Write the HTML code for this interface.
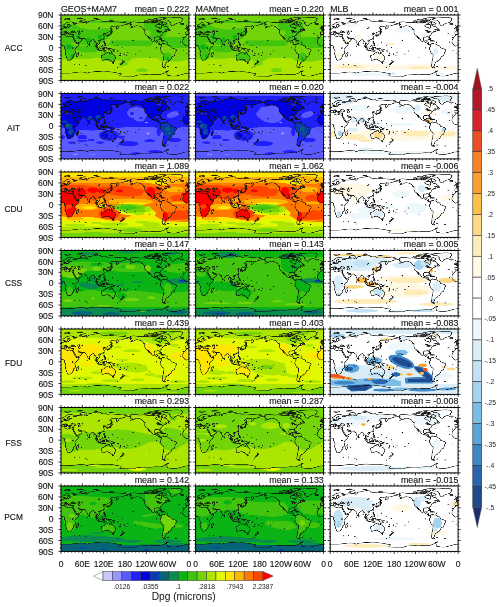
<!DOCTYPE html><html><head><meta charset="utf-8"><style>html,body{margin:0;padding:0;background:#fff}svg{display:block;will-change:transform}text{font-family:"Liberation Sans", sans-serif}</style></head><body><svg width="500" height="607" viewBox="0 0 500 607"><rect width="500" height="607" fill="#fff"/><defs><path id="coast" d="M-5.6 54.0L-9.6 59.5L-13.0 62.5L-17.0 69.0L-17.5 75.3L-16.7 77.5L-15.0 79.0L-13.3 81.0L-11.5 83.1L-7.5 85.6L-4.0 84.8L1.0 84.0L4.5 83.7L8.5 85.5L9.7 86.5L9.5 89.0L9.0 91.0L11.8 94.5L12.3 96.0L13.2 98.8L13.7 101.0L12.0 107.0L14.5 112.9L15.2 117.0L16.5 118.6L18.4 123.9L20.0 124.8L22.5 124.0L25.6 123.9L28.0 122.8L30.9 120.0L32.5 118.5L32.9 116.0L35.5 114.0L35.3 112.0L34.7 110.0L36.5 108.8L39.5 106.5L40.5 105.0L40.4 100.5L39.3 97.0L38.9 95.0L40.2 93.0L41.5 91.6L43.5 89.3L46.0 87.5L48.5 84.5L51.2 79.5L51.3 78.2L48.0 78.8L45.0 79.4L43.3 78.2L42.6 77.0L41.0 75.0L39.5 73.5L38.5 72.0L37.2 69.0L36.6 68.0L35.5 66.1L34.2 63.5L33.5 62.0L32.5 60.1L32.3 58.8L30.0 58.7L28.0 59.0L25.0 58.4L23.0 57.4L20.0 59.0L19.0 59.7L15.5 58.5L13.0 57.2L11.0 56.7L10.5 55.0L11.0 53.0L9.5 52.7L8.5 53.1L5.0 53.2L3.0 53.2L0.0 54.2L-2.0 55.0L-5.6 54.0ZM354.4 54.0L350.4 59.5L347.0 62.5L343.0 69.0L342.5 75.3L343.3 77.5L345.0 79.0L346.7 81.0L348.5 83.1L352.5 85.6L356.0 84.8L361.0 84.0L364.5 83.7L368.5 85.5L369.7 86.5L369.5 89.0L369.0 91.0L371.8 94.5L372.3 96.0L373.2 98.8L373.7 101.0L372.0 107.0L374.5 112.9L375.2 117.0L376.5 118.6L378.4 123.9L380.0 124.8L382.5 124.0L385.6 123.9L388.0 122.8L390.9 120.0L392.5 118.5L392.9 116.0L395.5 114.0L395.3 112.0L394.7 110.0L396.5 108.8L399.5 106.5L400.5 105.0L400.4 100.5L399.3 97.0L398.9 95.0L400.2 93.0L401.5 91.6L403.5 89.3L406.0 87.5L408.5 84.5L411.2 79.5L411.3 78.2L408.0 78.8L405.0 79.4L403.3 78.2L402.6 77.0L401.0 75.0L399.5 73.5L398.5 72.0L397.2 69.0L396.6 68.0L395.5 66.1L394.2 63.5L393.5 62.0L392.5 60.1L392.3 58.8L390.0 58.7L388.0 59.0L385.0 58.4L383.0 57.4L380.0 59.0L379.0 59.7L375.5 58.5L373.0 57.2L371.0 56.7L370.5 55.0L371.0 53.0L369.5 52.7L368.5 53.1L365.0 53.2L363.0 53.2L360.0 54.2L358.0 55.0L354.4 54.0ZM44.0 115.0L43.3 112.0L44.3 109.0L44.0 106.8L46.0 105.7L48.0 103.5L49.3 102.0L50.5 105.5L49.5 108.0L48.5 111.0L47.1 114.9L45.0 115.5L44.0 115.0ZM-5.6 54.0L-6.5 53.1L-8.9 53.0L-8.8 50.0L-8.9 47.5L-9.3 47.0L-7.5 46.3L-4.0 46.6L-1.8 46.6L-1.2 43.8L-2.2 42.8L-4.5 42.1L-3.0 41.2L-1.5 41.3L-1.4 40.3L0.2 40.5L1.6 39.8L2.5 38.9L4.0 38.5L4.8 37.0L7.0 36.5L8.6 36.0L8.6 34.5L8.1 33.2L10.5 32.3L10.5 33.8L10.0 35.2L11.0 36.0L12.5 35.6L14.2 36.1L18.0 35.2L19.9 35.6L21.2 34.8L21.0 33.2L23.5 32.7L24.4 32.1L23.5 30.8L28.0 30.5L30.0 30.0L26.0 29.6L22.5 30.0L21.5 27.0L25.0 25.0L22.2 24.2L21.0 25.5L17.5 27.5L17.2 29.0L18.8 30.0L18.5 30.7L16.5 33.0L16.0 34.0L14.2 34.6L12.8 34.2L12.5 33.4L11.5 31.5L10.5 30.7L8.0 31.9L6.0 31.8L5.5 31.0L5.0 29.0L5.2 27.5L8.5 26.5L10.5 25.5L12.5 24.0L14.5 22.0L16.5 21.0L19.0 20.0L23.0 19.5L26.0 19.0L28.5 19.0L31.0 19.7L33.0 20.5L36.0 20.9L40.0 22.2L41.0 23.5L38.0 24.0L35.0 23.5L34.5 25.0L37.0 26.0L40.0 25.5L44.0 24.0L44.0 21.5L48.0 22.4L53.0 21.5L59.0 21.5L61.0 20.2L66.0 21.0L68.5 21.7L66.5 19.2L68.0 17.5L71.5 17.1L72.5 18.5L72.0 23.0L75.0 21.5L77.0 17.7L80.0 16.5L86.0 16.0L87.0 15.0L95.0 14.0L104.0 12.3L106.0 13.0L112.0 13.5L113.5 16.5L120.0 17.5L128.0 17.2L131.0 19.0L140.0 17.5L150.0 18.5L159.0 19.2L170.0 20.0L176.0 20.3L180.0 21.1L186.0 22.7L190.3 24.0L187.0 25.7L181.5 25.5L178.0 27.5L174.0 28.2L170.0 30.0L164.0 30.0L163.0 32.0L162.0 32.0L163.5 34.0L160.0 37.0L156.7 39.0L156.0 37.0L156.0 33.0L160.0 29.0L155.0 30.5L151.0 31.0L143.0 30.7L140.5 32.5L137.0 36.0L141.0 37.0L141.5 38.5L140.5 42.0L138.0 45.0L135.0 46.8L132.0 47.0L130.5 47.7L129.5 49.5L129.5 53.0L129.3 54.8L127.0 55.4L126.3 55.5L126.5 53.2L126.0 52.3L124.7 50.3L122.0 51.0L121.5 49.2L119.5 50.2L117.8 51.0L118.5 52.0L119.0 52.8L122.5 52.6L120.5 54.0L119.5 55.5L120.8 58.0L121.9 59.2L121.5 62.0L119.5 64.5L117.0 66.5L114.0 67.7L111.0 68.5L110.3 69.7L109.5 68.5L108.0 68.5L106.5 69.7L105.7 71.0L106.5 72.5L108.8 74.7L109.3 77.0L109.0 78.5L107.0 79.6L105.0 81.3L104.8 80.0L103.0 79.0L102.0 77.7L100.8 76.5L100.0 77.5L99.2 80.0L99.8 81.0L100.3 82.5L101.3 83.1L102.3 84.0L103.4 85.5L103.5 87.3L104.2 88.6L103.4 88.7L101.3 87.2L100.4 85.5L100.2 83.5L98.3 82.0L98.5 79.5L98.6 77.0L97.7 73.5L96.5 73.2L95.3 74.2L94.3 73.9L94.6 71.5L93.0 70.0L92.2 69.0L91.8 67.6L90.5 68.0L89.0 68.2L87.0 68.5L86.9 69.5L85.0 70.7L82.3 73.5L80.3 74.5L80.2 76.5L79.8 79.7L78.0 81.5L77.5 81.9L76.5 81.1L75.5 78.5L74.5 75.5L73.5 74.0L72.8 71.0L72.8 69.0L72.5 68.5L70.5 69.2L69.0 67.7L68.5 66.5L67.5 65.5L66.6 64.6L64.0 64.7L61.5 64.8L58.5 64.4L57.3 64.1L56.5 62.9L54.5 63.4L52.5 62.5L50.8 61.0L50.0 59.8L48.5 60.0L48.0 60.7L48.5 62.0L50.0 63.5L50.5 64.5L51.5 64.2L51.5 65.7L54.0 65.8L56.0 64.5L56.3 63.6L57.0 66.0L58.8 67.4L59.8 67.6L58.5 69.5L57.8 71.0L56.5 72.0L55.0 73.0L52.2 74.4L49.5 75.5L48.5 76.0L45.0 77.2L43.5 77.3L42.8 75.0L42.6 73.5L41.2 71.0L39.2 68.5L38.5 66.5L37.0 64.5L35.3 62.0L34.6 61.9L35.0 60.5L34.3 62.2L33.5 61.5L32.5 60.1L32.5 58.8L34.3 58.7L35.0 57.2L35.5 55.5L35.9 54.2L36.0 53.2L34.5 53.2L32.5 53.9L30.5 53.7L28.3 53.2L27.0 52.2L26.5 50.5L26.2 49.6L26.0 49.2L24.0 49.2L23.0 49.7L22.6 50.0L23.0 51.0L24.0 51.8L23.0 52.5L22.5 53.5L21.7 53.2L21.2 51.7L20.0 50.3L19.5 48.5L18.5 47.5L16.0 46.5L14.5 45.0L13.7 44.4L12.3 44.7L12.4 45.8L13.6 46.5L16.0 48.1L18.5 49.8L17.0 50.5L16.5 51.5L15.7 52.0L16.0 50.5L15.5 49.8L14.0 49.0L12.4 48.3L10.5 47.0L9.3 45.7L8.0 46.1L6.5 46.9L4.5 46.5L3.0 47.0L3.2 48.1L1.0 49.0L0.0 50.5L-0.5 51.7L-2.0 53.2L-4.5 53.3L-5.6 54.0ZM354.4 54.0L353.5 53.1L351.1 53.0L351.2 50.0L351.1 47.5L350.7 47.0L352.5 46.3L356.0 46.6L358.2 46.6L358.8 43.8L357.8 42.8L355.5 42.1L357.0 41.2L358.5 41.3L358.6 40.3L360.2 40.5L361.6 39.8L362.5 38.9L364.0 38.5L364.8 37.0L367.0 36.5L368.6 36.0L368.6 34.5L368.1 33.2L370.5 32.3L370.5 33.8L370.0 35.2L371.0 36.0L372.5 35.6L374.2 36.1L378.0 35.2L379.9 35.6L381.2 34.8L381.0 33.2L383.5 32.7L384.4 32.1L383.5 30.8L388.0 30.5L390.0 30.0L386.0 29.6L382.5 30.0L381.5 27.0L385.0 25.0L382.2 24.2L381.0 25.5L377.5 27.5L377.2 29.0L378.8 30.0L378.5 30.7L376.5 33.0L376.0 34.0L374.2 34.6L372.8 34.2L372.5 33.4L371.5 31.5L370.5 30.7L368.0 31.9L366.0 31.8L365.5 31.0L365.0 29.0L365.2 27.5L368.5 26.5L370.5 25.5L372.5 24.0L374.5 22.0L376.5 21.0L379.0 20.0L383.0 19.5L386.0 19.0L388.5 19.0L391.0 19.7L393.0 20.5L396.0 20.9L400.0 22.2L401.0 23.5L398.0 24.0L395.0 23.5L394.5 25.0L397.0 26.0L400.0 25.5L404.0 24.0L404.0 21.5L408.0 22.4L413.0 21.5L419.0 21.5L421.0 20.2L426.0 21.0L428.5 21.7L426.5 19.2L428.0 17.5L431.5 17.1L432.5 18.5L432.0 23.0L435.0 21.5L437.0 17.7L440.0 16.5L446.0 16.0L447.0 15.0L455.0 14.0L464.0 12.3L466.0 13.0L472.0 13.5L473.5 16.5L480.0 17.5L488.0 17.2L491.0 19.0L500.0 17.5L510.0 18.5L519.0 19.2L530.0 20.0L536.0 20.3L540.0 21.1L546.0 22.7L550.3 24.0L547.0 25.7L541.5 25.5L538.0 27.5L534.0 28.2L530.0 30.0L524.0 30.0L523.0 32.0L522.0 32.0L523.5 34.0L520.0 37.0L516.7 39.0L516.0 37.0L516.0 33.0L520.0 29.0L515.0 30.5L511.0 31.0L503.0 30.7L500.5 32.5L497.0 36.0L501.0 37.0L501.5 38.5L500.5 42.0L498.0 45.0L495.0 46.8L492.0 47.0L490.5 47.7L489.5 49.5L489.5 53.0L489.3 54.8L487.0 55.4L486.3 55.5L486.5 53.2L486.0 52.3L484.7 50.3L482.0 51.0L481.5 49.2L479.5 50.2L477.8 51.0L478.5 52.0L479.0 52.8L482.5 52.6L480.5 54.0L479.5 55.5L480.8 58.0L481.9 59.2L481.5 62.0L479.5 64.5L477.0 66.5L474.0 67.7L471.0 68.5L470.3 69.7L469.5 68.5L468.0 68.5L466.5 69.7L465.7 71.0L466.5 72.5L468.8 74.7L469.3 77.0L469.0 78.5L467.0 79.6L465.0 81.3L464.8 80.0L463.0 79.0L462.0 77.7L460.8 76.5L460.0 77.5L459.2 80.0L459.8 81.0L460.3 82.5L461.3 83.1L462.3 84.0L463.4 85.5L463.5 87.3L464.2 88.6L463.4 88.7L461.3 87.2L460.4 85.5L460.2 83.5L458.3 82.0L458.5 79.5L458.6 77.0L457.7 73.5L456.5 73.2L455.3 74.2L454.3 73.9L454.6 71.5L453.0 70.0L452.2 69.0L451.8 67.6L450.5 68.0L449.0 68.2L447.0 68.5L446.9 69.5L445.0 70.7L442.3 73.5L440.3 74.5L440.2 76.5L439.8 79.7L438.0 81.5L437.5 81.9L436.5 81.1L435.5 78.5L434.5 75.5L433.5 74.0L432.8 71.0L432.8 69.0L432.5 68.5L430.5 69.2L429.0 67.7L428.5 66.5L427.5 65.5L426.6 64.6L424.0 64.7L421.5 64.8L418.5 64.4L417.3 64.1L416.5 62.9L414.5 63.4L412.5 62.5L410.8 61.0L410.0 59.8L408.5 60.0L408.0 60.7L408.5 62.0L410.0 63.5L410.5 64.5L411.5 64.2L411.5 65.7L414.0 65.8L416.0 64.5L416.3 63.6L417.0 66.0L418.8 67.4L419.8 67.6L418.5 69.5L417.8 71.0L416.5 72.0L415.0 73.0L412.2 74.4L409.5 75.5L408.5 76.0L405.0 77.2L403.5 77.3L402.8 75.0L402.6 73.5L401.2 71.0L399.2 68.5L398.5 66.5L397.0 64.5L395.3 62.0L394.6 61.9L395.0 60.5L394.3 62.2L393.5 61.5L392.5 60.1L392.5 58.8L394.3 58.7L395.0 57.2L395.5 55.5L395.9 54.2L396.0 53.2L394.5 53.2L392.5 53.9L390.5 53.7L388.3 53.2L387.0 52.2L386.5 50.5L386.2 49.6L386.0 49.2L384.0 49.2L383.0 49.7L382.6 50.0L383.0 51.0L384.0 51.8L383.0 52.5L382.5 53.5L381.7 53.2L381.2 51.7L380.0 50.3L379.5 48.5L378.5 47.5L376.0 46.5L374.5 45.0L373.7 44.4L372.3 44.7L372.4 45.8L373.6 46.5L376.0 48.1L378.5 49.8L377.0 50.5L376.5 51.5L375.7 52.0L376.0 50.5L375.5 49.8L374.0 49.0L372.4 48.3L370.5 47.0L369.3 45.7L368.0 46.1L366.5 46.9L364.5 46.5L363.0 47.0L363.2 48.1L361.0 49.0L360.0 50.5L359.5 51.7L358.0 53.2L355.5 53.3L354.4 54.0ZM28.0 48.7L28.7 46.6L30.0 44.5L31.5 43.4L33.5 44.0L32.5 44.7L33.5 45.5L35.5 45.0L37.0 44.7L38.5 45.7L40.0 46.7L41.6 48.4L40.0 49.0L38.0 49.1L35.5 48.3L33.3 48.0L31.3 48.8L28.0 48.7ZM47.0 45.0L49.5 43.5L53.0 43.3L53.5 45.0L51.0 45.5L52.8 48.5L54.0 49.5L53.5 51.5L53.5 53.0L51.0 53.3L49.0 52.4L49.3 49.7L48.5 48.2L47.5 47.0L47.0 45.0ZM192.0 24.4L195.5 23.5L196.5 22.5L194.0 21.2L197.0 20.0L203.0 19.0L203.5 18.7L208.0 19.2L215.0 20.0L219.0 20.4L223.0 21.0L227.0 20.5L231.0 20.0L235.0 20.5L240.0 21.0L245.0 22.0L250.0 22.0L254.0 21.5L260.0 22.2L263.0 22.0L265.0 21.0L267.0 20.5L270.0 21.5L272.0 22.5L274.0 21.5L276.0 23.0L278.0 23.5L274.0 24.5L272.0 26.0L268.0 27.5L265.5 30.0L267.0 31.3L270.0 33.0L274.0 34.5L278.0 35.0L277.7 37.0L280.0 38.5L281.0 37.5L281.0 35.5L283.0 34.0L283.0 32.0L282.0 30.0L282.5 28.0L286.0 27.5L289.0 29.0L290.5 31.0L294.0 31.2L295.5 29.7L298.0 32.5L300.0 35.0L303.0 37.0L304.3 38.0L302.5 38.8L300.0 39.8L296.0 39.8L293.5 40.5L295.5 41.2L295.0 42.0L295.5 43.5L298.5 44.4L297.0 45.4L294.0 46.2L294.0 45.0L293.0 45.4L290.0 46.3L289.4 47.5L290.0 48.3L288.5 48.7L286.1 49.4L286.0 50.5L285.0 51.2L284.0 53.0L284.3 54.8L283.0 55.5L281.0 56.5L279.0 58.0L278.7 60.0L279.9 63.5L279.5 64.8L278.5 64.2L277.4 62.5L277.2 61.0L276.0 60.0L274.0 59.6L271.5 59.6L270.5 60.8L269.0 60.7L266.0 60.3L263.0 62.2L262.5 64.5L262.3 68.0L263.0 70.0L264.0 71.0L265.5 71.8L268.0 71.4L269.5 70.5L269.7 69.0L273.0 68.5L272.5 71.0L271.8 72.5L271.5 74.0L274.0 74.0L276.0 75.0L276.7 75.8L276.4 78.5L277.5 80.5L280.5 80.5L282.5 81.3L282.7 82.0L282.0 82.7L280.5 82.2L279.5 82.7L278.5 81.9L276.5 81.5L274.3 80.0L274.1 78.8L272.5 77.0L270.5 76.5L268.5 76.0L267.0 74.4L265.5 73.8L263.5 74.3L261.5 73.7L259.0 72.7L256.5 71.5L254.5 69.5L254.8 68.2L254.0 67.0L252.0 65.0L250.5 63.5L249.0 62.0L247.2 59.7L245.3 58.3L245.5 60.0L247.5 62.5L249.7 66.0L250.5 66.9L249.7 66.5L248.0 65.0L246.0 62.5L245.5 61.0L244.0 59.5L242.9 57.5L241.5 56.0L239.4 55.5L238.1 53.5L237.5 52.2L236.2 50.5L235.7 49.0L235.5 47.0L236.0 44.0L235.3 41.6L237.0 41.5L235.5 40.2L232.5 39.2L232.0 38.0L230.0 36.0L228.5 34.5L226.0 32.5L224.0 31.7L221.0 30.5L217.0 30.0L214.0 29.2L211.0 30.0L208.5 30.7L206.0 33.0L203.0 33.0L199.0 34.5L195.5 35.5L200.0 33.5L202.0 31.4L198.0 31.0L195.5 29.5L194.5 28.0L195.5 26.8L199.0 26.0L196.5 25.5L193.5 25.3L192.0 24.4ZM282.7 82.0L284.0 80.5L284.5 79.5L286.0 78.7L288.0 78.0L288.7 79.0L288.5 79.5L290.0 78.5L292.0 79.5L295.0 79.9L298.0 79.3L299.0 81.0L301.0 82.0L303.0 84.0L306.0 84.2L308.0 85.5L309.0 86.5L310.0 88.3L310.0 90.0L312.0 91.0L315.0 91.5L318.0 92.8L321.0 93.5L323.0 94.8L324.8 95.5L325.2 97.5L324.7 99.5L323.0 101.0L321.3 103.0L321.0 106.0L320.5 108.0L319.5 111.0L318.0 113.0L315.5 113.3L313.0 114.5L311.5 116.5L311.3 118.5L309.5 121.0L307.5 123.5L306.0 124.7L303.0 125.5L302.7 127.0L302.2 128.5L298.0 129.0L297.5 130.5L295.0 131.0L295.5 132.5L294.5 135.0L292.5 136.5L294.0 138.0L291.5 140.5L291.5 142.3L290.0 143.0L288.5 144.0L286.0 142.5L284.5 140.0L285.5 136.0L286.5 133.0L286.3 130.0L286.6 127.0L288.3 123.0L288.5 120.0L289.4 115.0L289.8 110.0L289.6 108.4L288.0 107.0L284.5 105.0L283.5 103.0L282.0 100.0L280.5 97.0L279.0 95.5L278.8 94.2L280.0 93.0L279.5 91.0L280.0 89.2L281.2 88.5L282.5 86.5L282.7 84.0L282.2 82.8L282.7 82.0ZM291.4 142.6L294.7 144.9L292.0 145.6L289.0 145.0L285.5 142.8L290.0 143.5L291.4 142.6ZM287.0 11.5L293.0 9.5L300.0 8.0L310.0 7.5L320.0 6.5L330.0 6.5L338.0 7.5L340.0 9.0L343.0 10.0L341.0 12.0L341.5 14.0L340.0 16.0L338.0 17.5L338.0 19.5L335.0 20.5L331.0 21.7L328.0 22.0L325.0 23.7L322.0 24.5L320.0 25.5L318.5 27.5L317.0 30.0L315.0 29.8L312.0 29.0L310.0 27.5L308.5 25.5L307.0 23.5L306.0 21.5L309.0 20.5L306.0 19.2L305.0 18.0L303.0 15.5L300.0 14.0L293.0 14.0L289.0 12.5L287.0 11.5ZM298.0 23.5L296.0 25.0L294.0 27.0L292.0 27.2L289.0 26.2L286.0 25.4L282.0 25.5L286.0 22.5L287.0 21.5L283.0 20.0L279.0 20.0L270.0 18.0L274.0 16.5L280.0 16.5L284.0 17.5L289.0 19.0L293.0 20.5L298.0 23.5ZM258.0 21.0L254.0 21.0L248.0 21.5L242.0 20.5L242.0 18.5L246.0 17.0L252.0 17.0L256.0 19.0L258.0 21.0ZM270.0 13.5L280.0 13.5L284.0 11.5L290.0 10.0L298.0 8.0L290.0 7.0L280.0 7.0L270.0 8.5L268.0 11.0L270.0 13.5ZM235.0 18.5L240.0 19.0L243.0 17.0L240.0 15.5L235.0 16.0L235.0 18.5ZM280.0 15.5L268.0 15.5L264.0 14.0L270.0 13.0L278.0 13.5L280.0 15.5ZM262.0 15.0L255.0 14.5L250.0 13.5L243.0 14.0L248.0 12.0L258.0 11.5L262.0 13.0L262.0 15.0ZM280.0 26.5L275.0 27.0L273.0 25.5L275.0 24.2L279.0 25.5L280.0 26.5ZM270.0 17.5L265.0 18.0L263.0 16.5L266.0 16.0L270.0 16.7L270.0 17.5ZM264.0 20.5L260.0 21.0L261.0 20.0L264.0 20.5ZM262.0 19.0L257.0 18.5L257.0 17.0L261.0 16.5L263.0 18.0L262.0 19.0ZM272.0 11.0L264.0 11.0L263.0 9.0L268.0 9.0L272.0 11.0ZM10.0 12.0L16.0 13.5L23.0 12.5L27.0 11.0L22.0 9.5L17.0 10.0L11.0 10.3L10.0 12.0ZM52.0 18.5L56.0 19.5L58.0 18.5L55.0 17.0L57.0 15.0L62.0 14.0L68.5 13.0L66.0 13.0L58.0 14.5L54.5 16.0L52.0 18.5ZM96.0 11.0L104.0 11.0L100.0 9.0L92.0 10.0L96.0 11.0ZM138.0 15.0L148.0 14.5L141.0 13.5L136.0 14.0L138.0 15.0ZM178.0 19.0L183.0 18.8L181.0 18.4L178.0 19.0ZM45.0 10.0L55.0 10.0L62.0 9.0L55.0 8.2L47.0 9.0L45.0 10.0ZM338.0 26.0L336.0 24.5L338.0 23.6L344.0 23.5L346.0 24.5L345.5 25.6L342.0 26.6L338.0 26.0ZM-5.7 40.0L-3.0 39.4L1.3 38.9L1.7 37.3L0.2 36.5L-1.5 35.0L-2.0 34.0L-1.8 32.4L-3.5 31.4L-5.0 31.4L-6.2 32.5L-5.6 34.0L-4.9 35.0L-3.0 35.1L-3.2 36.1L-3.0 36.6L-4.5 36.7L-4.3 37.7L-5.3 38.2L-3.2 38.6L-5.7 40.0ZM354.3 40.0L357.0 39.4L361.3 38.9L361.7 37.3L360.2 36.5L358.5 35.0L358.0 34.0L358.2 32.4L356.5 31.4L355.0 31.4L353.8 32.5L354.4 34.0L355.1 35.0L357.0 35.1L356.8 36.1L357.0 36.6L355.5 36.7L355.7 37.7L354.7 38.2L356.8 38.6L354.3 40.0ZM354.0 38.0L354.0 36.1L354.0 35.0L352.5 34.7L351.5 35.5L350.0 36.0L350.3 37.0L349.7 38.0L350.5 38.5L354.0 38.0ZM130.0 58.7L131.3 58.6L132.0 56.5L133.5 56.5L135.2 56.2L136.8 55.5L139.0 55.3L140.8 54.3L141.0 51.7L142.0 50.5L141.4 48.6L140.0 49.3L139.8 51.5L138.5 52.5L136.8 52.8L136.0 54.3L133.0 54.5L131.0 55.5L129.7 56.7L130.0 58.7ZM140.0 48.5L141.0 47.5L143.3 48.0L145.5 46.7L145.0 45.8L142.0 44.5L141.5 46.0L140.0 47.0L140.0 48.5ZM142.0 44.0L143.5 43.5L143.0 41.0L144.5 41.0L143.0 37.0L142.5 35.7L142.0 39.0L142.0 44.0ZM120.1 67.0L120.9 68.0L121.9 65.5L121.5 64.7L120.1 67.0ZM108.6 71.0L110.5 71.8L111.0 70.3L110.2 69.9L108.6 71.0ZM79.8 82.0L80.2 80.2L81.8 82.5L81.2 83.8L80.0 84.0L79.8 82.0ZM120.0 74.0L120.6 71.5L122.2 71.5L122.0 73.0L121.5 74.5L124.0 77.0L122.0 76.5L120.6 75.8L120.0 74.0ZM122.0 83.0L123.5 82.2L126.0 80.7L126.5 83.0L125.4 84.4L124.0 83.5L122.0 83.0ZM122.0 79.0L125.5 77.5L125.0 80.0L123.0 80.5L122.0 79.0ZM109.0 88.5L109.6 88.0L111.0 88.2L113.0 86.8L115.5 85.0L116.8 83.0L118.5 84.5L119.0 85.0L117.7 86.0L118.5 89.0L117.5 90.0L116.6 91.5L116.2 94.0L114.5 93.5L111.5 93.0L110.2 92.9L110.0 91.0L109.0 89.5L109.0 88.5ZM95.3 84.4L97.5 84.8L100.3 87.5L103.5 90.0L104.5 91.5L106.0 93.0L105.8 95.8L104.5 95.8L102.0 94.0L100.5 91.5L99.0 89.5L98.0 87.5L95.3 84.4ZM105.2 96.8L106.0 96.0L108.5 96.3L110.5 96.8L112.5 96.9L114.5 97.8L114.3 98.7L111.0 98.2L108.0 97.8L105.2 96.8ZM115.0 98.3L119.0 98.5L123.0 98.3L127.0 98.4L125.0 99.5L124.0 100.2L120.0 99.8L116.0 98.9L115.0 98.3ZM119.5 95.5L120.4 95.5L120.5 93.0L122.0 94.8L122.5 94.0L121.3 92.0L123.3 90.8L121.0 90.8L120.5 89.5L123.5 89.1L125.0 88.5L124.0 89.7L120.0 90.0L119.8 91.0L118.8 92.8L119.5 95.5ZM127.5 88.5L128.5 88.0L128.0 90.0L128.5 91.0L127.5 90.5L127.5 88.5ZM128.0 93.0L130.5 93.2L130.0 93.8L128.0 93.5L128.0 93.0ZM131.0 91.0L132.5 90.5L135.0 93.3L138.0 91.7L141.0 92.6L144.5 93.8L146.0 95.5L147.7 96.5L147.5 98.0L150.0 100.4L148.0 100.0L146.0 98.5L143.5 99.0L142.5 99.3L141.0 99.1L139.0 98.0L138.5 96.8L137.8 95.2L135.0 94.3L133.0 94.0L132.0 92.8L133.0 92.3L131.0 91.0ZM148.5 95.5L151.0 95.0L152.0 94.2L152.3 95.5L150.0 96.3L148.5 95.5ZM113.5 112.0L114.2 116.0L113.5 116.5L115.0 119.5L115.7 123.3L115.0 124.3L117.8 125.0L121.0 123.8L124.0 123.0L126.0 122.3L129.0 121.6L131.5 121.5L134.0 122.8L135.6 124.8L137.5 123.0L137.8 125.5L139.5 125.7L140.5 128.0L143.5 128.8L146.3 129.1L148.0 127.8L150.0 127.5L151.2 124.0L152.5 122.0L153.6 118.5L153.0 115.3L150.8 112.5L149.0 110.5L146.3 109.0L145.5 106.0L145.3 104.8L143.6 104.0L142.5 100.7L141.6 102.8L141.5 105.5L140.5 107.6L139.3 107.4L137.0 105.8L135.5 105.0L136.8 102.2L135.5 102.0L132.5 101.5L131.0 102.2L129.5 104.8L127.5 104.0L125.5 104.5L124.0 106.5L122.2 108.0L121.0 109.5L118.5 110.3L116.5 110.8L114.6 111.8L113.5 112.0ZM144.6 130.7L148.3 130.9L148.0 133.0L146.5 133.6L145.2 132.2L144.6 130.7ZM172.6 124.4L174.5 126.0L175.8 127.0L178.5 127.7L177.0 129.5L176.0 131.2L174.7 131.3L175.0 129.5L173.8 129.2L174.5 127.2L172.6 124.4ZM172.7 130.5L174.2 131.6L173.0 133.5L171.0 134.5L169.5 136.6L166.5 136.0L168.3 134.0L171.0 132.0L172.7 130.5ZM275.0 68.2L278.0 67.0L282.5 68.0L285.8 69.8L282.5 70.2L280.0 68.3L277.5 68.0L275.0 68.2ZM285.5 71.6L287.5 70.1L290.0 70.3L291.6 71.4L289.5 71.8L287.5 71.9L285.5 71.6ZM281.7 71.6L283.8 71.9L283.0 72.2L281.7 71.6ZM292.8 71.6L294.4 71.7L294.0 72.0L292.8 71.6ZM300.7 42.4L304.0 40.5L304.5 38.4L307.0 40.5L307.3 42.5L304.5 43.2L300.7 42.4ZM236.5 41.7L234.5 41.0L231.7 39.2L234.0 39.8L236.5 41.7ZM268.0 43.3L272.0 41.5L275.0 42.1L275.4 43.5L273.0 43.5L268.0 43.3ZM272.5 48.3L272.0 45.5L274.5 44.0L276.5 44.0L280.0 45.5L278.5 47.0L277.5 47.0L276.0 44.5L274.5 45.5L273.5 47.5L272.5 48.3ZM276.6 48.3L281.0 47.1L280.5 46.7L284.0 46.5L283.5 45.8L280.5 46.2L277.0 47.8L276.6 48.3ZM58.5 45.5L61.0 45.5L61.5 44.0L59.5 43.5L58.5 45.5ZM104.0 38.3L106.0 37.5L109.5 34.5L109.0 34.2L105.0 37.0L104.0 38.3ZM31.8 90.5L33.0 89.7L34.0 90.0L34.5 91.0L33.0 92.5L32.0 91.8L31.8 90.5ZM201.5 69.5L203.0 68.5L204.5 69.5L203.0 70.5L201.5 69.5ZM176.8 107.5L178.0 106.5L179.2 107.5L178.0 108.5L176.8 107.5ZM187.2 103.8L188.0 103.2L188.8 103.8L188.0 104.4L187.2 103.8ZM157.5 99.0L160.0 98.0L162.5 99.0L160.0 100.0L157.5 99.0ZM166.2 106.0L167.0 104.5L167.8 106.0L167.0 107.5L166.2 106.0ZM163.5 111.3L165.5 110.5L167.5 111.3L165.5 112.1L163.5 111.3ZM68.3 139.3L69.5 138.5L70.7 139.3L69.5 140.1L68.3 139.3ZM322.0 144.3L323.5 143.7L325.0 144.3L323.5 144.9L322.0 144.3ZM299.5 141.7L301.0 141.0L302.5 141.7L301.0 142.4L299.5 141.7ZM343.0 61.8L344.5 61.3L346.0 61.8L344.5 62.3L343.0 61.8ZM335.3 74.5L336.0 73.8L336.7 74.5L336.0 75.2L335.3 74.5ZM331.0 51.5L332.0 51.0L333.0 51.5L332.0 52.0L331.0 51.5ZM56.9 110.2L57.5 109.6L58.1 110.2L57.5 110.8L56.9 110.2ZM268.2 90.5L269.0 89.7L269.8 90.5L269.0 91.3L268.2 90.5ZM92.3 77.5L92.8 76.3L93.3 77.5L92.8 78.7L92.3 77.5ZM73.1 86.5L73.5 85.0L73.9 86.5L73.5 88.0L73.1 86.5ZM209.5 107.6L210.5 107.0L211.5 107.6L210.5 108.2L209.5 107.6ZM219.2 99.0L220.0 98.4L220.8 99.0L220.0 99.6L219.2 99.0ZM133.9 82.5L134.5 81.9L135.1 82.5L134.5 83.1L133.9 82.5ZM144.5 75.0L145.0 74.0L145.5 75.0L145.0 76.0L144.5 75.0ZM184.4 111.0L185.0 110.4L185.6 111.0L185.0 111.6L184.4 111.0ZM171.4 89.0L172.0 88.4L172.6 89.0L172.0 89.6L171.4 89.0ZM157.5 83.1L158.0 82.6L158.5 83.1L158.0 83.6L157.5 83.1ZM249.5 117.0L250.0 116.5L250.5 117.0L250.0 117.5L249.5 117.0ZM353.9 105.9L354.3 105.5L354.7 105.9L354.3 106.3L353.9 105.9ZM345.2 97.9L345.6 97.5L346.0 97.9L345.6 98.3L345.2 97.9ZM50.7 136.4L51.5 136.0L52.3 136.4L51.5 136.8L50.7 136.4ZM37.3 136.9L37.8 136.5L38.3 136.9L37.8 137.3L37.3 136.9ZM165.4 140.7L166.0 140.1L166.6 140.7L166.0 141.3L165.4 140.7ZM158.5 144.6L158.9 144.0L159.3 144.6L158.9 145.2L158.5 144.6ZM72.9 143.1L73.5 142.7L74.1 143.1L73.5 143.5L72.9 143.1ZM294.8 57.7L295.2 57.3L295.6 57.7L295.2 58.1L294.8 57.7ZM281.0 65.5L282.5 64.3L284.0 65.5L282.5 66.7L281.0 65.5ZM298.5 75.5L299.0 74.0L299.5 75.5L299.0 77.0L298.5 75.5ZM8.2 50.0L9.0 48.7L9.8 50.0L9.0 51.3L8.2 50.0ZM12.7 52.5L14.0 51.8L15.3 52.5L14.0 53.2L12.7 52.5ZM23.6 54.8L24.8 54.4L26.0 54.8L24.8 55.2L23.6 54.8ZM32.2 55.0L33.2 54.5L34.2 55.0L33.2 55.5L32.2 55.0ZM333.9 52.2L334.5 51.8L335.1 52.2L334.5 52.6L333.9 52.2ZM342.7 57.3L343.1 56.9L343.5 57.3L343.1 57.7L342.7 57.3ZM352.4 28.0L353.0 27.5L353.6 28.0L353.0 28.5L352.4 28.0ZM356.8 31.0L357.5 30.5L358.2 31.0L357.5 31.5L356.8 31.0ZM358.3 29.7L358.7 29.0L359.1 29.7L358.7 30.4L358.3 29.7ZM126.0 56.6L126.5 56.3L127.0 56.6L126.5 56.9L126.0 56.6ZM150.9 123.8L151.0 123.7L151.1 123.8L151.0 123.9L150.9 123.8ZM-180.0 168.4L-160.0 168.5L-155.0 169.0L-150.0 167.0L-145.0 165.5L-135.0 164.5L-120.0 164.0L-110.0 164.5L-100.0 163.5L-90.0 163.0L-80.0 163.5L-75.0 162.0L-68.0 159.0L-65.0 156.0L-60.0 154.0L-57.0 153.3L-58.0 154.5L-62.0 156.5L-63.0 158.0L-62.0 160.0L-61.0 162.5L-62.0 164.5L-60.0 166.0L-50.0 167.5L-40.0 168.0L-35.0 167.5L-28.0 166.0L-20.0 164.0L-15.0 162.5L-10.0 161.0L0.0 160.0L10.0 160.0L20.0 160.0L30.0 159.5L35.0 159.0L40.0 158.5L50.0 157.0L55.0 156.5L60.0 157.0L70.0 158.0L72.0 160.0L75.0 159.5L80.0 157.5L90.0 156.5L100.0 155.5L110.0 156.0L120.0 156.5L130.0 156.0L140.0 156.5L150.0 158.0L160.0 160.0L170.0 161.5L168.0 164.0L165.0 167.0L170.0 168.0L180.0 168.4M180.0 168.4L200.0 168.5L205.0 169.0L210.0 167.0L215.0 165.5L225.0 164.5L240.0 164.0L250.0 164.5L260.0 163.5L270.0 163.0L280.0 163.5L285.0 162.0L292.0 159.0L295.0 156.0L300.0 154.0L303.0 153.3L302.0 154.5L298.0 156.5L297.0 158.0L298.0 160.0L299.0 162.5L298.0 164.5L300.0 166.0L310.0 167.5L320.0 168.0L325.0 167.5L332.0 166.0L340.0 164.0L345.0 162.5L350.0 161.0L360.0 160.0L370.0 160.0L380.0 160.0L390.0 159.5L395.0 159.0L400.0 158.5L410.0 157.0L415.0 156.5L420.0 157.0L430.0 158.0L432.0 160.0L435.0 159.5L440.0 157.5L450.0 156.5L460.0 155.5L470.0 156.0L480.0 156.5L490.0 156.0L500.0 156.5L510.0 158.0L520.0 160.0L530.0 161.5L528.0 164.0L525.0 167.0L530.0 168.0L540.0 168.4" fill="none" stroke="#111" stroke-width="0.6" vector-effect="non-scaling-stroke" stroke-linejoin="round"/><path id="land" d="M-5.6 54.0L-9.6 59.5L-13.0 62.5L-17.0 69.0L-17.5 75.3L-16.7 77.5L-15.0 79.0L-13.3 81.0L-11.5 83.1L-7.5 85.6L-4.0 84.8L1.0 84.0L4.5 83.7L8.5 85.5L9.7 86.5L9.5 89.0L9.0 91.0L11.8 94.5L12.3 96.0L13.2 98.8L13.7 101.0L12.0 107.0L14.5 112.9L15.2 117.0L16.5 118.6L18.4 123.9L20.0 124.8L22.5 124.0L25.6 123.9L28.0 122.8L30.9 120.0L32.5 118.5L32.9 116.0L35.5 114.0L35.3 112.0L34.7 110.0L36.5 108.8L39.5 106.5L40.5 105.0L40.4 100.5L39.3 97.0L38.9 95.0L40.2 93.0L41.5 91.6L43.5 89.3L46.0 87.5L48.5 84.5L51.2 79.5L51.3 78.2L48.0 78.8L45.0 79.4L43.3 78.2L42.6 77.0L41.0 75.0L39.5 73.5L38.5 72.0L37.2 69.0L36.6 68.0L35.5 66.1L34.2 63.5L33.5 62.0L32.5 60.1L32.3 58.8L30.0 58.7L28.0 59.0L25.0 58.4L23.0 57.4L20.0 59.0L19.0 59.7L15.5 58.5L13.0 57.2L11.0 56.7L10.5 55.0L11.0 53.0L9.5 52.7L8.5 53.1L5.0 53.2L3.0 53.2L0.0 54.2L-2.0 55.0L-5.6 54.0ZM354.4 54.0L350.4 59.5L347.0 62.5L343.0 69.0L342.5 75.3L343.3 77.5L345.0 79.0L346.7 81.0L348.5 83.1L352.5 85.6L356.0 84.8L361.0 84.0L364.5 83.7L368.5 85.5L369.7 86.5L369.5 89.0L369.0 91.0L371.8 94.5L372.3 96.0L373.2 98.8L373.7 101.0L372.0 107.0L374.5 112.9L375.2 117.0L376.5 118.6L378.4 123.9L380.0 124.8L382.5 124.0L385.6 123.9L388.0 122.8L390.9 120.0L392.5 118.5L392.9 116.0L395.5 114.0L395.3 112.0L394.7 110.0L396.5 108.8L399.5 106.5L400.5 105.0L400.4 100.5L399.3 97.0L398.9 95.0L400.2 93.0L401.5 91.6L403.5 89.3L406.0 87.5L408.5 84.5L411.2 79.5L411.3 78.2L408.0 78.8L405.0 79.4L403.3 78.2L402.6 77.0L401.0 75.0L399.5 73.5L398.5 72.0L397.2 69.0L396.6 68.0L395.5 66.1L394.2 63.5L393.5 62.0L392.5 60.1L392.3 58.8L390.0 58.7L388.0 59.0L385.0 58.4L383.0 57.4L380.0 59.0L379.0 59.7L375.5 58.5L373.0 57.2L371.0 56.7L370.5 55.0L371.0 53.0L369.5 52.7L368.5 53.1L365.0 53.2L363.0 53.2L360.0 54.2L358.0 55.0L354.4 54.0ZM44.0 115.0L43.3 112.0L44.3 109.0L44.0 106.8L46.0 105.7L48.0 103.5L49.3 102.0L50.5 105.5L49.5 108.0L48.5 111.0L47.1 114.9L45.0 115.5L44.0 115.0ZM-5.6 54.0L-6.5 53.1L-8.9 53.0L-8.8 50.0L-8.9 47.5L-9.3 47.0L-7.5 46.3L-4.0 46.6L-1.8 46.6L-1.2 43.8L-2.2 42.8L-4.5 42.1L-3.0 41.2L-1.5 41.3L-1.4 40.3L0.2 40.5L1.6 39.8L2.5 38.9L4.0 38.5L4.8 37.0L7.0 36.5L8.6 36.0L8.6 34.5L8.1 33.2L10.5 32.3L10.5 33.8L10.0 35.2L11.0 36.0L12.5 35.6L14.2 36.1L18.0 35.2L19.9 35.6L21.2 34.8L21.0 33.2L23.5 32.7L24.4 32.1L23.5 30.8L28.0 30.5L30.0 30.0L26.0 29.6L22.5 30.0L21.5 27.0L25.0 25.0L22.2 24.2L21.0 25.5L17.5 27.5L17.2 29.0L18.8 30.0L18.5 30.7L16.5 33.0L16.0 34.0L14.2 34.6L12.8 34.2L12.5 33.4L11.5 31.5L10.5 30.7L8.0 31.9L6.0 31.8L5.5 31.0L5.0 29.0L5.2 27.5L8.5 26.5L10.5 25.5L12.5 24.0L14.5 22.0L16.5 21.0L19.0 20.0L23.0 19.5L26.0 19.0L28.5 19.0L31.0 19.7L33.0 20.5L36.0 20.9L40.0 22.2L41.0 23.5L38.0 24.0L35.0 23.5L34.5 25.0L37.0 26.0L40.0 25.5L44.0 24.0L44.0 21.5L48.0 22.4L53.0 21.5L59.0 21.5L61.0 20.2L66.0 21.0L68.5 21.7L66.5 19.2L68.0 17.5L71.5 17.1L72.5 18.5L72.0 23.0L75.0 21.5L77.0 17.7L80.0 16.5L86.0 16.0L87.0 15.0L95.0 14.0L104.0 12.3L106.0 13.0L112.0 13.5L113.5 16.5L120.0 17.5L128.0 17.2L131.0 19.0L140.0 17.5L150.0 18.5L159.0 19.2L170.0 20.0L176.0 20.3L180.0 21.1L186.0 22.7L190.3 24.0L187.0 25.7L181.5 25.5L178.0 27.5L174.0 28.2L170.0 30.0L164.0 30.0L163.0 32.0L162.0 32.0L163.5 34.0L160.0 37.0L156.7 39.0L156.0 37.0L156.0 33.0L160.0 29.0L155.0 30.5L151.0 31.0L143.0 30.7L140.5 32.5L137.0 36.0L141.0 37.0L141.5 38.5L140.5 42.0L138.0 45.0L135.0 46.8L132.0 47.0L130.5 47.7L129.5 49.5L129.5 53.0L129.3 54.8L127.0 55.4L126.3 55.5L126.5 53.2L126.0 52.3L124.7 50.3L122.0 51.0L121.5 49.2L119.5 50.2L117.8 51.0L118.5 52.0L119.0 52.8L122.5 52.6L120.5 54.0L119.5 55.5L120.8 58.0L121.9 59.2L121.5 62.0L119.5 64.5L117.0 66.5L114.0 67.7L111.0 68.5L110.3 69.7L109.5 68.5L108.0 68.5L106.5 69.7L105.7 71.0L106.5 72.5L108.8 74.7L109.3 77.0L109.0 78.5L107.0 79.6L105.0 81.3L104.8 80.0L103.0 79.0L102.0 77.7L100.8 76.5L100.0 77.5L99.2 80.0L99.8 81.0L100.3 82.5L101.3 83.1L102.3 84.0L103.4 85.5L103.5 87.3L104.2 88.6L103.4 88.7L101.3 87.2L100.4 85.5L100.2 83.5L98.3 82.0L98.5 79.5L98.6 77.0L97.7 73.5L96.5 73.2L95.3 74.2L94.3 73.9L94.6 71.5L93.0 70.0L92.2 69.0L91.8 67.6L90.5 68.0L89.0 68.2L87.0 68.5L86.9 69.5L85.0 70.7L82.3 73.5L80.3 74.5L80.2 76.5L79.8 79.7L78.0 81.5L77.5 81.9L76.5 81.1L75.5 78.5L74.5 75.5L73.5 74.0L72.8 71.0L72.8 69.0L72.5 68.5L70.5 69.2L69.0 67.7L68.5 66.5L67.5 65.5L66.6 64.6L64.0 64.7L61.5 64.8L58.5 64.4L57.3 64.1L56.5 62.9L54.5 63.4L52.5 62.5L50.8 61.0L50.0 59.8L48.5 60.0L48.0 60.7L48.5 62.0L50.0 63.5L50.5 64.5L51.5 64.2L51.5 65.7L54.0 65.8L56.0 64.5L56.3 63.6L57.0 66.0L58.8 67.4L59.8 67.6L58.5 69.5L57.8 71.0L56.5 72.0L55.0 73.0L52.2 74.4L49.5 75.5L48.5 76.0L45.0 77.2L43.5 77.3L42.8 75.0L42.6 73.5L41.2 71.0L39.2 68.5L38.5 66.5L37.0 64.5L35.3 62.0L34.6 61.9L35.0 60.5L34.3 62.2L33.5 61.5L32.5 60.1L32.5 58.8L34.3 58.7L35.0 57.2L35.5 55.5L35.9 54.2L36.0 53.2L34.5 53.2L32.5 53.9L30.5 53.7L28.3 53.2L27.0 52.2L26.5 50.5L26.2 49.6L26.0 49.2L24.0 49.2L23.0 49.7L22.6 50.0L23.0 51.0L24.0 51.8L23.0 52.5L22.5 53.5L21.7 53.2L21.2 51.7L20.0 50.3L19.5 48.5L18.5 47.5L16.0 46.5L14.5 45.0L13.7 44.4L12.3 44.7L12.4 45.8L13.6 46.5L16.0 48.1L18.5 49.8L17.0 50.5L16.5 51.5L15.7 52.0L16.0 50.5L15.5 49.8L14.0 49.0L12.4 48.3L10.5 47.0L9.3 45.7L8.0 46.1L6.5 46.9L4.5 46.5L3.0 47.0L3.2 48.1L1.0 49.0L0.0 50.5L-0.5 51.7L-2.0 53.2L-4.5 53.3L-5.6 54.0ZM354.4 54.0L353.5 53.1L351.1 53.0L351.2 50.0L351.1 47.5L350.7 47.0L352.5 46.3L356.0 46.6L358.2 46.6L358.8 43.8L357.8 42.8L355.5 42.1L357.0 41.2L358.5 41.3L358.6 40.3L360.2 40.5L361.6 39.8L362.5 38.9L364.0 38.5L364.8 37.0L367.0 36.5L368.6 36.0L368.6 34.5L368.1 33.2L370.5 32.3L370.5 33.8L370.0 35.2L371.0 36.0L372.5 35.6L374.2 36.1L378.0 35.2L379.9 35.6L381.2 34.8L381.0 33.2L383.5 32.7L384.4 32.1L383.5 30.8L388.0 30.5L390.0 30.0L386.0 29.6L382.5 30.0L381.5 27.0L385.0 25.0L382.2 24.2L381.0 25.5L377.5 27.5L377.2 29.0L378.8 30.0L378.5 30.7L376.5 33.0L376.0 34.0L374.2 34.6L372.8 34.2L372.5 33.4L371.5 31.5L370.5 30.7L368.0 31.9L366.0 31.8L365.5 31.0L365.0 29.0L365.2 27.5L368.5 26.5L370.5 25.5L372.5 24.0L374.5 22.0L376.5 21.0L379.0 20.0L383.0 19.5L386.0 19.0L388.5 19.0L391.0 19.7L393.0 20.5L396.0 20.9L400.0 22.2L401.0 23.5L398.0 24.0L395.0 23.5L394.5 25.0L397.0 26.0L400.0 25.5L404.0 24.0L404.0 21.5L408.0 22.4L413.0 21.5L419.0 21.5L421.0 20.2L426.0 21.0L428.5 21.7L426.5 19.2L428.0 17.5L431.5 17.1L432.5 18.5L432.0 23.0L435.0 21.5L437.0 17.7L440.0 16.5L446.0 16.0L447.0 15.0L455.0 14.0L464.0 12.3L466.0 13.0L472.0 13.5L473.5 16.5L480.0 17.5L488.0 17.2L491.0 19.0L500.0 17.5L510.0 18.5L519.0 19.2L530.0 20.0L536.0 20.3L540.0 21.1L546.0 22.7L550.3 24.0L547.0 25.7L541.5 25.5L538.0 27.5L534.0 28.2L530.0 30.0L524.0 30.0L523.0 32.0L522.0 32.0L523.5 34.0L520.0 37.0L516.7 39.0L516.0 37.0L516.0 33.0L520.0 29.0L515.0 30.5L511.0 31.0L503.0 30.7L500.5 32.5L497.0 36.0L501.0 37.0L501.5 38.5L500.5 42.0L498.0 45.0L495.0 46.8L492.0 47.0L490.5 47.7L489.5 49.5L489.5 53.0L489.3 54.8L487.0 55.4L486.3 55.5L486.5 53.2L486.0 52.3L484.7 50.3L482.0 51.0L481.5 49.2L479.5 50.2L477.8 51.0L478.5 52.0L479.0 52.8L482.5 52.6L480.5 54.0L479.5 55.5L480.8 58.0L481.9 59.2L481.5 62.0L479.5 64.5L477.0 66.5L474.0 67.7L471.0 68.5L470.3 69.7L469.5 68.5L468.0 68.5L466.5 69.7L465.7 71.0L466.5 72.5L468.8 74.7L469.3 77.0L469.0 78.5L467.0 79.6L465.0 81.3L464.8 80.0L463.0 79.0L462.0 77.7L460.8 76.5L460.0 77.5L459.2 80.0L459.8 81.0L460.3 82.5L461.3 83.1L462.3 84.0L463.4 85.5L463.5 87.3L464.2 88.6L463.4 88.7L461.3 87.2L460.4 85.5L460.2 83.5L458.3 82.0L458.5 79.5L458.6 77.0L457.7 73.5L456.5 73.2L455.3 74.2L454.3 73.9L454.6 71.5L453.0 70.0L452.2 69.0L451.8 67.6L450.5 68.0L449.0 68.2L447.0 68.5L446.9 69.5L445.0 70.7L442.3 73.5L440.3 74.5L440.2 76.5L439.8 79.7L438.0 81.5L437.5 81.9L436.5 81.1L435.5 78.5L434.5 75.5L433.5 74.0L432.8 71.0L432.8 69.0L432.5 68.5L430.5 69.2L429.0 67.7L428.5 66.5L427.5 65.5L426.6 64.6L424.0 64.7L421.5 64.8L418.5 64.4L417.3 64.1L416.5 62.9L414.5 63.4L412.5 62.5L410.8 61.0L410.0 59.8L408.5 60.0L408.0 60.7L408.5 62.0L410.0 63.5L410.5 64.5L411.5 64.2L411.5 65.7L414.0 65.8L416.0 64.5L416.3 63.6L417.0 66.0L418.8 67.4L419.8 67.6L418.5 69.5L417.8 71.0L416.5 72.0L415.0 73.0L412.2 74.4L409.5 75.5L408.5 76.0L405.0 77.2L403.5 77.3L402.8 75.0L402.6 73.5L401.2 71.0L399.2 68.5L398.5 66.5L397.0 64.5L395.3 62.0L394.6 61.9L395.0 60.5L394.3 62.2L393.5 61.5L392.5 60.1L392.5 58.8L394.3 58.7L395.0 57.2L395.5 55.5L395.9 54.2L396.0 53.2L394.5 53.2L392.5 53.9L390.5 53.7L388.3 53.2L387.0 52.2L386.5 50.5L386.2 49.6L386.0 49.2L384.0 49.2L383.0 49.7L382.6 50.0L383.0 51.0L384.0 51.8L383.0 52.5L382.5 53.5L381.7 53.2L381.2 51.7L380.0 50.3L379.5 48.5L378.5 47.5L376.0 46.5L374.5 45.0L373.7 44.4L372.3 44.7L372.4 45.8L373.6 46.5L376.0 48.1L378.5 49.8L377.0 50.5L376.5 51.5L375.7 52.0L376.0 50.5L375.5 49.8L374.0 49.0L372.4 48.3L370.5 47.0L369.3 45.7L368.0 46.1L366.5 46.9L364.5 46.5L363.0 47.0L363.2 48.1L361.0 49.0L360.0 50.5L359.5 51.7L358.0 53.2L355.5 53.3L354.4 54.0ZM192.0 24.4L195.5 23.5L196.5 22.5L194.0 21.2L197.0 20.0L203.0 19.0L203.5 18.7L208.0 19.2L215.0 20.0L219.0 20.4L223.0 21.0L227.0 20.5L231.0 20.0L235.0 20.5L240.0 21.0L245.0 22.0L250.0 22.0L254.0 21.5L260.0 22.2L263.0 22.0L265.0 21.0L267.0 20.5L270.0 21.5L272.0 22.5L274.0 21.5L276.0 23.0L278.0 23.5L274.0 24.5L272.0 26.0L268.0 27.5L265.5 30.0L267.0 31.3L270.0 33.0L274.0 34.5L278.0 35.0L277.7 37.0L280.0 38.5L281.0 37.5L281.0 35.5L283.0 34.0L283.0 32.0L282.0 30.0L282.5 28.0L286.0 27.5L289.0 29.0L290.5 31.0L294.0 31.2L295.5 29.7L298.0 32.5L300.0 35.0L303.0 37.0L304.3 38.0L302.5 38.8L300.0 39.8L296.0 39.8L293.5 40.5L295.5 41.2L295.0 42.0L295.5 43.5L298.5 44.4L297.0 45.4L294.0 46.2L294.0 45.0L293.0 45.4L290.0 46.3L289.4 47.5L290.0 48.3L288.5 48.7L286.1 49.4L286.0 50.5L285.0 51.2L284.0 53.0L284.3 54.8L283.0 55.5L281.0 56.5L279.0 58.0L278.7 60.0L279.9 63.5L279.5 64.8L278.5 64.2L277.4 62.5L277.2 61.0L276.0 60.0L274.0 59.6L271.5 59.6L270.5 60.8L269.0 60.7L266.0 60.3L263.0 62.2L262.5 64.5L262.3 68.0L263.0 70.0L264.0 71.0L265.5 71.8L268.0 71.4L269.5 70.5L269.7 69.0L273.0 68.5L272.5 71.0L271.8 72.5L271.5 74.0L274.0 74.0L276.0 75.0L276.7 75.8L276.4 78.5L277.5 80.5L280.5 80.5L282.5 81.3L282.7 82.0L282.0 82.7L280.5 82.2L279.5 82.7L278.5 81.9L276.5 81.5L274.3 80.0L274.1 78.8L272.5 77.0L270.5 76.5L268.5 76.0L267.0 74.4L265.5 73.8L263.5 74.3L261.5 73.7L259.0 72.7L256.5 71.5L254.5 69.5L254.8 68.2L254.0 67.0L252.0 65.0L250.5 63.5L249.0 62.0L247.2 59.7L245.3 58.3L245.5 60.0L247.5 62.5L249.7 66.0L250.5 66.9L249.7 66.5L248.0 65.0L246.0 62.5L245.5 61.0L244.0 59.5L242.9 57.5L241.5 56.0L239.4 55.5L238.1 53.5L237.5 52.2L236.2 50.5L235.7 49.0L235.5 47.0L236.0 44.0L235.3 41.6L237.0 41.5L235.5 40.2L232.5 39.2L232.0 38.0L230.0 36.0L228.5 34.5L226.0 32.5L224.0 31.7L221.0 30.5L217.0 30.0L214.0 29.2L211.0 30.0L208.5 30.7L206.0 33.0L203.0 33.0L199.0 34.5L195.5 35.5L200.0 33.5L202.0 31.4L198.0 31.0L195.5 29.5L194.5 28.0L195.5 26.8L199.0 26.0L196.5 25.5L193.5 25.3L192.0 24.4ZM282.7 82.0L284.0 80.5L284.5 79.5L286.0 78.7L288.0 78.0L288.7 79.0L288.5 79.5L290.0 78.5L292.0 79.5L295.0 79.9L298.0 79.3L299.0 81.0L301.0 82.0L303.0 84.0L306.0 84.2L308.0 85.5L309.0 86.5L310.0 88.3L310.0 90.0L312.0 91.0L315.0 91.5L318.0 92.8L321.0 93.5L323.0 94.8L324.8 95.5L325.2 97.5L324.7 99.5L323.0 101.0L321.3 103.0L321.0 106.0L320.5 108.0L319.5 111.0L318.0 113.0L315.5 113.3L313.0 114.5L311.5 116.5L311.3 118.5L309.5 121.0L307.5 123.5L306.0 124.7L303.0 125.5L302.7 127.0L302.2 128.5L298.0 129.0L297.5 130.5L295.0 131.0L295.5 132.5L294.5 135.0L292.5 136.5L294.0 138.0L291.5 140.5L291.5 142.3L290.0 143.0L288.5 144.0L286.0 142.5L284.5 140.0L285.5 136.0L286.5 133.0L286.3 130.0L286.6 127.0L288.3 123.0L288.5 120.0L289.4 115.0L289.8 110.0L289.6 108.4L288.0 107.0L284.5 105.0L283.5 103.0L282.0 100.0L280.5 97.0L279.0 95.5L278.8 94.2L280.0 93.0L279.5 91.0L280.0 89.2L281.2 88.5L282.5 86.5L282.7 84.0L282.2 82.8L282.7 82.0ZM287.0 11.5L293.0 9.5L300.0 8.0L310.0 7.5L320.0 6.5L330.0 6.5L338.0 7.5L340.0 9.0L343.0 10.0L341.0 12.0L341.5 14.0L340.0 16.0L338.0 17.5L338.0 19.5L335.0 20.5L331.0 21.7L328.0 22.0L325.0 23.7L322.0 24.5L320.0 25.5L318.5 27.5L317.0 30.0L315.0 29.8L312.0 29.0L310.0 27.5L308.5 25.5L307.0 23.5L306.0 21.5L309.0 20.5L306.0 19.2L305.0 18.0L303.0 15.5L300.0 14.0L293.0 14.0L289.0 12.5L287.0 11.5ZM298.0 23.5L296.0 25.0L294.0 27.0L292.0 27.2L289.0 26.2L286.0 25.4L282.0 25.5L286.0 22.5L287.0 21.5L283.0 20.0L279.0 20.0L270.0 18.0L274.0 16.5L280.0 16.5L284.0 17.5L289.0 19.0L293.0 20.5L298.0 23.5ZM258.0 21.0L254.0 21.0L248.0 21.5L242.0 20.5L242.0 18.5L246.0 17.0L252.0 17.0L256.0 19.0L258.0 21.0ZM270.0 13.5L280.0 13.5L284.0 11.5L290.0 10.0L298.0 8.0L290.0 7.0L280.0 7.0L270.0 8.5L268.0 11.0L270.0 13.5ZM235.0 18.5L240.0 19.0L243.0 17.0L240.0 15.5L235.0 16.0L235.0 18.5ZM338.0 26.0L336.0 24.5L338.0 23.6L344.0 23.5L346.0 24.5L345.5 25.6L342.0 26.6L338.0 26.0ZM-5.7 40.0L-3.0 39.4L1.3 38.9L1.7 37.3L0.2 36.5L-1.5 35.0L-2.0 34.0L-1.8 32.4L-3.5 31.4L-5.0 31.4L-6.2 32.5L-5.6 34.0L-4.9 35.0L-3.0 35.1L-3.2 36.1L-3.0 36.6L-4.5 36.7L-4.3 37.7L-5.3 38.2L-3.2 38.6L-5.7 40.0ZM354.3 40.0L357.0 39.4L361.3 38.9L361.7 37.3L360.2 36.5L358.5 35.0L358.0 34.0L358.2 32.4L356.5 31.4L355.0 31.4L353.8 32.5L354.4 34.0L355.1 35.0L357.0 35.1L356.8 36.1L357.0 36.6L355.5 36.7L355.7 37.7L354.7 38.2L356.8 38.6L354.3 40.0ZM354.0 38.0L354.0 36.1L354.0 35.0L352.5 34.7L351.5 35.5L350.0 36.0L350.3 37.0L349.7 38.0L350.5 38.5L354.0 38.0ZM130.0 58.7L131.3 58.6L132.0 56.5L133.5 56.5L135.2 56.2L136.8 55.5L139.0 55.3L140.8 54.3L141.0 51.7L142.0 50.5L141.4 48.6L140.0 49.3L139.8 51.5L138.5 52.5L136.8 52.8L136.0 54.3L133.0 54.5L131.0 55.5L129.7 56.7L130.0 58.7ZM140.0 48.5L141.0 47.5L143.3 48.0L145.5 46.7L145.0 45.8L142.0 44.5L141.5 46.0L140.0 47.0L140.0 48.5ZM142.0 44.0L143.5 43.5L143.0 41.0L144.5 41.0L143.0 37.0L142.5 35.7L142.0 39.0L142.0 44.0ZM109.0 88.5L109.6 88.0L111.0 88.2L113.0 86.8L115.5 85.0L116.8 83.0L118.5 84.5L119.0 85.0L117.7 86.0L118.5 89.0L117.5 90.0L116.6 91.5L116.2 94.0L114.5 93.5L111.5 93.0L110.2 92.9L110.0 91.0L109.0 89.5L109.0 88.5ZM95.3 84.4L97.5 84.8L100.3 87.5L103.5 90.0L104.5 91.5L106.0 93.0L105.8 95.8L104.5 95.8L102.0 94.0L100.5 91.5L99.0 89.5L98.0 87.5L95.3 84.4ZM105.2 96.8L106.0 96.0L108.5 96.3L110.5 96.8L112.5 96.9L114.5 97.8L114.3 98.7L111.0 98.2L108.0 97.8L105.2 96.8ZM119.5 95.5L120.4 95.5L120.5 93.0L122.0 94.8L122.5 94.0L121.3 92.0L123.3 90.8L121.0 90.8L120.5 89.5L123.5 89.1L125.0 88.5L124.0 89.7L120.0 90.0L119.8 91.0L118.8 92.8L119.5 95.5ZM131.0 91.0L132.5 90.5L135.0 93.3L138.0 91.7L141.0 92.6L144.5 93.8L146.0 95.5L147.7 96.5L147.5 98.0L150.0 100.4L148.0 100.0L146.0 98.5L143.5 99.0L142.5 99.3L141.0 99.1L139.0 98.0L138.5 96.8L137.8 95.2L135.0 94.3L133.0 94.0L132.0 92.8L133.0 92.3L131.0 91.0ZM113.5 112.0L114.2 116.0L113.5 116.5L115.0 119.5L115.7 123.3L115.0 124.3L117.8 125.0L121.0 123.8L124.0 123.0L126.0 122.3L129.0 121.6L131.5 121.5L134.0 122.8L135.6 124.8L137.5 123.0L137.8 125.5L139.5 125.7L140.5 128.0L143.5 128.8L146.3 129.1L148.0 127.8L150.0 127.5L151.2 124.0L152.5 122.0L153.6 118.5L153.0 115.3L150.8 112.5L149.0 110.5L146.3 109.0L145.5 106.0L145.3 104.8L143.6 104.0L142.5 100.7L141.6 102.8L141.5 105.5L140.5 107.6L139.3 107.4L137.0 105.8L135.5 105.0L136.8 102.2L135.5 102.0L132.5 101.5L131.0 102.2L129.5 104.8L127.5 104.0L125.5 104.5L124.0 106.5L122.2 108.0L121.0 109.5L118.5 110.3L116.5 110.8L114.6 111.8L113.5 112.0ZM144.6 130.7L148.3 130.9L148.0 133.0L146.5 133.6L145.2 132.2L144.6 130.7ZM172.6 124.4L174.5 126.0L175.8 127.0L178.5 127.7L177.0 129.5L176.0 131.2L174.7 131.3L175.0 129.5L173.8 129.2L174.5 127.2L172.6 124.4ZM172.7 130.5L174.2 131.6L173.0 133.5L171.0 134.5L169.5 136.6L166.5 136.0L168.3 134.0L171.0 132.0L172.7 130.5ZM275.0 68.2L278.0 67.0L282.5 68.0L285.8 69.8L282.5 70.2L280.0 68.3L277.5 68.0L275.0 68.2ZM300.7 42.4L304.0 40.5L304.5 38.4L307.0 40.5L307.3 42.5L304.5 43.2L300.7 42.4ZM10.0 12.0L16.0 13.5L23.0 12.5L27.0 11.0L22.0 9.5L17.0 10.0L11.0 10.3L10.0 12.0ZM52.0 18.5L56.0 19.5L58.0 18.5L55.0 17.0L57.0 15.0L62.0 14.0L68.5 13.0L66.0 13.0L58.0 14.5L54.5 16.0L52.0 18.5ZM120.0 74.0L120.6 71.5L122.2 71.5L122.0 73.0L121.5 74.5L124.0 77.0L122.0 76.5L120.6 75.8L120.0 74.0ZM122.0 83.0L123.5 82.2L126.0 80.7L126.5 83.0L125.4 84.4L124.0 83.5L122.0 83.0Z"/><path id="antland" d="M-180.0 168.4L-160.0 168.5L-155.0 169.0L-150.0 167.0L-145.0 165.5L-135.0 164.5L-120.0 164.0L-110.0 164.5L-100.0 163.5L-90.0 163.0L-80.0 163.5L-75.0 162.0L-68.0 159.0L-65.0 156.0L-60.0 154.0L-57.0 153.3L-58.0 154.5L-62.0 156.5L-63.0 158.0L-62.0 160.0L-61.0 162.5L-62.0 164.5L-60.0 166.0L-50.0 167.5L-40.0 168.0L-35.0 167.5L-28.0 166.0L-20.0 164.0L-15.0 162.5L-10.0 161.0L0.0 160.0L10.0 160.0L20.0 160.0L30.0 159.5L35.0 159.0L40.0 158.5L50.0 157.0L55.0 156.5L60.0 157.0L70.0 158.0L72.0 160.0L75.0 159.5L80.0 157.5L90.0 156.5L100.0 155.5L110.0 156.0L120.0 156.5L130.0 156.0L140.0 156.5L150.0 158.0L160.0 160.0L170.0 161.5L168.0 164.0L165.0 167.0L170.0 168.0L180.0 168.4L180.0 180.0L-180.0 180.0ZM180.0 168.4L200.0 168.5L205.0 169.0L210.0 167.0L215.0 165.5L225.0 164.5L240.0 164.0L250.0 164.5L260.0 163.5L270.0 163.0L280.0 163.5L285.0 162.0L292.0 159.0L295.0 156.0L300.0 154.0L303.0 153.3L302.0 154.5L298.0 156.5L297.0 158.0L298.0 160.0L299.0 162.5L298.0 164.5L300.0 166.0L310.0 167.5L320.0 168.0L325.0 167.5L332.0 166.0L340.0 164.0L345.0 162.5L350.0 161.0L360.0 160.0L370.0 160.0L380.0 160.0L390.0 159.5L395.0 159.0L400.0 158.5L410.0 157.0L415.0 156.5L420.0 157.0L430.0 158.0L432.0 160.0L435.0 159.5L440.0 157.5L450.0 156.5L460.0 155.5L470.0 156.0L480.0 156.5L490.0 156.0L500.0 156.5L510.0 158.0L520.0 160.0L530.0 161.5L528.0 164.0L525.0 167.0L530.0 168.0L540.0 168.4L540.0 180.0L180.0 180.0Z"/></defs><svg x="61.00" y="15.00" width="127.90" height="65.40" viewBox="0 0 360 180" preserveAspectRatio="none"><rect x="0" y="0" width="360" height="180" fill="#74d40a"/><path d="M0 123L40 120L80 120L110 118L140 123L160 125L175 130L190 128L200 120L240 117L280 120L300 128L330 128L360 123L360 180L0 180Z" fill="#ace600"/><ellipse cx="175" cy="134" rx="14" ry="6" fill="#74d40a"/><ellipse cx="228" cy="152" rx="16" ry="6" fill="#74d40a"/><ellipse cx="300" cy="123" rx="25" ry="4" fill="#74d40a"/><path d="M0 32L20 24L40 28L55 35L80 40L100 40L125 35L140 40L145 52L130 65L120 72L105 80L95 84L80 85L60 82L50 78L30 76L15 76L0 74Z" fill="#40c40e"/><path d="M0 74L15 76L35 80L45 88L42 98L40 108L36 120L25 126L17 125L12 110L10 95L5 88L0 86Z" fill="#40c40e"/><path d="M40 85L100 85L112 95L95 103L60 103L45 96Z" fill="#40c40e"/><ellipse cx="22" cy="88" rx="9" ry="7" fill="#0ab414"/><ellipse cx="31" cy="114" rx="5" ry="6" fill="#0ab414"/><ellipse cx="48" cy="60" rx="6" ry="5" fill="#0ab414"/><ellipse cx="78" cy="68" rx="6" ry="6" fill="#0ab414"/><ellipse cx="110" cy="60" rx="6" ry="6" fill="#0ab414"/><rect x="60" y="17" width="140" height="5" fill="#40c40e"/><path d="M140 70L250 70L262 78L250 85L150 85L135 80Z" fill="#40c40e"/><path d="M235 18L300 18L305 40L290 60L275 75L262 75L250 60L238 42L232 30Z" fill="#40c40e"/><ellipse cx="245" cy="50" rx="8" ry="8" fill="#74d40a"/><path d="M282 62L345 60L360 64L360 90L320 90L300 85L280 80Z" fill="#40c40e"/><path d="M115 105L125 103L140 101L150 110L153 120L148 128L135 126L118 125L113 115Z" fill="#40c40e"/><ellipse cx="300" cy="115" rx="12" ry="12" fill="#40c40e"/><ellipse cx="300" cy="120" rx="4" ry="5" fill="#0ab414"/><use href="#coast"/></svg><rect x="61.00" y="15.00" width="127.90" height="65.40" fill="none" stroke="#000" stroke-width="1"/><path d="M61.00 15.00v-2.50M61.00 80.40v2.50M64.55 15.00v-1.20M64.55 80.40v1.20M68.11 15.00v-1.20M68.11 80.40v1.20M71.66 15.00v-1.20M71.66 80.40v1.20M75.21 15.00v-1.20M75.21 80.40v1.20M78.76 15.00v-1.20M78.76 80.40v1.20M82.32 15.00v-2.50M82.32 80.40v2.50M85.87 15.00v-1.20M85.87 80.40v1.20M89.42 15.00v-1.20M89.42 80.40v1.20M92.98 15.00v-1.20M92.98 80.40v1.20M96.53 15.00v-1.20M96.53 80.40v1.20M100.08 15.00v-1.20M100.08 80.40v1.20M103.63 15.00v-2.50M103.63 80.40v2.50M107.19 15.00v-1.20M107.19 80.40v1.20M110.74 15.00v-1.20M110.74 80.40v1.20M114.29 15.00v-1.20M114.29 80.40v1.20M117.84 15.00v-1.20M117.84 80.40v1.20M121.40 15.00v-1.20M121.40 80.40v1.20M124.95 15.00v-2.50M124.95 80.40v2.50M128.50 15.00v-1.20M128.50 80.40v1.20M132.06 15.00v-1.20M132.06 80.40v1.20M135.61 15.00v-1.20M135.61 80.40v1.20M139.16 15.00v-1.20M139.16 80.40v1.20M142.71 15.00v-1.20M142.71 80.40v1.20M146.27 15.00v-2.50M146.27 80.40v2.50M149.82 15.00v-1.20M149.82 80.40v1.20M153.37 15.00v-1.20M153.37 80.40v1.20M156.93 15.00v-1.20M156.93 80.40v1.20M160.48 15.00v-1.20M160.48 80.40v1.20M164.03 15.00v-1.20M164.03 80.40v1.20M167.58 15.00v-2.50M167.58 80.40v2.50M171.14 15.00v-1.20M171.14 80.40v1.20M174.69 15.00v-1.20M174.69 80.40v1.20M178.24 15.00v-1.20M178.24 80.40v1.20M181.79 15.00v-1.20M181.79 80.40v1.20M185.35 15.00v-1.20M185.35 80.40v1.20M188.90 15.00v-2.50M188.90 80.40v2.50M61.00 15.00h-2.50M188.90 15.00h2.50M61.00 18.63h-1.20M188.90 18.63h1.20M61.00 22.27h-1.20M188.90 22.27h1.20M61.00 25.90h-2.50M188.90 25.90h2.50M61.00 29.53h-1.20M188.90 29.53h1.20M61.00 33.17h-1.20M188.90 33.17h1.20M61.00 36.80h-2.50M188.90 36.80h2.50M61.00 40.43h-1.20M188.90 40.43h1.20M61.00 44.07h-1.20M188.90 44.07h1.20M61.00 47.70h-2.50M188.90 47.70h2.50M61.00 51.33h-1.20M188.90 51.33h1.20M61.00 54.97h-1.20M188.90 54.97h1.20M61.00 58.60h-2.50M188.90 58.60h2.50M61.00 62.23h-1.20M188.90 62.23h1.20M61.00 65.87h-1.20M188.90 65.87h1.20M61.00 69.50h-2.50M188.90 69.50h2.50M61.00 73.13h-1.20M188.90 73.13h1.20M61.00 76.77h-1.20M188.90 76.77h1.20M61.00 80.40h-2.50M188.90 80.40h2.50" stroke="#000" stroke-width="0.8" fill="none"/><svg x="195.60" y="15.00" width="127.90" height="65.40" viewBox="0 0 360 180" preserveAspectRatio="none"><rect x="0" y="0" width="360" height="180" fill="#74d40a"/><path d="M0 123L40 120L80 120L110 118L140 123L160 125L175 130L190 128L200 120L240 117L280 120L300 128L330 128L360 123L360 180L0 180Z" fill="#ace600"/><ellipse cx="175" cy="134" rx="14" ry="6" fill="#74d40a"/><ellipse cx="228" cy="152" rx="16" ry="6" fill="#74d40a"/><ellipse cx="300" cy="123" rx="25" ry="4" fill="#74d40a"/><path d="M0 32L20 24L40 28L55 35L80 40L100 40L125 35L140 40L145 52L130 65L120 72L105 80L95 84L80 85L60 82L50 78L30 76L15 76L0 74Z" fill="#40c40e"/><path d="M0 74L15 76L35 80L45 88L42 98L40 108L36 120L25 126L17 125L12 110L10 95L5 88L0 86Z" fill="#40c40e"/><path d="M40 85L100 85L112 95L95 103L60 103L45 96Z" fill="#40c40e"/><ellipse cx="22" cy="88" rx="9" ry="7" fill="#0ab414"/><ellipse cx="31" cy="114" rx="5" ry="6" fill="#0ab414"/><ellipse cx="48" cy="60" rx="6" ry="5" fill="#0ab414"/><ellipse cx="78" cy="68" rx="6" ry="6" fill="#0ab414"/><ellipse cx="110" cy="60" rx="6" ry="6" fill="#0ab414"/><rect x="60" y="17" width="140" height="5" fill="#40c40e"/><path d="M140 70L250 70L262 78L250 85L150 85L135 80Z" fill="#40c40e"/><path d="M235 18L300 18L305 40L290 60L275 75L262 75L250 60L238 42L232 30Z" fill="#40c40e"/><ellipse cx="245" cy="50" rx="8" ry="8" fill="#74d40a"/><path d="M282 62L345 60L360 64L360 90L320 90L300 85L280 80Z" fill="#40c40e"/><path d="M115 105L125 103L140 101L150 110L153 120L148 128L135 126L118 125L113 115Z" fill="#40c40e"/><ellipse cx="300" cy="115" rx="12" ry="12" fill="#40c40e"/><ellipse cx="300" cy="120" rx="4" ry="5" fill="#0ab414"/><use href="#coast"/></svg><rect x="195.60" y="15.00" width="127.90" height="65.40" fill="none" stroke="#000" stroke-width="1"/><path d="M195.60 15.00v-2.50M195.60 80.40v2.50M199.15 15.00v-1.20M199.15 80.40v1.20M202.71 15.00v-1.20M202.71 80.40v1.20M206.26 15.00v-1.20M206.26 80.40v1.20M209.81 15.00v-1.20M209.81 80.40v1.20M213.36 15.00v-1.20M213.36 80.40v1.20M216.92 15.00v-2.50M216.92 80.40v2.50M220.47 15.00v-1.20M220.47 80.40v1.20M224.02 15.00v-1.20M224.02 80.40v1.20M227.57 15.00v-1.20M227.57 80.40v1.20M231.13 15.00v-1.20M231.13 80.40v1.20M234.68 15.00v-1.20M234.68 80.40v1.20M238.23 15.00v-2.50M238.23 80.40v2.50M241.79 15.00v-1.20M241.79 80.40v1.20M245.34 15.00v-1.20M245.34 80.40v1.20M248.89 15.00v-1.20M248.89 80.40v1.20M252.44 15.00v-1.20M252.44 80.40v1.20M256.00 15.00v-1.20M256.00 80.40v1.20M259.55 15.00v-2.50M259.55 80.40v2.50M263.10 15.00v-1.20M263.10 80.40v1.20M266.66 15.00v-1.20M266.66 80.40v1.20M270.21 15.00v-1.20M270.21 80.40v1.20M273.76 15.00v-1.20M273.76 80.40v1.20M277.31 15.00v-1.20M277.31 80.40v1.20M280.87 15.00v-2.50M280.87 80.40v2.50M284.42 15.00v-1.20M284.42 80.40v1.20M287.97 15.00v-1.20M287.97 80.40v1.20M291.52 15.00v-1.20M291.52 80.40v1.20M295.08 15.00v-1.20M295.08 80.40v1.20M298.63 15.00v-1.20M298.63 80.40v1.20M302.18 15.00v-2.50M302.18 80.40v2.50M305.74 15.00v-1.20M305.74 80.40v1.20M309.29 15.00v-1.20M309.29 80.40v1.20M312.84 15.00v-1.20M312.84 80.40v1.20M316.39 15.00v-1.20M316.39 80.40v1.20M319.95 15.00v-1.20M319.95 80.40v1.20M323.50 15.00v-2.50M323.50 80.40v2.50M195.60 15.00h-2.50M323.50 15.00h2.50M195.60 18.63h-1.20M323.50 18.63h1.20M195.60 22.27h-1.20M323.50 22.27h1.20M195.60 25.90h-2.50M323.50 25.90h2.50M195.60 29.53h-1.20M323.50 29.53h1.20M195.60 33.17h-1.20M323.50 33.17h1.20M195.60 36.80h-2.50M323.50 36.80h2.50M195.60 40.43h-1.20M323.50 40.43h1.20M195.60 44.07h-1.20M323.50 44.07h1.20M195.60 47.70h-2.50M323.50 47.70h2.50M195.60 51.33h-1.20M323.50 51.33h1.20M195.60 54.97h-1.20M323.50 54.97h1.20M195.60 58.60h-2.50M323.50 58.60h2.50M195.60 62.23h-1.20M323.50 62.23h1.20M195.60 65.87h-1.20M323.50 65.87h1.20M195.60 69.50h-2.50M323.50 69.50h2.50M195.60 73.13h-1.20M323.50 73.13h1.20M195.60 76.77h-1.20M323.50 76.77h1.20M195.60 80.40h-2.50M323.50 80.40h2.50" stroke="#000" stroke-width="0.8" fill="none"/><svg x="330.20" y="15.00" width="127.90" height="65.40" viewBox="0 0 360 180" preserveAspectRatio="none"><rect x="0" y="0" width="360" height="180" fill="#ffffff"/><path d="M0 135L60 132L120 135L180 138L260 135L300 140L360 137L360 152L0 152Z" fill="#fef8e4"/><ellipse cx="60" cy="142" rx="40" ry="4" fill="#feedb8"/><ellipse cx="250" cy="145" rx="30" ry="4" fill="#feedb8"/><ellipse cx="120" cy="164" rx="70" ry="4" fill="#eef7fc"/><ellipse cx="300" cy="164" rx="40" ry="4" fill="#eef7fc"/><ellipse cx="60" cy="28" rx="25" ry="4" fill="#eef7fc"/><ellipse cx="205" cy="42" rx="25" ry="6" fill="#eef7fc"/><ellipse cx="135" cy="115" rx="12" ry="8" fill="#fef8e4"/><ellipse cx="50" cy="70" rx="12" ry="6" fill="#fef8e4"/><ellipse cx="25" cy="112" rx="8" ry="8" fill="#fef8e4"/><ellipse cx="170" cy="80" rx="12" ry="3" fill="#feedb8"/><ellipse cx="80" cy="60" rx="10" ry="6" fill="#fef8e4"/><ellipse cx="297" cy="100" rx="6" ry="8" fill="#dbeef8"/><ellipse cx="282" cy="102" rx="1.5" ry="4" fill="#a3d3f0"/><ellipse cx="292" cy="143" rx="2" ry="2" fill="#7bbde6"/><ellipse cx="178" cy="160" rx="4" ry="2" fill="#c2e3f5"/><ellipse cx="352" cy="78" rx="6" ry="6" fill="#eef7fc"/><use href="#coast"/></svg><rect x="330.20" y="15.00" width="127.90" height="65.40" fill="none" stroke="#000" stroke-width="1"/><path d="M330.20 15.00v-2.50M330.20 80.40v2.50M333.75 15.00v-1.20M333.75 80.40v1.20M337.31 15.00v-1.20M337.31 80.40v1.20M340.86 15.00v-1.20M340.86 80.40v1.20M344.41 15.00v-1.20M344.41 80.40v1.20M347.96 15.00v-1.20M347.96 80.40v1.20M351.52 15.00v-2.50M351.52 80.40v2.50M355.07 15.00v-1.20M355.07 80.40v1.20M358.62 15.00v-1.20M358.62 80.40v1.20M362.18 15.00v-1.20M362.18 80.40v1.20M365.73 15.00v-1.20M365.73 80.40v1.20M369.28 15.00v-1.20M369.28 80.40v1.20M372.83 15.00v-2.50M372.83 80.40v2.50M376.39 15.00v-1.20M376.39 80.40v1.20M379.94 15.00v-1.20M379.94 80.40v1.20M383.49 15.00v-1.20M383.49 80.40v1.20M387.04 15.00v-1.20M387.04 80.40v1.20M390.60 15.00v-1.20M390.60 80.40v1.20M394.15 15.00v-2.50M394.15 80.40v2.50M397.70 15.00v-1.20M397.70 80.40v1.20M401.26 15.00v-1.20M401.26 80.40v1.20M404.81 15.00v-1.20M404.81 80.40v1.20M408.36 15.00v-1.20M408.36 80.40v1.20M411.91 15.00v-1.20M411.91 80.40v1.20M415.47 15.00v-2.50M415.47 80.40v2.50M419.02 15.00v-1.20M419.02 80.40v1.20M422.57 15.00v-1.20M422.57 80.40v1.20M426.12 15.00v-1.20M426.12 80.40v1.20M429.68 15.00v-1.20M429.68 80.40v1.20M433.23 15.00v-1.20M433.23 80.40v1.20M436.78 15.00v-2.50M436.78 80.40v2.50M440.34 15.00v-1.20M440.34 80.40v1.20M443.89 15.00v-1.20M443.89 80.40v1.20M447.44 15.00v-1.20M447.44 80.40v1.20M450.99 15.00v-1.20M450.99 80.40v1.20M454.55 15.00v-1.20M454.55 80.40v1.20M458.10 15.00v-2.50M458.10 80.40v2.50M330.20 15.00h-2.50M458.10 15.00h2.50M330.20 18.63h-1.20M458.10 18.63h1.20M330.20 22.27h-1.20M458.10 22.27h1.20M330.20 25.90h-2.50M458.10 25.90h2.50M330.20 29.53h-1.20M458.10 29.53h1.20M330.20 33.17h-1.20M458.10 33.17h1.20M330.20 36.80h-2.50M458.10 36.80h2.50M330.20 40.43h-1.20M458.10 40.43h1.20M330.20 44.07h-1.20M458.10 44.07h1.20M330.20 47.70h-2.50M458.10 47.70h2.50M330.20 51.33h-1.20M458.10 51.33h1.20M330.20 54.97h-1.20M458.10 54.97h1.20M330.20 58.60h-2.50M458.10 58.60h2.50M330.20 62.23h-1.20M458.10 62.23h1.20M330.20 65.87h-1.20M458.10 65.87h1.20M330.20 69.50h-2.50M458.10 69.50h2.50M330.20 73.13h-1.20M458.10 73.13h1.20M330.20 76.77h-1.20M458.10 76.77h1.20M330.20 80.40h-2.50M458.10 80.40h2.50" stroke="#000" stroke-width="0.8" fill="none"/><svg x="61.00" y="93.50" width="127.90" height="65.40" viewBox="0 0 360 180" preserveAspectRatio="none"><rect x="0" y="0" width="360" height="180" fill="#5a5aff"/><path d="M0 0L360 0L360 93L340 93L320 96L300 98L285 95L260 93L220 92L180 93L150 95L130 98L110 100L90 102L60 100L45 102L38 115L32 123L18 125L12 110L10 96L0 93Z" fill="#2020ff"/><path d="M185 52L195 40L215 37L232 42L244 52L240 65L232 76L218 78L205 72L190 62Z" fill="#5a5aff"/><ellipse cx="200" cy="55" rx="6" ry="4" fill="#2020ff"/><ellipse cx="225" cy="68" rx="5" ry="3" fill="#2020ff"/><ellipse cx="60" cy="130" rx="15" ry="3" fill="#2020ff"/><ellipse cx="110" cy="135" rx="12" ry="3" fill="#2020ff"/><ellipse cx="250" cy="130" rx="15" ry="4" fill="#2020ff"/><ellipse cx="5" cy="120" rx="6" ry="6" fill="#2020ff"/><ellipse cx="170" cy="120" rx="10" ry="4" fill="#2020ff"/><ellipse cx="315" cy="58" rx="18" ry="8" fill="#5a5aff" transform="rotate(-15 315 58)"/><ellipse cx="135" cy="115" rx="28" ry="15" fill="#2020ff"/><ellipse cx="60" cy="118" rx="12" ry="4" fill="#2020ff"/><ellipse cx="85" cy="128" rx="10" ry="3" fill="#2020ff"/><ellipse cx="30" cy="135" rx="12" ry="3" fill="#2020ff"/><use href="#land" fill="#0000e0"/><path d="M287 11.5L293 9.5L300 8L310 7.5L320 6.5L330 6.5L338 7.5L340 9L343 10L341 12L341.5 14L340 16L338 17.5L338 19.5L335 20.5L331 21.7L328 22L325 23.7L322 24.5L320 25.5L318.5 27.5L317 30L315 29.8L312 29L310 27.5L308.5 25.5L307 23.5L306 21.5L309 20.5L306 19.2L305 18L303 15.5L300 14L293 14L289 12.5L287 11.5Z" fill="#2020ff"/><path d="M113.5 112L114.2 116L113.5 116.5L115 119.5L115.7 123.3L115 124.3L117.8 125L121 123.8L124 123L126 122.3L129 121.6L131.5 121.5L134 122.8L135.6 124.8L137.5 123L137.8 125.5L139.5 125.7L140.5 128L143.5 128.8L146.3 129.1L148 127.8L150 127.5L151.2 124L152.5 122L153.6 118.5L153 115.3L150.8 112.5L149 110.5L146.3 109L145.5 106L145.3 104.8L143.6 104L142.5 100.7L141.6 102.8L141.5 105.5L140.5 107.6L139.3 107.4L137 105.8L135.5 105L136.8 102.2L135.5 102L132.5 101.5L131 102.2L129.5 104.8L127.5 104L125.5 104.5L124 106.5L122.2 108L121 109.5L118.5 110.3L116.5 110.8L114.6 111.8L113.5 112Z" fill="#2020ff"/><ellipse cx="125" cy="115" rx="8" ry="6" fill="#0000e0"/><ellipse cx="145" cy="120" rx="5" ry="5" fill="#0000e0"/><path d="M-5.6 54L-9.6 59.5L-13 62.5L-17 69L-17.5 75.3L-16.7 77.5L-15 79L-13.3 81L-11.5 83.1L-7.5 85.6L-4 84.8L1 84L4.5 83.7L8.5 85.5L9.7 86.5L9.5 89L9 91L11.8 94.5L12.3 96L13.2 98.8L13.7 101L12 107L14.5 112.9L15.2 117L16.5 118.6L18.4 123.9L20 124.8L22.5 124L25.6 123.9L28 122.8L30.9 120L32.5 118.5L32.9 116L35.5 114L35.3 112L34.7 110L36.5 108.8L39.5 106.5L40.5 105L40.4 100.5L39.3 97L38.9 95L40.2 93L41.5 91.6L43.5 89.3L46 87.5L48.5 84.5L51.2 79.5L51.3 78.2L48 78.8L45 79.4L43.3 78.2L42.6 77L41 75L39.5 73.5L38.5 72L37.2 69L36.6 68L35.5 66.1L34.2 63.5L33.5 62L32.5 60.1L32.3 58.8L30 58.7L28 59L25 58.4L23 57.4L20 59L19 59.7L15.5 58.5L13 57.2L11 56.7L10.5 55L11 53L9.5 52.7L8.5 53.1L5 53.2L3 53.2L0 54.2L-2 55L-5.6 54ZM354.4 54L350.4 59.5L347 62.5L343 69L342.5 75.3L343.3 77.5L345 79L346.7 81L348.5 83.1L352.5 85.6L356 84.8L361 84L364.5 83.7L368.5 85.5L369.7 86.5L369.5 89L369 91L371.8 94.5L372.3 96L373.2 98.8L373.7 101L372 107L374.5 112.9L375.2 117L376.5 118.6L378.4 123.9L380 124.8L382.5 124L385.6 123.9L388 122.8L390.9 120L392.5 118.5L392.9 116L395.5 114L395.3 112L394.7 110L396.5 108.8L399.5 106.5L400.5 105L400.4 100.5L399.3 97L398.9 95L400.2 93L401.5 91.6L403.5 89.3L406 87.5L408.5 84.5L411.2 79.5L411.3 78.2L408 78.8L405 79.4L403.3 78.2L402.6 77L401 75L399.5 73.5L398.5 72L397.2 69L396.6 68L395.5 66.1L394.2 63.5L393.5 62L392.5 60.1L392.3 58.8L390 58.7L388 59L385 58.4L383 57.4L380 59L379 59.7L375.5 58.5L373 57.2L371 56.7L370.5 55L371 53L369.5 52.7L368.5 53.1L365 53.2L363 53.2L360 54.2L358 55L354.4 54Z" fill="#0000e0"/><ellipse cx="22" cy="90" rx="12" ry="8" fill="#0a3cb0"/><ellipse cx="28" cy="105" rx="8" ry="10" fill="#0a3cb0"/><ellipse cx="10" cy="78" rx="10" ry="4" fill="#0a3cb0"/><ellipse cx="82" cy="68" rx="8" ry="6" fill="#0a3cb0"/><ellipse cx="105" cy="65" rx="8" ry="7" fill="#0a3cb0"/><ellipse cx="18" cy="88" rx="5" ry="5" fill="#066478"/><ellipse cx="27" cy="104" rx="6" ry="6" fill="#0a3cb0"/><ellipse cx="25" cy="106" rx="3" ry="3" fill="#066478"/><ellipse cx="47" cy="109" rx="2" ry="6" fill="#0000e0"/><path d="M282.7 82L284 80.5L284.5 79.5L286 78.7L288 78L288.7 79L288.5 79.5L290 78.5L292 79.5L295 79.9L298 79.3L299 81L301 82L303 84L306 84.2L308 85.5L309 86.5L310 88.3L310 90L312 91L315 91.5L318 92.8L321 93.5L323 94.8L324.8 95.5L325.2 97.5L324.7 99.5L323 101L321.3 103L321 106L320.5 108L319.5 111L318 113L315.5 113.3L313 114.5L311.5 116.5L311.3 118.5L309.5 121L307.5 123.5L306 124.7L303 125.5L302.7 127L302.2 128.5L298 129L297.5 130.5L295 131L295.5 132.5L294.5 135L292.5 136.5L294 138L291.5 140.5L291.5 142.3L290 143L288.5 144L286 142.5L284.5 140L285.5 136L286.5 133L286.3 130L286.6 127L288.3 123L288.5 120L289.4 115L289.8 110L289.6 108.4L288 107L284.5 105L283.5 103L282 100L280.5 97L279 95.5L278.8 94.2L280 93L279.5 91L280 89.2L281.2 88.5L282.5 86.5L282.7 84L282.2 82.8L282.7 82Z" fill="#0a3cb0"/><ellipse cx="292" cy="130" rx="6" ry="14" fill="#2020ff"/><ellipse cx="300" cy="98" rx="7" ry="6" fill="#066478"/><ellipse cx="305" cy="110" rx="4" ry="4" fill="#066478"/><ellipse cx="295" cy="125" rx="6" ry="10" fill="#2020ff"/><ellipse cx="190" cy="138" rx="28" ry="7" fill="#2020ff"/><ellipse cx="320" cy="128" rx="18" ry="6" fill="#2020ff"/><ellipse cx="60" cy="122" rx="14" ry="4" fill="#2020ff"/><ellipse cx="150" cy="120" rx="8" ry="8" fill="#2020ff"/><ellipse cx="275" cy="105" rx="6" ry="12" fill="#2020ff"/><ellipse cx="265" cy="160" rx="20" ry="4" fill="#2020ff"/><ellipse cx="210" cy="165" rx="15" ry="3" fill="#2020ff"/><ellipse cx="245" cy="110" rx="5" ry="3" fill="#9696ff"/><ellipse cx="240" cy="80" rx="4" ry="2" fill="#9696ff"/><ellipse cx="40" cy="168" rx="8" ry="1.2" fill="#9696ff"/><ellipse cx="90" cy="169" rx="12" ry="1.2" fill="#9696ff"/><use href="#coast"/></svg><rect x="61.00" y="93.50" width="127.90" height="65.40" fill="none" stroke="#000" stroke-width="1"/><path d="M61.00 93.50v-2.50M61.00 158.90v2.50M64.55 93.50v-1.20M64.55 158.90v1.20M68.11 93.50v-1.20M68.11 158.90v1.20M71.66 93.50v-1.20M71.66 158.90v1.20M75.21 93.50v-1.20M75.21 158.90v1.20M78.76 93.50v-1.20M78.76 158.90v1.20M82.32 93.50v-2.50M82.32 158.90v2.50M85.87 93.50v-1.20M85.87 158.90v1.20M89.42 93.50v-1.20M89.42 158.90v1.20M92.98 93.50v-1.20M92.98 158.90v1.20M96.53 93.50v-1.20M96.53 158.90v1.20M100.08 93.50v-1.20M100.08 158.90v1.20M103.63 93.50v-2.50M103.63 158.90v2.50M107.19 93.50v-1.20M107.19 158.90v1.20M110.74 93.50v-1.20M110.74 158.90v1.20M114.29 93.50v-1.20M114.29 158.90v1.20M117.84 93.50v-1.20M117.84 158.90v1.20M121.40 93.50v-1.20M121.40 158.90v1.20M124.95 93.50v-2.50M124.95 158.90v2.50M128.50 93.50v-1.20M128.50 158.90v1.20M132.06 93.50v-1.20M132.06 158.90v1.20M135.61 93.50v-1.20M135.61 158.90v1.20M139.16 93.50v-1.20M139.16 158.90v1.20M142.71 93.50v-1.20M142.71 158.90v1.20M146.27 93.50v-2.50M146.27 158.90v2.50M149.82 93.50v-1.20M149.82 158.90v1.20M153.37 93.50v-1.20M153.37 158.90v1.20M156.93 93.50v-1.20M156.93 158.90v1.20M160.48 93.50v-1.20M160.48 158.90v1.20M164.03 93.50v-1.20M164.03 158.90v1.20M167.58 93.50v-2.50M167.58 158.90v2.50M171.14 93.50v-1.20M171.14 158.90v1.20M174.69 93.50v-1.20M174.69 158.90v1.20M178.24 93.50v-1.20M178.24 158.90v1.20M181.79 93.50v-1.20M181.79 158.90v1.20M185.35 93.50v-1.20M185.35 158.90v1.20M188.90 93.50v-2.50M188.90 158.90v2.50M61.00 93.50h-2.50M188.90 93.50h2.50M61.00 97.13h-1.20M188.90 97.13h1.20M61.00 100.77h-1.20M188.90 100.77h1.20M61.00 104.40h-2.50M188.90 104.40h2.50M61.00 108.03h-1.20M188.90 108.03h1.20M61.00 111.67h-1.20M188.90 111.67h1.20M61.00 115.30h-2.50M188.90 115.30h2.50M61.00 118.93h-1.20M188.90 118.93h1.20M61.00 122.57h-1.20M188.90 122.57h1.20M61.00 126.20h-2.50M188.90 126.20h2.50M61.00 129.83h-1.20M188.90 129.83h1.20M61.00 133.47h-1.20M188.90 133.47h1.20M61.00 137.10h-2.50M188.90 137.10h2.50M61.00 140.73h-1.20M188.90 140.73h1.20M61.00 144.37h-1.20M188.90 144.37h1.20M61.00 148.00h-2.50M188.90 148.00h2.50M61.00 151.63h-1.20M188.90 151.63h1.20M61.00 155.27h-1.20M188.90 155.27h1.20M61.00 158.90h-2.50M188.90 158.90h2.50" stroke="#000" stroke-width="0.8" fill="none"/><svg x="195.60" y="93.50" width="127.90" height="65.40" viewBox="0 0 360 180" preserveAspectRatio="none"><rect x="0" y="0" width="360" height="180" fill="#5a5aff"/><path d="M0 0L360 0L360 93L340 93L320 96L300 98L285 95L260 93L220 92L180 93L150 95L130 98L110 100L90 102L60 100L45 102L38 115L32 123L18 125L12 110L10 96L0 93Z" fill="#2020ff"/><path d="M170 55L185 38L215 33L235 38L250 50L248 65L235 78L215 82L195 78L175 65Z" fill="#5a5aff"/><rect x="0" y="0" width="360" height="6" fill="#5a5aff"/><ellipse cx="315" cy="58" rx="18" ry="8" fill="#5a5aff" transform="rotate(-15 315 58)"/><ellipse cx="135" cy="115" rx="28" ry="15" fill="#2020ff"/><ellipse cx="60" cy="118" rx="12" ry="4" fill="#2020ff"/><ellipse cx="85" cy="128" rx="10" ry="3" fill="#2020ff"/><ellipse cx="30" cy="135" rx="12" ry="3" fill="#2020ff"/><use href="#land" fill="#0000e0"/><path d="M287 11.5L293 9.5L300 8L310 7.5L320 6.5L330 6.5L338 7.5L340 9L343 10L341 12L341.5 14L340 16L338 17.5L338 19.5L335 20.5L331 21.7L328 22L325 23.7L322 24.5L320 25.5L318.5 27.5L317 30L315 29.8L312 29L310 27.5L308.5 25.5L307 23.5L306 21.5L309 20.5L306 19.2L305 18L303 15.5L300 14L293 14L289 12.5L287 11.5Z" fill="#2020ff"/><path d="M113.5 112L114.2 116L113.5 116.5L115 119.5L115.7 123.3L115 124.3L117.8 125L121 123.8L124 123L126 122.3L129 121.6L131.5 121.5L134 122.8L135.6 124.8L137.5 123L137.8 125.5L139.5 125.7L140.5 128L143.5 128.8L146.3 129.1L148 127.8L150 127.5L151.2 124L152.5 122L153.6 118.5L153 115.3L150.8 112.5L149 110.5L146.3 109L145.5 106L145.3 104.8L143.6 104L142.5 100.7L141.6 102.8L141.5 105.5L140.5 107.6L139.3 107.4L137 105.8L135.5 105L136.8 102.2L135.5 102L132.5 101.5L131 102.2L129.5 104.8L127.5 104L125.5 104.5L124 106.5L122.2 108L121 109.5L118.5 110.3L116.5 110.8L114.6 111.8L113.5 112Z" fill="#2020ff"/><ellipse cx="125" cy="115" rx="8" ry="6" fill="#0000e0"/><ellipse cx="145" cy="120" rx="5" ry="5" fill="#0000e0"/><path d="M-5.6 54L-9.6 59.5L-13 62.5L-17 69L-17.5 75.3L-16.7 77.5L-15 79L-13.3 81L-11.5 83.1L-7.5 85.6L-4 84.8L1 84L4.5 83.7L8.5 85.5L9.7 86.5L9.5 89L9 91L11.8 94.5L12.3 96L13.2 98.8L13.7 101L12 107L14.5 112.9L15.2 117L16.5 118.6L18.4 123.9L20 124.8L22.5 124L25.6 123.9L28 122.8L30.9 120L32.5 118.5L32.9 116L35.5 114L35.3 112L34.7 110L36.5 108.8L39.5 106.5L40.5 105L40.4 100.5L39.3 97L38.9 95L40.2 93L41.5 91.6L43.5 89.3L46 87.5L48.5 84.5L51.2 79.5L51.3 78.2L48 78.8L45 79.4L43.3 78.2L42.6 77L41 75L39.5 73.5L38.5 72L37.2 69L36.6 68L35.5 66.1L34.2 63.5L33.5 62L32.5 60.1L32.3 58.8L30 58.7L28 59L25 58.4L23 57.4L20 59L19 59.7L15.5 58.5L13 57.2L11 56.7L10.5 55L11 53L9.5 52.7L8.5 53.1L5 53.2L3 53.2L0 54.2L-2 55L-5.6 54ZM354.4 54L350.4 59.5L347 62.5L343 69L342.5 75.3L343.3 77.5L345 79L346.7 81L348.5 83.1L352.5 85.6L356 84.8L361 84L364.5 83.7L368.5 85.5L369.7 86.5L369.5 89L369 91L371.8 94.5L372.3 96L373.2 98.8L373.7 101L372 107L374.5 112.9L375.2 117L376.5 118.6L378.4 123.9L380 124.8L382.5 124L385.6 123.9L388 122.8L390.9 120L392.5 118.5L392.9 116L395.5 114L395.3 112L394.7 110L396.5 108.8L399.5 106.5L400.5 105L400.4 100.5L399.3 97L398.9 95L400.2 93L401.5 91.6L403.5 89.3L406 87.5L408.5 84.5L411.2 79.5L411.3 78.2L408 78.8L405 79.4L403.3 78.2L402.6 77L401 75L399.5 73.5L398.5 72L397.2 69L396.6 68L395.5 66.1L394.2 63.5L393.5 62L392.5 60.1L392.3 58.8L390 58.7L388 59L385 58.4L383 57.4L380 59L379 59.7L375.5 58.5L373 57.2L371 56.7L370.5 55L371 53L369.5 52.7L368.5 53.1L365 53.2L363 53.2L360 54.2L358 55L354.4 54Z" fill="#0000e0"/><ellipse cx="22" cy="90" rx="12" ry="8" fill="#0a3cb0"/><ellipse cx="28" cy="105" rx="8" ry="10" fill="#0a3cb0"/><ellipse cx="10" cy="78" rx="10" ry="4" fill="#0a3cb0"/><ellipse cx="82" cy="68" rx="8" ry="6" fill="#0a3cb0"/><ellipse cx="105" cy="65" rx="8" ry="7" fill="#0a3cb0"/><ellipse cx="18" cy="88" rx="5" ry="5" fill="#066478"/><ellipse cx="27" cy="104" rx="6" ry="6" fill="#0a3cb0"/><ellipse cx="25" cy="106" rx="3" ry="3" fill="#066478"/><ellipse cx="47" cy="109" rx="2" ry="6" fill="#0000e0"/><path d="M282.7 82L284 80.5L284.5 79.5L286 78.7L288 78L288.7 79L288.5 79.5L290 78.5L292 79.5L295 79.9L298 79.3L299 81L301 82L303 84L306 84.2L308 85.5L309 86.5L310 88.3L310 90L312 91L315 91.5L318 92.8L321 93.5L323 94.8L324.8 95.5L325.2 97.5L324.7 99.5L323 101L321.3 103L321 106L320.5 108L319.5 111L318 113L315.5 113.3L313 114.5L311.5 116.5L311.3 118.5L309.5 121L307.5 123.5L306 124.7L303 125.5L302.7 127L302.2 128.5L298 129L297.5 130.5L295 131L295.5 132.5L294.5 135L292.5 136.5L294 138L291.5 140.5L291.5 142.3L290 143L288.5 144L286 142.5L284.5 140L285.5 136L286.5 133L286.3 130L286.6 127L288.3 123L288.5 120L289.4 115L289.8 110L289.6 108.4L288 107L284.5 105L283.5 103L282 100L280.5 97L279 95.5L278.8 94.2L280 93L279.5 91L280 89.2L281.2 88.5L282.5 86.5L282.7 84L282.2 82.8L282.7 82Z" fill="#0a3cb0"/><ellipse cx="292" cy="130" rx="6" ry="14" fill="#2020ff"/><ellipse cx="300" cy="98" rx="7" ry="6" fill="#066478"/><ellipse cx="305" cy="110" rx="4" ry="4" fill="#066478"/><ellipse cx="295" cy="125" rx="6" ry="10" fill="#2020ff"/><ellipse cx="190" cy="138" rx="28" ry="7" fill="#2020ff"/><ellipse cx="320" cy="128" rx="18" ry="6" fill="#2020ff"/><ellipse cx="60" cy="122" rx="14" ry="4" fill="#2020ff"/><ellipse cx="150" cy="120" rx="8" ry="8" fill="#2020ff"/><ellipse cx="275" cy="105" rx="6" ry="12" fill="#2020ff"/><ellipse cx="265" cy="160" rx="20" ry="4" fill="#2020ff"/><ellipse cx="210" cy="165" rx="15" ry="3" fill="#2020ff"/><ellipse cx="245" cy="110" rx="5" ry="3" fill="#9696ff"/><ellipse cx="240" cy="80" rx="4" ry="2" fill="#9696ff"/><ellipse cx="40" cy="168" rx="8" ry="1.2" fill="#9696ff"/><ellipse cx="90" cy="169" rx="12" ry="1.2" fill="#9696ff"/><use href="#coast"/></svg><rect x="195.60" y="93.50" width="127.90" height="65.40" fill="none" stroke="#000" stroke-width="1"/><path d="M195.60 93.50v-2.50M195.60 158.90v2.50M199.15 93.50v-1.20M199.15 158.90v1.20M202.71 93.50v-1.20M202.71 158.90v1.20M206.26 93.50v-1.20M206.26 158.90v1.20M209.81 93.50v-1.20M209.81 158.90v1.20M213.36 93.50v-1.20M213.36 158.90v1.20M216.92 93.50v-2.50M216.92 158.90v2.50M220.47 93.50v-1.20M220.47 158.90v1.20M224.02 93.50v-1.20M224.02 158.90v1.20M227.57 93.50v-1.20M227.57 158.90v1.20M231.13 93.50v-1.20M231.13 158.90v1.20M234.68 93.50v-1.20M234.68 158.90v1.20M238.23 93.50v-2.50M238.23 158.90v2.50M241.79 93.50v-1.20M241.79 158.90v1.20M245.34 93.50v-1.20M245.34 158.90v1.20M248.89 93.50v-1.20M248.89 158.90v1.20M252.44 93.50v-1.20M252.44 158.90v1.20M256.00 93.50v-1.20M256.00 158.90v1.20M259.55 93.50v-2.50M259.55 158.90v2.50M263.10 93.50v-1.20M263.10 158.90v1.20M266.66 93.50v-1.20M266.66 158.90v1.20M270.21 93.50v-1.20M270.21 158.90v1.20M273.76 93.50v-1.20M273.76 158.90v1.20M277.31 93.50v-1.20M277.31 158.90v1.20M280.87 93.50v-2.50M280.87 158.90v2.50M284.42 93.50v-1.20M284.42 158.90v1.20M287.97 93.50v-1.20M287.97 158.90v1.20M291.52 93.50v-1.20M291.52 158.90v1.20M295.08 93.50v-1.20M295.08 158.90v1.20M298.63 93.50v-1.20M298.63 158.90v1.20M302.18 93.50v-2.50M302.18 158.90v2.50M305.74 93.50v-1.20M305.74 158.90v1.20M309.29 93.50v-1.20M309.29 158.90v1.20M312.84 93.50v-1.20M312.84 158.90v1.20M316.39 93.50v-1.20M316.39 158.90v1.20M319.95 93.50v-1.20M319.95 158.90v1.20M323.50 93.50v-2.50M323.50 158.90v2.50M195.60 93.50h-2.50M323.50 93.50h2.50M195.60 97.13h-1.20M323.50 97.13h1.20M195.60 100.77h-1.20M323.50 100.77h1.20M195.60 104.40h-2.50M323.50 104.40h2.50M195.60 108.03h-1.20M323.50 108.03h1.20M195.60 111.67h-1.20M323.50 111.67h1.20M195.60 115.30h-2.50M323.50 115.30h2.50M195.60 118.93h-1.20M323.50 118.93h1.20M195.60 122.57h-1.20M323.50 122.57h1.20M195.60 126.20h-2.50M323.50 126.20h2.50M195.60 129.83h-1.20M323.50 129.83h1.20M195.60 133.47h-1.20M323.50 133.47h1.20M195.60 137.10h-2.50M323.50 137.10h2.50M195.60 140.73h-1.20M323.50 140.73h1.20M195.60 144.37h-1.20M323.50 144.37h1.20M195.60 148.00h-2.50M323.50 148.00h2.50M195.60 151.63h-1.20M323.50 151.63h1.20M195.60 155.27h-1.20M323.50 155.27h1.20M195.60 158.90h-2.50M323.50 158.90h2.50" stroke="#000" stroke-width="0.8" fill="none"/><svg x="330.20" y="93.50" width="127.90" height="65.40" viewBox="0 0 360 180" preserveAspectRatio="none"><rect x="0" y="0" width="360" height="180" fill="#ffffff"/><rect x="0" y="0" width="360" height="18" fill="#eef7fc"/><ellipse cx="180" cy="115" rx="180" ry="15" fill="#fef8e4"/><ellipse cx="30" cy="10" rx="30" ry="8" fill="#dbeef8"/><ellipse cx="40" cy="25" rx="25" ry="6" fill="#dbeef8"/><ellipse cx="90" cy="40" rx="35" ry="8" fill="#eef7fc"/><ellipse cx="88" cy="72" rx="10" ry="8" fill="#c2e3f5"/><ellipse cx="65" cy="75" rx="8" ry="6" fill="#dbeef8"/><ellipse cx="28" cy="110" rx="6" ry="8" fill="#a3d3f0"/><ellipse cx="65" cy="100" rx="15" ry="5" fill="#dbeef8"/><ellipse cx="120" cy="85" rx="15" ry="10" fill="#eef7fc"/><ellipse cx="70" cy="120" rx="30" ry="8" fill="#feedb8"/><ellipse cx="135" cy="115" rx="12" ry="8" fill="#fdd985"/><ellipse cx="8" cy="112" rx="6" ry="10" fill="#feedb8"/><ellipse cx="100" cy="130" rx="20" ry="4" fill="#feedb8"/><ellipse cx="205" cy="45" rx="30" ry="12" fill="#eef7fc"/><ellipse cx="245" cy="40" rx="10" ry="10" fill="#dbeef8"/><ellipse cx="320" cy="15" rx="15" ry="6" fill="#dbeef8"/><ellipse cx="318" cy="102" rx="5" ry="8" fill="#a3d3f0"/><ellipse cx="200" cy="85" rx="40" ry="4" fill="#eef7fc"/><ellipse cx="330" cy="50" rx="20" ry="8" fill="#eef7fc"/><ellipse cx="275" cy="76" rx="8" ry="3" fill="#faa032"/><ellipse cx="280" cy="72" rx="10" ry="4" fill="#fdd985"/><ellipse cx="240" cy="110" rx="40" ry="8" fill="#feedb8"/><ellipse cx="330" cy="110" rx="25" ry="8" fill="#feedb8"/><ellipse cx="285" cy="52" rx="8" ry="5" fill="#feedb8"/><ellipse cx="280" cy="30" rx="12" ry="5" fill="#fef8e4"/><ellipse cx="180" cy="162" rx="180" ry="4" fill="#eef7fc"/><ellipse cx="100" cy="152" rx="20" ry="3" fill="#dbeef8"/><use href="#coast"/></svg><rect x="330.20" y="93.50" width="127.90" height="65.40" fill="none" stroke="#000" stroke-width="1"/><path d="M330.20 93.50v-2.50M330.20 158.90v2.50M333.75 93.50v-1.20M333.75 158.90v1.20M337.31 93.50v-1.20M337.31 158.90v1.20M340.86 93.50v-1.20M340.86 158.90v1.20M344.41 93.50v-1.20M344.41 158.90v1.20M347.96 93.50v-1.20M347.96 158.90v1.20M351.52 93.50v-2.50M351.52 158.90v2.50M355.07 93.50v-1.20M355.07 158.90v1.20M358.62 93.50v-1.20M358.62 158.90v1.20M362.18 93.50v-1.20M362.18 158.90v1.20M365.73 93.50v-1.20M365.73 158.90v1.20M369.28 93.50v-1.20M369.28 158.90v1.20M372.83 93.50v-2.50M372.83 158.90v2.50M376.39 93.50v-1.20M376.39 158.90v1.20M379.94 93.50v-1.20M379.94 158.90v1.20M383.49 93.50v-1.20M383.49 158.90v1.20M387.04 93.50v-1.20M387.04 158.90v1.20M390.60 93.50v-1.20M390.60 158.90v1.20M394.15 93.50v-2.50M394.15 158.90v2.50M397.70 93.50v-1.20M397.70 158.90v1.20M401.26 93.50v-1.20M401.26 158.90v1.20M404.81 93.50v-1.20M404.81 158.90v1.20M408.36 93.50v-1.20M408.36 158.90v1.20M411.91 93.50v-1.20M411.91 158.90v1.20M415.47 93.50v-2.50M415.47 158.90v2.50M419.02 93.50v-1.20M419.02 158.90v1.20M422.57 93.50v-1.20M422.57 158.90v1.20M426.12 93.50v-1.20M426.12 158.90v1.20M429.68 93.50v-1.20M429.68 158.90v1.20M433.23 93.50v-1.20M433.23 158.90v1.20M436.78 93.50v-2.50M436.78 158.90v2.50M440.34 93.50v-1.20M440.34 158.90v1.20M443.89 93.50v-1.20M443.89 158.90v1.20M447.44 93.50v-1.20M447.44 158.90v1.20M450.99 93.50v-1.20M450.99 158.90v1.20M454.55 93.50v-1.20M454.55 158.90v1.20M458.10 93.50v-2.50M458.10 158.90v2.50M330.20 93.50h-2.50M458.10 93.50h2.50M330.20 97.13h-1.20M458.10 97.13h1.20M330.20 100.77h-1.20M458.10 100.77h1.20M330.20 104.40h-2.50M458.10 104.40h2.50M330.20 108.03h-1.20M458.10 108.03h1.20M330.20 111.67h-1.20M458.10 111.67h1.20M330.20 115.30h-2.50M458.10 115.30h2.50M330.20 118.93h-1.20M458.10 118.93h1.20M330.20 122.57h-1.20M458.10 122.57h1.20M330.20 126.20h-2.50M458.10 126.20h2.50M330.20 129.83h-1.20M458.10 129.83h1.20M330.20 133.47h-1.20M458.10 133.47h1.20M330.20 137.10h-2.50M458.10 137.10h2.50M330.20 140.73h-1.20M458.10 140.73h1.20M330.20 144.37h-1.20M458.10 144.37h1.20M330.20 148.00h-2.50M458.10 148.00h2.50M330.20 151.63h-1.20M458.10 151.63h1.20M330.20 155.27h-1.20M458.10 155.27h1.20M330.20 158.90h-2.50M458.10 158.90h2.50" stroke="#000" stroke-width="0.8" fill="none"/><svg x="61.00" y="172.00" width="127.90" height="65.40" viewBox="0 0 360 180" preserveAspectRatio="none"><rect x="0" y="0" width="360" height="180" fill="#ff7800"/><rect x="0" y="14" width="360" height="16" fill="#ffb400"/><rect x="0" y="0" width="360" height="14" fill="#ffe600"/><path d="M235 18L300 18L320 28L300 35L270 35L250 30L235 28Z" fill="#ffe600"/><path d="M300 32L340 32L350 28L350 18L320 12L300 12L295 25Z" fill="#ffb400"/><path d="M0 34L30 35L60 36L100 40L130 40L150 45L135 55L120 70L100 78L60 72L40 80L20 85L0 85Z" fill="#ff4600"/><path d="M130 40L160 38L200 40L225 45L235 52L225 65L190 68L160 65L140 62L130 55Z" fill="#ff4600"/><ellipse cx="215" cy="42" rx="12" ry="5" fill="#ff7800"/><ellipse cx="165" cy="52" rx="10" ry="4" fill="#ff0000"/><path d="M0 53L20 52L45 47L60 44L70 50L72 60L60 65L52 75L40 85L25 88L10 84L0 80Z" fill="#ff0000"/><ellipse cx="90" cy="50" rx="16" ry="7" fill="#ff0000"/><ellipse cx="112" cy="52" rx="8" ry="6" fill="#ff0000"/><path d="M338 60L360 53L360 85L345 82Z" fill="#ff0000"/><ellipse cx="330" cy="72" rx="22" ry="10" fill="#ff4600"/><path d="M235 40L265 40L290 48L280 60L265 72L255 75L245 65L238 52Z" fill="#ff4600"/><ellipse cx="252" cy="54" rx="12" ry="12" fill="#ff0000"/><ellipse cx="262" cy="68" rx="5" ry="6" fill="#ff0000"/><ellipse cx="320" cy="48" rx="25" ry="8" fill="#ffb400"/><ellipse cx="75" cy="96" rx="35" ry="9" fill="#ffb400"/><ellipse cx="80" cy="98" rx="18" ry="4" fill="#ffe600"/><ellipse cx="115" cy="93" rx="12" ry="6" fill="#ffe600"/><ellipse cx="110" cy="78" rx="10" ry="6" fill="#ffb400"/><ellipse cx="195" cy="82" rx="65" ry="9" fill="#ffb400"/><ellipse cx="205" cy="87" rx="40" ry="4" fill="#ffe600"/><ellipse cx="330" cy="85" rx="20" ry="4" fill="#ffb400"/><path d="M140 102L250 98L268 112L262 125L240 128L200 120L180 118L150 112Z" fill="#e0f800"/><path d="M145 92L180 88L225 90L245 98L240 110L215 115L180 110L160 105L150 98Z" fill="#74d40a"/><ellipse cx="190" cy="98" rx="25" ry="6" fill="#40c40e"/><ellipse cx="220" cy="115" rx="15" ry="5" fill="#ace600"/><ellipse cx="245" cy="102" rx="10" ry="8" fill="#ace600"/><ellipse cx="268" cy="98" rx="12" ry="8" fill="#ff7800"/><path d="M0 122L40 125L80 123L110 128L150 135L200 120L260 118L290 135L360 138L360 150L0 150Z" fill="#ffe600"/><ellipse cx="40" cy="128" rx="25" ry="4" fill="#ffb400"/><ellipse cx="330" cy="130" rx="20" ry="4" fill="#ffb400"/><ellipse cx="85" cy="115" rx="25" ry="6" fill="#ff7800"/><ellipse cx="135" cy="115" rx="30" ry="15" fill="#ff4600"/><ellipse cx="170" cy="128" rx="12" ry="8" fill="#ff7800"/><path d="M113.5 112L114.2 116L113.5 116.5L115 119.5L115.7 123.3L115 124.3L117.8 125L121 123.8L124 123L126 122.3L129 121.6L131.5 121.5L134 122.8L135.6 124.8L137.5 123L137.8 125.5L139.5 125.7L140.5 128L143.5 128.8L146.3 129.1L148 127.8L150 127.5L151.2 124L152.5 122L153.6 118.5L153 115.3L150.8 112.5L149 110.5L146.3 109L145.5 106L145.3 104.8L143.6 104L142.5 100.7L141.6 102.8L141.5 105.5L140.5 107.6L139.3 107.4L137 105.8L135.5 105L136.8 102.2L135.5 102L132.5 101.5L131 102.2L129.5 104.8L127.5 104L125.5 104.5L124 106.5L122.2 108L121 109.5L118.5 110.3L116.5 110.8L114.6 111.8L113.5 112Z" fill="#ff0000"/><path d="M-5.6 54L-9.6 59.5L-13 62.5L-17 69L-17.5 75.3L-16.7 77.5L-15 79L-13.3 81L-11.5 83.1L-7.5 85.6L-4 84.8L1 84L4.5 83.7L8.5 85.5L9.7 86.5L9.5 89L9 91L11.8 94.5L12.3 96L13.2 98.8L13.7 101L12 107L14.5 112.9L15.2 117L16.5 118.6L18.4 123.9L20 124.8L22.5 124L25.6 123.9L28 122.8L30.9 120L32.5 118.5L32.9 116L35.5 114L35.3 112L34.7 110L36.5 108.8L39.5 106.5L40.5 105L40.4 100.5L39.3 97L38.9 95L40.2 93L41.5 91.6L43.5 89.3L46 87.5L48.5 84.5L51.2 79.5L51.3 78.2L48 78.8L45 79.4L43.3 78.2L42.6 77L41 75L39.5 73.5L38.5 72L37.2 69L36.6 68L35.5 66.1L34.2 63.5L33.5 62L32.5 60.1L32.3 58.8L30 58.7L28 59L25 58.4L23 57.4L20 59L19 59.7L15.5 58.5L13 57.2L11 56.7L10.5 55L11 53L9.5 52.7L8.5 53.1L5 53.2L3 53.2L0 54.2L-2 55L-5.6 54ZM354.4 54L350.4 59.5L347 62.5L343 69L342.5 75.3L343.3 77.5L345 79L346.7 81L348.5 83.1L352.5 85.6L356 84.8L361 84L364.5 83.7L368.5 85.5L369.7 86.5L369.5 89L369 91L371.8 94.5L372.3 96L373.2 98.8L373.7 101L372 107L374.5 112.9L375.2 117L376.5 118.6L378.4 123.9L380 124.8L382.5 124L385.6 123.9L388 122.8L390.9 120L392.5 118.5L392.9 116L395.5 114L395.3 112L394.7 110L396.5 108.8L399.5 106.5L400.5 105L400.4 100.5L399.3 97L398.9 95L400.2 93L401.5 91.6L403.5 89.3L406 87.5L408.5 84.5L411.2 79.5L411.3 78.2L408 78.8L405 79.4L403.3 78.2L402.6 77L401 75L399.5 73.5L398.5 72L397.2 69L396.6 68L395.5 66.1L394.2 63.5L393.5 62L392.5 60.1L392.3 58.8L390 58.7L388 59L385 58.4L383 57.4L380 59L379 59.7L375.5 58.5L373 57.2L371 56.7L370.5 55L371 53L369.5 52.7L368.5 53.1L365 53.2L363 53.2L360 54.2L358 55L354.4 54Z" fill="#ff0000"/><ellipse cx="22" cy="95" rx="9" ry="6" fill="#ff4600"/><ellipse cx="12" cy="102" rx="5" ry="5" fill="#ff4600"/><path d="M282.7 82L284 80.5L284.5 79.5L286 78.7L288 78L288.7 79L288.5 79.5L290 78.5L292 79.5L295 79.9L298 79.3L299 81L301 82L303 84L306 84.2L308 85.5L309 86.5L310 88.3L310 90L312 91L315 91.5L318 92.8L321 93.5L323 94.8L324.8 95.5L325.2 97.5L324.7 99.5L323 101L321.3 103L321 106L320.5 108L319.5 111L318 113L315.5 113.3L313 114.5L311.5 116.5L311.3 118.5L309.5 121L307.5 123.5L306 124.7L303 125.5L302.7 127L302.2 128.5L298 129L297.5 130.5L295 131L295.5 132.5L294.5 135L292.5 136.5L294 138L291.5 140.5L291.5 142.3L290 143L288.5 144L286 142.5L284.5 140L285.5 136L286.5 133L286.3 130L286.6 127L288.3 123L288.5 120L289.4 115L289.8 110L289.6 108.4L288 107L284.5 105L283.5 103L282 100L280.5 97L279 95.5L278.8 94.2L280 93L279.5 91L280 89.2L281.2 88.5L282.5 86.5L282.7 84L282.2 82.8L282.7 82Z" fill="#ff7800"/><ellipse cx="294" cy="123" rx="7" ry="14" fill="#ff0000"/><path d="M300 112L330 105L360 108L360 130L320 132L300 130Z" fill="#ff4600"/><path d="M0 134L100 134L160 138L200 130L260 130L300 137L360 137L360 150L0 150Z" fill="#e0f800"/><ellipse cx="150" cy="144" rx="40" ry="5" fill="#ace600"/><ellipse cx="40" cy="146" rx="30" ry="4" fill="#ace600"/><ellipse cx="100" cy="140" rx="15" ry="3" fill="#ace600"/><ellipse cx="230" cy="138" rx="20" ry="4" fill="#ace600"/><ellipse cx="255" cy="145" rx="25" ry="7" fill="#ace600"/><rect x="0" y="150" width="360" height="30" fill="#ace600"/><use href="#antland" fill="#ace600"/><rect x="0" y="168" width="360" height="12" fill="#74d40a"/><ellipse cx="200" cy="160" rx="30" ry="5" fill="#74d40a"/><ellipse cx="90" cy="168" rx="30" ry="3" fill="#74d40a"/><use href="#coast"/></svg><rect x="61.00" y="172.00" width="127.90" height="65.40" fill="none" stroke="#000" stroke-width="1"/><path d="M61.00 172.00v-2.50M61.00 237.40v2.50M64.55 172.00v-1.20M64.55 237.40v1.20M68.11 172.00v-1.20M68.11 237.40v1.20M71.66 172.00v-1.20M71.66 237.40v1.20M75.21 172.00v-1.20M75.21 237.40v1.20M78.76 172.00v-1.20M78.76 237.40v1.20M82.32 172.00v-2.50M82.32 237.40v2.50M85.87 172.00v-1.20M85.87 237.40v1.20M89.42 172.00v-1.20M89.42 237.40v1.20M92.98 172.00v-1.20M92.98 237.40v1.20M96.53 172.00v-1.20M96.53 237.40v1.20M100.08 172.00v-1.20M100.08 237.40v1.20M103.63 172.00v-2.50M103.63 237.40v2.50M107.19 172.00v-1.20M107.19 237.40v1.20M110.74 172.00v-1.20M110.74 237.40v1.20M114.29 172.00v-1.20M114.29 237.40v1.20M117.84 172.00v-1.20M117.84 237.40v1.20M121.40 172.00v-1.20M121.40 237.40v1.20M124.95 172.00v-2.50M124.95 237.40v2.50M128.50 172.00v-1.20M128.50 237.40v1.20M132.06 172.00v-1.20M132.06 237.40v1.20M135.61 172.00v-1.20M135.61 237.40v1.20M139.16 172.00v-1.20M139.16 237.40v1.20M142.71 172.00v-1.20M142.71 237.40v1.20M146.27 172.00v-2.50M146.27 237.40v2.50M149.82 172.00v-1.20M149.82 237.40v1.20M153.37 172.00v-1.20M153.37 237.40v1.20M156.93 172.00v-1.20M156.93 237.40v1.20M160.48 172.00v-1.20M160.48 237.40v1.20M164.03 172.00v-1.20M164.03 237.40v1.20M167.58 172.00v-2.50M167.58 237.40v2.50M171.14 172.00v-1.20M171.14 237.40v1.20M174.69 172.00v-1.20M174.69 237.40v1.20M178.24 172.00v-1.20M178.24 237.40v1.20M181.79 172.00v-1.20M181.79 237.40v1.20M185.35 172.00v-1.20M185.35 237.40v1.20M188.90 172.00v-2.50M188.90 237.40v2.50M61.00 172.00h-2.50M188.90 172.00h2.50M61.00 175.63h-1.20M188.90 175.63h1.20M61.00 179.27h-1.20M188.90 179.27h1.20M61.00 182.90h-2.50M188.90 182.90h2.50M61.00 186.53h-1.20M188.90 186.53h1.20M61.00 190.17h-1.20M188.90 190.17h1.20M61.00 193.80h-2.50M188.90 193.80h2.50M61.00 197.43h-1.20M188.90 197.43h1.20M61.00 201.07h-1.20M188.90 201.07h1.20M61.00 204.70h-2.50M188.90 204.70h2.50M61.00 208.33h-1.20M188.90 208.33h1.20M61.00 211.97h-1.20M188.90 211.97h1.20M61.00 215.60h-2.50M188.90 215.60h2.50M61.00 219.23h-1.20M188.90 219.23h1.20M61.00 222.87h-1.20M188.90 222.87h1.20M61.00 226.50h-2.50M188.90 226.50h2.50M61.00 230.13h-1.20M188.90 230.13h1.20M61.00 233.77h-1.20M188.90 233.77h1.20M61.00 237.40h-2.50M188.90 237.40h2.50" stroke="#000" stroke-width="0.8" fill="none"/><svg x="195.60" y="172.00" width="127.90" height="65.40" viewBox="0 0 360 180" preserveAspectRatio="none"><rect x="0" y="0" width="360" height="180" fill="#ff7800"/><rect x="0" y="14" width="360" height="16" fill="#ffb400"/><rect x="0" y="0" width="360" height="14" fill="#ffe600"/><path d="M235 18L300 18L320 28L300 35L270 35L250 30L235 28Z" fill="#ffe600"/><path d="M300 32L340 32L350 28L350 18L320 12L300 12L295 25Z" fill="#ffb400"/><path d="M0 34L30 35L60 36L100 40L130 40L150 45L135 55L120 70L100 78L60 72L40 80L20 85L0 85Z" fill="#ff4600"/><path d="M130 40L160 38L200 40L225 45L235 52L225 65L190 68L160 65L140 62L130 55Z" fill="#ff4600"/><ellipse cx="215" cy="42" rx="12" ry="5" fill="#ff7800"/><ellipse cx="165" cy="52" rx="10" ry="4" fill="#ff0000"/><path d="M0 53L20 52L45 47L60 44L70 50L72 60L60 65L52 75L40 85L25 88L10 84L0 80Z" fill="#ff0000"/><ellipse cx="90" cy="50" rx="16" ry="7" fill="#ff0000"/><ellipse cx="112" cy="52" rx="8" ry="6" fill="#ff0000"/><path d="M338 60L360 53L360 85L345 82Z" fill="#ff0000"/><ellipse cx="330" cy="72" rx="22" ry="10" fill="#ff4600"/><path d="M235 40L265 40L290 48L280 60L265 72L255 75L245 65L238 52Z" fill="#ff4600"/><ellipse cx="252" cy="54" rx="12" ry="12" fill="#ff0000"/><ellipse cx="262" cy="68" rx="5" ry="6" fill="#ff0000"/><ellipse cx="320" cy="48" rx="25" ry="8" fill="#ffb400"/><ellipse cx="75" cy="96" rx="35" ry="9" fill="#ffb400"/><ellipse cx="80" cy="98" rx="18" ry="4" fill="#ffe600"/><ellipse cx="115" cy="93" rx="12" ry="6" fill="#ffe600"/><ellipse cx="110" cy="78" rx="10" ry="6" fill="#ffb400"/><ellipse cx="195" cy="82" rx="65" ry="9" fill="#ffb400"/><ellipse cx="205" cy="87" rx="40" ry="4" fill="#ffe600"/><ellipse cx="330" cy="85" rx="20" ry="4" fill="#ffb400"/><path d="M140 102L250 98L268 112L262 125L240 128L200 120L180 118L150 112Z" fill="#e0f800"/><path d="M145 92L180 88L225 90L245 98L240 110L215 115L180 110L160 105L150 98Z" fill="#74d40a"/><ellipse cx="190" cy="98" rx="25" ry="6" fill="#40c40e"/><ellipse cx="220" cy="115" rx="15" ry="5" fill="#ace600"/><ellipse cx="245" cy="102" rx="10" ry="8" fill="#ace600"/><ellipse cx="268" cy="98" rx="12" ry="8" fill="#ff7800"/><path d="M0 122L40 125L80 123L110 128L150 135L200 120L260 118L290 135L360 138L360 150L0 150Z" fill="#ffe600"/><ellipse cx="40" cy="128" rx="25" ry="4" fill="#ffb400"/><ellipse cx="330" cy="130" rx="20" ry="4" fill="#ffb400"/><ellipse cx="85" cy="115" rx="25" ry="6" fill="#ff7800"/><ellipse cx="135" cy="115" rx="30" ry="15" fill="#ff4600"/><ellipse cx="170" cy="128" rx="12" ry="8" fill="#ff7800"/><path d="M113.5 112L114.2 116L113.5 116.5L115 119.5L115.7 123.3L115 124.3L117.8 125L121 123.8L124 123L126 122.3L129 121.6L131.5 121.5L134 122.8L135.6 124.8L137.5 123L137.8 125.5L139.5 125.7L140.5 128L143.5 128.8L146.3 129.1L148 127.8L150 127.5L151.2 124L152.5 122L153.6 118.5L153 115.3L150.8 112.5L149 110.5L146.3 109L145.5 106L145.3 104.8L143.6 104L142.5 100.7L141.6 102.8L141.5 105.5L140.5 107.6L139.3 107.4L137 105.8L135.5 105L136.8 102.2L135.5 102L132.5 101.5L131 102.2L129.5 104.8L127.5 104L125.5 104.5L124 106.5L122.2 108L121 109.5L118.5 110.3L116.5 110.8L114.6 111.8L113.5 112Z" fill="#ff0000"/><path d="M-5.6 54L-9.6 59.5L-13 62.5L-17 69L-17.5 75.3L-16.7 77.5L-15 79L-13.3 81L-11.5 83.1L-7.5 85.6L-4 84.8L1 84L4.5 83.7L8.5 85.5L9.7 86.5L9.5 89L9 91L11.8 94.5L12.3 96L13.2 98.8L13.7 101L12 107L14.5 112.9L15.2 117L16.5 118.6L18.4 123.9L20 124.8L22.5 124L25.6 123.9L28 122.8L30.9 120L32.5 118.5L32.9 116L35.5 114L35.3 112L34.7 110L36.5 108.8L39.5 106.5L40.5 105L40.4 100.5L39.3 97L38.9 95L40.2 93L41.5 91.6L43.5 89.3L46 87.5L48.5 84.5L51.2 79.5L51.3 78.2L48 78.8L45 79.4L43.3 78.2L42.6 77L41 75L39.5 73.5L38.5 72L37.2 69L36.6 68L35.5 66.1L34.2 63.5L33.5 62L32.5 60.1L32.3 58.8L30 58.7L28 59L25 58.4L23 57.4L20 59L19 59.7L15.5 58.5L13 57.2L11 56.7L10.5 55L11 53L9.5 52.7L8.5 53.1L5 53.2L3 53.2L0 54.2L-2 55L-5.6 54ZM354.4 54L350.4 59.5L347 62.5L343 69L342.5 75.3L343.3 77.5L345 79L346.7 81L348.5 83.1L352.5 85.6L356 84.8L361 84L364.5 83.7L368.5 85.5L369.7 86.5L369.5 89L369 91L371.8 94.5L372.3 96L373.2 98.8L373.7 101L372 107L374.5 112.9L375.2 117L376.5 118.6L378.4 123.9L380 124.8L382.5 124L385.6 123.9L388 122.8L390.9 120L392.5 118.5L392.9 116L395.5 114L395.3 112L394.7 110L396.5 108.8L399.5 106.5L400.5 105L400.4 100.5L399.3 97L398.9 95L400.2 93L401.5 91.6L403.5 89.3L406 87.5L408.5 84.5L411.2 79.5L411.3 78.2L408 78.8L405 79.4L403.3 78.2L402.6 77L401 75L399.5 73.5L398.5 72L397.2 69L396.6 68L395.5 66.1L394.2 63.5L393.5 62L392.5 60.1L392.3 58.8L390 58.7L388 59L385 58.4L383 57.4L380 59L379 59.7L375.5 58.5L373 57.2L371 56.7L370.5 55L371 53L369.5 52.7L368.5 53.1L365 53.2L363 53.2L360 54.2L358 55L354.4 54Z" fill="#ff0000"/><ellipse cx="22" cy="95" rx="9" ry="6" fill="#ff4600"/><ellipse cx="12" cy="102" rx="5" ry="5" fill="#ff4600"/><path d="M282.7 82L284 80.5L284.5 79.5L286 78.7L288 78L288.7 79L288.5 79.5L290 78.5L292 79.5L295 79.9L298 79.3L299 81L301 82L303 84L306 84.2L308 85.5L309 86.5L310 88.3L310 90L312 91L315 91.5L318 92.8L321 93.5L323 94.8L324.8 95.5L325.2 97.5L324.7 99.5L323 101L321.3 103L321 106L320.5 108L319.5 111L318 113L315.5 113.3L313 114.5L311.5 116.5L311.3 118.5L309.5 121L307.5 123.5L306 124.7L303 125.5L302.7 127L302.2 128.5L298 129L297.5 130.5L295 131L295.5 132.5L294.5 135L292.5 136.5L294 138L291.5 140.5L291.5 142.3L290 143L288.5 144L286 142.5L284.5 140L285.5 136L286.5 133L286.3 130L286.6 127L288.3 123L288.5 120L289.4 115L289.8 110L289.6 108.4L288 107L284.5 105L283.5 103L282 100L280.5 97L279 95.5L278.8 94.2L280 93L279.5 91L280 89.2L281.2 88.5L282.5 86.5L282.7 84L282.2 82.8L282.7 82Z" fill="#ff7800"/><ellipse cx="294" cy="123" rx="7" ry="14" fill="#ff0000"/><path d="M300 112L330 105L360 108L360 130L320 132L300 130Z" fill="#ff4600"/><path d="M0 134L100 134L160 138L200 130L260 130L300 137L360 137L360 150L0 150Z" fill="#e0f800"/><ellipse cx="150" cy="144" rx="40" ry="5" fill="#ace600"/><ellipse cx="40" cy="146" rx="30" ry="4" fill="#ace600"/><ellipse cx="100" cy="140" rx="15" ry="3" fill="#ace600"/><ellipse cx="230" cy="138" rx="20" ry="4" fill="#ace600"/><ellipse cx="255" cy="145" rx="25" ry="7" fill="#ace600"/><rect x="0" y="150" width="360" height="30" fill="#ace600"/><use href="#antland" fill="#ace600"/><rect x="0" y="168" width="360" height="12" fill="#74d40a"/><ellipse cx="200" cy="160" rx="30" ry="5" fill="#74d40a"/><ellipse cx="90" cy="168" rx="30" ry="3" fill="#74d40a"/><use href="#coast"/></svg><rect x="195.60" y="172.00" width="127.90" height="65.40" fill="none" stroke="#000" stroke-width="1"/><path d="M195.60 172.00v-2.50M195.60 237.40v2.50M199.15 172.00v-1.20M199.15 237.40v1.20M202.71 172.00v-1.20M202.71 237.40v1.20M206.26 172.00v-1.20M206.26 237.40v1.20M209.81 172.00v-1.20M209.81 237.40v1.20M213.36 172.00v-1.20M213.36 237.40v1.20M216.92 172.00v-2.50M216.92 237.40v2.50M220.47 172.00v-1.20M220.47 237.40v1.20M224.02 172.00v-1.20M224.02 237.40v1.20M227.57 172.00v-1.20M227.57 237.40v1.20M231.13 172.00v-1.20M231.13 237.40v1.20M234.68 172.00v-1.20M234.68 237.40v1.20M238.23 172.00v-2.50M238.23 237.40v2.50M241.79 172.00v-1.20M241.79 237.40v1.20M245.34 172.00v-1.20M245.34 237.40v1.20M248.89 172.00v-1.20M248.89 237.40v1.20M252.44 172.00v-1.20M252.44 237.40v1.20M256.00 172.00v-1.20M256.00 237.40v1.20M259.55 172.00v-2.50M259.55 237.40v2.50M263.10 172.00v-1.20M263.10 237.40v1.20M266.66 172.00v-1.20M266.66 237.40v1.20M270.21 172.00v-1.20M270.21 237.40v1.20M273.76 172.00v-1.20M273.76 237.40v1.20M277.31 172.00v-1.20M277.31 237.40v1.20M280.87 172.00v-2.50M280.87 237.40v2.50M284.42 172.00v-1.20M284.42 237.40v1.20M287.97 172.00v-1.20M287.97 237.40v1.20M291.52 172.00v-1.20M291.52 237.40v1.20M295.08 172.00v-1.20M295.08 237.40v1.20M298.63 172.00v-1.20M298.63 237.40v1.20M302.18 172.00v-2.50M302.18 237.40v2.50M305.74 172.00v-1.20M305.74 237.40v1.20M309.29 172.00v-1.20M309.29 237.40v1.20M312.84 172.00v-1.20M312.84 237.40v1.20M316.39 172.00v-1.20M316.39 237.40v1.20M319.95 172.00v-1.20M319.95 237.40v1.20M323.50 172.00v-2.50M323.50 237.40v2.50M195.60 172.00h-2.50M323.50 172.00h2.50M195.60 175.63h-1.20M323.50 175.63h1.20M195.60 179.27h-1.20M323.50 179.27h1.20M195.60 182.90h-2.50M323.50 182.90h2.50M195.60 186.53h-1.20M323.50 186.53h1.20M195.60 190.17h-1.20M323.50 190.17h1.20M195.60 193.80h-2.50M323.50 193.80h2.50M195.60 197.43h-1.20M323.50 197.43h1.20M195.60 201.07h-1.20M323.50 201.07h1.20M195.60 204.70h-2.50M323.50 204.70h2.50M195.60 208.33h-1.20M323.50 208.33h1.20M195.60 211.97h-1.20M323.50 211.97h1.20M195.60 215.60h-2.50M323.50 215.60h2.50M195.60 219.23h-1.20M323.50 219.23h1.20M195.60 222.87h-1.20M323.50 222.87h1.20M195.60 226.50h-2.50M323.50 226.50h2.50M195.60 230.13h-1.20M323.50 230.13h1.20M195.60 233.77h-1.20M323.50 233.77h1.20M195.60 237.40h-2.50M323.50 237.40h2.50" stroke="#000" stroke-width="0.8" fill="none"/><svg x="330.20" y="172.00" width="127.90" height="65.40" viewBox="0 0 360 180" preserveAspectRatio="none"><rect x="0" y="0" width="360" height="180" fill="#ffffff"/><ellipse cx="60" cy="50" rx="60" ry="18" fill="#fef8e4"/><ellipse cx="70" cy="75" rx="12" ry="8" fill="#fef8e4"/><ellipse cx="25" cy="115" rx="6" ry="8" fill="#c2e3f5"/><ellipse cx="135" cy="115" rx="14" ry="9" fill="#dbeef8"/><ellipse cx="80" cy="120" rx="30" ry="8" fill="#eef7fc"/><ellipse cx="258" cy="45" rx="12" ry="10" fill="#dbeef8"/><ellipse cx="292" cy="135" rx="4" ry="8" fill="#dbeef8"/><ellipse cx="215" cy="115" rx="3" ry="2" fill="#a3d3f0"/><ellipse cx="330" cy="70" rx="20" ry="8" fill="#fef8e4"/><ellipse cx="200" cy="160" rx="40" ry="3" fill="#fef8e4"/><ellipse cx="240" cy="100" rx="30" ry="15" fill="#eef7fc"/><ellipse cx="160" cy="95" rx="20" ry="6" fill="#eef7fc"/><ellipse cx="200" cy="60" rx="25" ry="10" fill="#eef7fc"/><ellipse cx="100" cy="105" rx="25" ry="8" fill="#eef7fc"/><ellipse cx="300" cy="120" rx="15" ry="6" fill="#fef8e4"/><use href="#coast"/></svg><rect x="330.20" y="172.00" width="127.90" height="65.40" fill="none" stroke="#000" stroke-width="1"/><path d="M330.20 172.00v-2.50M330.20 237.40v2.50M333.75 172.00v-1.20M333.75 237.40v1.20M337.31 172.00v-1.20M337.31 237.40v1.20M340.86 172.00v-1.20M340.86 237.40v1.20M344.41 172.00v-1.20M344.41 237.40v1.20M347.96 172.00v-1.20M347.96 237.40v1.20M351.52 172.00v-2.50M351.52 237.40v2.50M355.07 172.00v-1.20M355.07 237.40v1.20M358.62 172.00v-1.20M358.62 237.40v1.20M362.18 172.00v-1.20M362.18 237.40v1.20M365.73 172.00v-1.20M365.73 237.40v1.20M369.28 172.00v-1.20M369.28 237.40v1.20M372.83 172.00v-2.50M372.83 237.40v2.50M376.39 172.00v-1.20M376.39 237.40v1.20M379.94 172.00v-1.20M379.94 237.40v1.20M383.49 172.00v-1.20M383.49 237.40v1.20M387.04 172.00v-1.20M387.04 237.40v1.20M390.60 172.00v-1.20M390.60 237.40v1.20M394.15 172.00v-2.50M394.15 237.40v2.50M397.70 172.00v-1.20M397.70 237.40v1.20M401.26 172.00v-1.20M401.26 237.40v1.20M404.81 172.00v-1.20M404.81 237.40v1.20M408.36 172.00v-1.20M408.36 237.40v1.20M411.91 172.00v-1.20M411.91 237.40v1.20M415.47 172.00v-2.50M415.47 237.40v2.50M419.02 172.00v-1.20M419.02 237.40v1.20M422.57 172.00v-1.20M422.57 237.40v1.20M426.12 172.00v-1.20M426.12 237.40v1.20M429.68 172.00v-1.20M429.68 237.40v1.20M433.23 172.00v-1.20M433.23 237.40v1.20M436.78 172.00v-2.50M436.78 237.40v2.50M440.34 172.00v-1.20M440.34 237.40v1.20M443.89 172.00v-1.20M443.89 237.40v1.20M447.44 172.00v-1.20M447.44 237.40v1.20M450.99 172.00v-1.20M450.99 237.40v1.20M454.55 172.00v-1.20M454.55 237.40v1.20M458.10 172.00v-2.50M458.10 237.40v2.50M330.20 172.00h-2.50M458.10 172.00h2.50M330.20 175.63h-1.20M458.10 175.63h1.20M330.20 179.27h-1.20M458.10 179.27h1.20M330.20 182.90h-2.50M458.10 182.90h2.50M330.20 186.53h-1.20M458.10 186.53h1.20M330.20 190.17h-1.20M458.10 190.17h1.20M330.20 193.80h-2.50M458.10 193.80h2.50M330.20 197.43h-1.20M458.10 197.43h1.20M330.20 201.07h-1.20M458.10 201.07h1.20M330.20 204.70h-2.50M458.10 204.70h2.50M330.20 208.33h-1.20M458.10 208.33h1.20M330.20 211.97h-1.20M458.10 211.97h1.20M330.20 215.60h-2.50M458.10 215.60h2.50M330.20 219.23h-1.20M458.10 219.23h1.20M330.20 222.87h-1.20M458.10 222.87h1.20M330.20 226.50h-2.50M458.10 226.50h2.50M330.20 230.13h-1.20M458.10 230.13h1.20M330.20 233.77h-1.20M458.10 233.77h1.20M330.20 237.40h-2.50M458.10 237.40h2.50" stroke="#000" stroke-width="0.8" fill="none"/><svg x="61.00" y="250.50" width="127.90" height="65.40" viewBox="0 0 360 180" preserveAspectRatio="none"><rect x="0" y="0" width="360" height="180" fill="#0ab414"/><path d="M0 32L60 30L120 32L150 38L170 35L200 35L235 38L250 45L240 58L200 60L160 58L140 55L120 58L100 56L60 58L30 62L0 60Z" fill="#40c40e"/><path d="M285 48L300 40L340 35L360 32L360 58L330 62L300 58Z" fill="#40c40e"/><ellipse cx="100" cy="38" rx="18" ry="5" fill="#0ab414"/><ellipse cx="180" cy="45" rx="12" ry="4" fill="#0ab414"/><path d="M0 45L20 43L40 45L60 48L75 52L60 65L45 75L20 75L0 70Z" fill="#74d40a"/><ellipse cx="100" cy="50" rx="12" ry="6" fill="#74d40a"/><ellipse cx="245" cy="50" rx="8" ry="10" fill="#74d40a"/><ellipse cx="195" cy="45" rx="15" ry="6" fill="#74d40a"/><ellipse cx="80" cy="8" rx="30" ry="4" fill="#0a8c50"/><ellipse cx="310" cy="8" rx="25" ry="4" fill="#0a8c50"/><ellipse cx="190" cy="5" rx="30" ry="3" fill="#0a8c50"/><path d="M48 88L75 88L100 92L112 98L100 106L75 105L52 98Z" fill="#0a8c50"/><ellipse cx="88" cy="80" rx="8" ry="6" fill="#0a8c50"/><path d="M295 82L320 76L350 78L360 84L360 92L330 92L300 90Z" fill="#0a8c50"/><ellipse cx="342" cy="84" rx="10" ry="4" fill="#0a3cb0"/><ellipse cx="3" cy="88" rx="4" ry="5" fill="#066478"/><ellipse cx="215" cy="87" rx="15" ry="3" fill="#0a8c50"/><ellipse cx="165" cy="95" rx="12" ry="3" fill="#0a8c50"/><path d="M0 112L40 115L80 108L110 112L150 118L200 110L260 115L290 120L330 115L360 112L360 156L0 156Z" fill="#40c40e"/><ellipse cx="25" cy="110" rx="8" ry="10" fill="#40c40e"/><ellipse cx="300" cy="105" rx="12" ry="15" fill="#40c40e"/><ellipse cx="20" cy="138" rx="15" ry="4" fill="#74d40a"/><ellipse cx="90" cy="132" rx="6" ry="3" fill="#74d40a"/><ellipse cx="200" cy="135" rx="20" ry="5" fill="#74d40a"/><ellipse cx="255" cy="130" rx="12" ry="4" fill="#74d40a"/><ellipse cx="120" cy="152" rx="20" ry="2.5" fill="#74d40a"/><ellipse cx="170" cy="125" rx="15" ry="8" fill="#0ab414"/><use href="#antland" fill="#0a8c50"/><rect x="0" y="162" width="360" height="18" fill="#0a8c50"/><ellipse cx="60" cy="172" rx="30" ry="5" fill="#066478"/><ellipse cx="140" cy="174" rx="25" ry="4" fill="#066478"/><ellipse cx="330" cy="170" rx="25" ry="4" fill="#066478"/><ellipse cx="45" cy="173" rx="8" ry="2" fill="#0a3cb0"/><ellipse cx="230" cy="166" rx="10" ry="2" fill="#74d40a"/><use href="#coast"/></svg><rect x="61.00" y="250.50" width="127.90" height="65.40" fill="none" stroke="#000" stroke-width="1"/><path d="M61.00 250.50v-2.50M61.00 315.90v2.50M64.55 250.50v-1.20M64.55 315.90v1.20M68.11 250.50v-1.20M68.11 315.90v1.20M71.66 250.50v-1.20M71.66 315.90v1.20M75.21 250.50v-1.20M75.21 315.90v1.20M78.76 250.50v-1.20M78.76 315.90v1.20M82.32 250.50v-2.50M82.32 315.90v2.50M85.87 250.50v-1.20M85.87 315.90v1.20M89.42 250.50v-1.20M89.42 315.90v1.20M92.98 250.50v-1.20M92.98 315.90v1.20M96.53 250.50v-1.20M96.53 315.90v1.20M100.08 250.50v-1.20M100.08 315.90v1.20M103.63 250.50v-2.50M103.63 315.90v2.50M107.19 250.50v-1.20M107.19 315.90v1.20M110.74 250.50v-1.20M110.74 315.90v1.20M114.29 250.50v-1.20M114.29 315.90v1.20M117.84 250.50v-1.20M117.84 315.90v1.20M121.40 250.50v-1.20M121.40 315.90v1.20M124.95 250.50v-2.50M124.95 315.90v2.50M128.50 250.50v-1.20M128.50 315.90v1.20M132.06 250.50v-1.20M132.06 315.90v1.20M135.61 250.50v-1.20M135.61 315.90v1.20M139.16 250.50v-1.20M139.16 315.90v1.20M142.71 250.50v-1.20M142.71 315.90v1.20M146.27 250.50v-2.50M146.27 315.90v2.50M149.82 250.50v-1.20M149.82 315.90v1.20M153.37 250.50v-1.20M153.37 315.90v1.20M156.93 250.50v-1.20M156.93 315.90v1.20M160.48 250.50v-1.20M160.48 315.90v1.20M164.03 250.50v-1.20M164.03 315.90v1.20M167.58 250.50v-2.50M167.58 315.90v2.50M171.14 250.50v-1.20M171.14 315.90v1.20M174.69 250.50v-1.20M174.69 315.90v1.20M178.24 250.50v-1.20M178.24 315.90v1.20M181.79 250.50v-1.20M181.79 315.90v1.20M185.35 250.50v-1.20M185.35 315.90v1.20M188.90 250.50v-2.50M188.90 315.90v2.50M61.00 250.50h-2.50M188.90 250.50h2.50M61.00 254.13h-1.20M188.90 254.13h1.20M61.00 257.77h-1.20M188.90 257.77h1.20M61.00 261.40h-2.50M188.90 261.40h2.50M61.00 265.03h-1.20M188.90 265.03h1.20M61.00 268.67h-1.20M188.90 268.67h1.20M61.00 272.30h-2.50M188.90 272.30h2.50M61.00 275.93h-1.20M188.90 275.93h1.20M61.00 279.57h-1.20M188.90 279.57h1.20M61.00 283.20h-2.50M188.90 283.20h2.50M61.00 286.83h-1.20M188.90 286.83h1.20M61.00 290.47h-1.20M188.90 290.47h1.20M61.00 294.10h-2.50M188.90 294.10h2.50M61.00 297.73h-1.20M188.90 297.73h1.20M61.00 301.37h-1.20M188.90 301.37h1.20M61.00 305.00h-2.50M188.90 305.00h2.50M61.00 308.63h-1.20M188.90 308.63h1.20M61.00 312.27h-1.20M188.90 312.27h1.20M61.00 315.90h-2.50M188.90 315.90h2.50" stroke="#000" stroke-width="0.8" fill="none"/><svg x="195.60" y="250.50" width="127.90" height="65.40" viewBox="0 0 360 180" preserveAspectRatio="none"><rect x="0" y="0" width="360" height="180" fill="#40c40e"/><rect x="0" y="0" width="360" height="18" fill="#0ab414"/><path d="M-5.6 54L-9.6 59.5L-13 62.5L-17 69L-17.5 75.3L-16.7 77.5L-15 79L-13.3 81L-11.5 83.1L-7.5 85.6L-4 84.8L1 84L4.5 83.7L8.5 85.5L9.7 86.5L9.5 89L9 91L11.8 94.5L12.3 96L13.2 98.8L13.7 101L12 107L14.5 112.9L15.2 117L16.5 118.6L18.4 123.9L20 124.8L22.5 124L25.6 123.9L28 122.8L30.9 120L32.5 118.5L32.9 116L35.5 114L35.3 112L34.7 110L36.5 108.8L39.5 106.5L40.5 105L40.4 100.5L39.3 97L38.9 95L40.2 93L41.5 91.6L43.5 89.3L46 87.5L48.5 84.5L51.2 79.5L51.3 78.2L48 78.8L45 79.4L43.3 78.2L42.6 77L41 75L39.5 73.5L38.5 72L37.2 69L36.6 68L35.5 66.1L34.2 63.5L33.5 62L32.5 60.1L32.3 58.8L30 58.7L28 59L25 58.4L23 57.4L20 59L19 59.7L15.5 58.5L13 57.2L11 56.7L10.5 55L11 53L9.5 52.7L8.5 53.1L5 53.2L3 53.2L0 54.2L-2 55L-5.6 54ZM354.4 54L350.4 59.5L347 62.5L343 69L342.5 75.3L343.3 77.5L345 79L346.7 81L348.5 83.1L352.5 85.6L356 84.8L361 84L364.5 83.7L368.5 85.5L369.7 86.5L369.5 89L369 91L371.8 94.5L372.3 96L373.2 98.8L373.7 101L372 107L374.5 112.9L375.2 117L376.5 118.6L378.4 123.9L380 124.8L382.5 124L385.6 123.9L388 122.8L390.9 120L392.5 118.5L392.9 116L395.5 114L395.3 112L394.7 110L396.5 108.8L399.5 106.5L400.5 105L400.4 100.5L399.3 97L398.9 95L400.2 93L401.5 91.6L403.5 89.3L406 87.5L408.5 84.5L411.2 79.5L411.3 78.2L408 78.8L405 79.4L403.3 78.2L402.6 77L401 75L399.5 73.5L398.5 72L397.2 69L396.6 68L395.5 66.1L394.2 63.5L393.5 62L392.5 60.1L392.3 58.8L390 58.7L388 59L385 58.4L383 57.4L380 59L379 59.7L375.5 58.5L373 57.2L371 56.7L370.5 55L371 53L369.5 52.7L368.5 53.1L365 53.2L363 53.2L360 54.2L358 55L354.4 54Z" fill="#0ab414"/><ellipse cx="15" cy="65" rx="15" ry="8" fill="#40c40e"/><path d="M35 90L60 85L100 88L120 95L115 110L80 112L45 105Z" fill="#0ab414"/><path d="M113.5 112L114.2 116L113.5 116.5L115 119.5L115.7 123.3L115 124.3L117.8 125L121 123.8L124 123L126 122.3L129 121.6L131.5 121.5L134 122.8L135.6 124.8L137.5 123L137.8 125.5L139.5 125.7L140.5 128L143.5 128.8L146.3 129.1L148 127.8L150 127.5L151.2 124L152.5 122L153.6 118.5L153 115.3L150.8 112.5L149 110.5L146.3 109L145.5 106L145.3 104.8L143.6 104L142.5 100.7L141.6 102.8L141.5 105.5L140.5 107.6L139.3 107.4L137 105.8L135.5 105L136.8 102.2L135.5 102L132.5 101.5L131 102.2L129.5 104.8L127.5 104L125.5 104.5L124 106.5L122.2 108L121 109.5L118.5 110.3L116.5 110.8L114.6 111.8L113.5 112Z" fill="#0ab414"/><ellipse cx="135" cy="115" rx="25" ry="12" fill="#0ab414"/><path d="M240 22L290 22L300 40L285 55L270 65L255 60L240 45Z" fill="#0ab414"/><path d="M282.7 82L284 80.5L284.5 79.5L286 78.7L288 78L288.7 79L288.5 79.5L290 78.5L292 79.5L295 79.9L298 79.3L299 81L301 82L303 84L306 84.2L308 85.5L309 86.5L310 88.3L310 90L312 91L315 91.5L318 92.8L321 93.5L323 94.8L324.8 95.5L325.2 97.5L324.7 99.5L323 101L321.3 103L321 106L320.5 108L319.5 111L318 113L315.5 113.3L313 114.5L311.5 116.5L311.3 118.5L309.5 121L307.5 123.5L306 124.7L303 125.5L302.7 127L302.2 128.5L298 129L297.5 130.5L295 131L295.5 132.5L294.5 135L292.5 136.5L294 138L291.5 140.5L291.5 142.3L290 143L288.5 144L286 142.5L284.5 140L285.5 136L286.5 133L286.3 130L286.6 127L288.3 123L288.5 120L289.4 115L289.8 110L289.6 108.4L288 107L284.5 105L283.5 103L282 100L280.5 97L279 95.5L278.8 94.2L280 93L279.5 91L280 89.2L281.2 88.5L282.5 86.5L282.7 84L282.2 82.8L282.7 82Z" fill="#0ab414"/><ellipse cx="300" cy="120" rx="8" ry="8" fill="#40c40e"/><ellipse cx="90" cy="12" rx="35" ry="8" fill="#0a8c50"/><ellipse cx="100" cy="12" rx="15" ry="4" fill="#066478"/><path d="M245 20L290 18L300 10L260 8L235 12Z" fill="#0a8c50"/><ellipse cx="270" cy="15" rx="12" ry="4" fill="#066478"/><path d="M290 80L320 76L350 78L360 84L360 92L330 90L300 88Z" fill="#0a8c50"/><ellipse cx="342" cy="84" rx="8" ry="3" fill="#0a3cb0"/><ellipse cx="3" cy="88" rx="4" ry="5" fill="#066478"/><ellipse cx="105" cy="95" rx="10" ry="3" fill="#0a8c50"/><ellipse cx="60" cy="145" rx="40" ry="3" fill="#74d40a"/><ellipse cx="140" cy="144" rx="25" ry="3" fill="#74d40a"/><ellipse cx="280" cy="148" rx="30" ry="3" fill="#74d40a"/><ellipse cx="230" cy="140" rx="15" ry="3" fill="#74d40a"/><rect x="0" y="156" width="360" height="6" fill="#0ab414"/><rect x="0" y="162" width="360" height="18" fill="#0a8c50"/><ellipse cx="60" cy="172" rx="40" ry="5" fill="#066478"/><ellipse cx="140" cy="174" rx="30" ry="4" fill="#066478"/><ellipse cx="70" cy="174" rx="15" ry="2" fill="#0a3cb0"/><ellipse cx="330" cy="170" rx="25" ry="4" fill="#066478"/><use href="#coast"/></svg><rect x="195.60" y="250.50" width="127.90" height="65.40" fill="none" stroke="#000" stroke-width="1"/><path d="M195.60 250.50v-2.50M195.60 315.90v2.50M199.15 250.50v-1.20M199.15 315.90v1.20M202.71 250.50v-1.20M202.71 315.90v1.20M206.26 250.50v-1.20M206.26 315.90v1.20M209.81 250.50v-1.20M209.81 315.90v1.20M213.36 250.50v-1.20M213.36 315.90v1.20M216.92 250.50v-2.50M216.92 315.90v2.50M220.47 250.50v-1.20M220.47 315.90v1.20M224.02 250.50v-1.20M224.02 315.90v1.20M227.57 250.50v-1.20M227.57 315.90v1.20M231.13 250.50v-1.20M231.13 315.90v1.20M234.68 250.50v-1.20M234.68 315.90v1.20M238.23 250.50v-2.50M238.23 315.90v2.50M241.79 250.50v-1.20M241.79 315.90v1.20M245.34 250.50v-1.20M245.34 315.90v1.20M248.89 250.50v-1.20M248.89 315.90v1.20M252.44 250.50v-1.20M252.44 315.90v1.20M256.00 250.50v-1.20M256.00 315.90v1.20M259.55 250.50v-2.50M259.55 315.90v2.50M263.10 250.50v-1.20M263.10 315.90v1.20M266.66 250.50v-1.20M266.66 315.90v1.20M270.21 250.50v-1.20M270.21 315.90v1.20M273.76 250.50v-1.20M273.76 315.90v1.20M277.31 250.50v-1.20M277.31 315.90v1.20M280.87 250.50v-2.50M280.87 315.90v2.50M284.42 250.50v-1.20M284.42 315.90v1.20M287.97 250.50v-1.20M287.97 315.90v1.20M291.52 250.50v-1.20M291.52 315.90v1.20M295.08 250.50v-1.20M295.08 315.90v1.20M298.63 250.50v-1.20M298.63 315.90v1.20M302.18 250.50v-2.50M302.18 315.90v2.50M305.74 250.50v-1.20M305.74 315.90v1.20M309.29 250.50v-1.20M309.29 315.90v1.20M312.84 250.50v-1.20M312.84 315.90v1.20M316.39 250.50v-1.20M316.39 315.90v1.20M319.95 250.50v-1.20M319.95 315.90v1.20M323.50 250.50v-2.50M323.50 315.90v2.50M195.60 250.50h-2.50M323.50 250.50h2.50M195.60 254.13h-1.20M323.50 254.13h1.20M195.60 257.77h-1.20M323.50 257.77h1.20M195.60 261.40h-2.50M323.50 261.40h2.50M195.60 265.03h-1.20M323.50 265.03h1.20M195.60 268.67h-1.20M323.50 268.67h1.20M195.60 272.30h-2.50M323.50 272.30h2.50M195.60 275.93h-1.20M323.50 275.93h1.20M195.60 279.57h-1.20M323.50 279.57h1.20M195.60 283.20h-2.50M323.50 283.20h2.50M195.60 286.83h-1.20M323.50 286.83h1.20M195.60 290.47h-1.20M323.50 290.47h1.20M195.60 294.10h-2.50M323.50 294.10h2.50M195.60 297.73h-1.20M323.50 297.73h1.20M195.60 301.37h-1.20M323.50 301.37h1.20M195.60 305.00h-2.50M323.50 305.00h2.50M195.60 308.63h-1.20M323.50 308.63h1.20M195.60 312.27h-1.20M323.50 312.27h1.20M195.60 315.90h-2.50M323.50 315.90h2.50" stroke="#000" stroke-width="0.8" fill="none"/><svg x="330.20" y="250.50" width="127.90" height="65.40" viewBox="0 0 360 180" preserveAspectRatio="none"><rect x="0" y="0" width="360" height="180" fill="#ffffff"/><ellipse cx="200" cy="110" rx="90" ry="20" fill="#fef8e4"/><ellipse cx="200" cy="78" rx="70" ry="10" fill="#fef8e4"/><ellipse cx="80" cy="35" rx="80" ry="22" fill="#eef7fc"/><ellipse cx="70" cy="40" rx="60" ry="16" fill="#dbeef8"/><ellipse cx="90" cy="35" rx="25" ry="10" fill="#c2e3f5"/><ellipse cx="22" cy="90" rx="14" ry="22" fill="#dbeef8"/><ellipse cx="135" cy="115" rx="14" ry="9" fill="#c2e3f5"/><ellipse cx="25" cy="120" rx="5" ry="4" fill="#a3d3f0"/><ellipse cx="205" cy="40" rx="30" ry="9" fill="#dbeef8"/><ellipse cx="140" cy="28" rx="25" ry="8" fill="#dbeef8"/><ellipse cx="60" cy="13" rx="50" ry="3" fill="#fdd985"/><ellipse cx="150" cy="16" rx="25" ry="3" fill="#fdd985"/><ellipse cx="130" cy="52" rx="6" ry="9" fill="#fcc04a"/><ellipse cx="88" cy="82" rx="16" ry="8" fill="#fcc04a"/><ellipse cx="65" cy="100" rx="30" ry="5" fill="#fdd985"/><ellipse cx="115" cy="92" rx="12" ry="5" fill="#fcc04a"/><ellipse cx="100" cy="140" rx="90" ry="7" fill="#feedb8"/><ellipse cx="300" cy="148" rx="50" ry="5" fill="#feedb8"/><ellipse cx="90" cy="166" rx="45" ry="5" fill="#c2e3f5"/><ellipse cx="260" cy="166" rx="35" ry="4" fill="#c2e3f5"/><ellipse cx="180" cy="168" rx="30" ry="3" fill="#dbeef8"/><ellipse cx="250" cy="40" rx="14" ry="13" fill="#a3d3f0"/><ellipse cx="270" cy="35" rx="16" ry="10" fill="#c2e3f5"/><ellipse cx="320" cy="15" rx="12" ry="6" fill="#eef7fc"/><ellipse cx="300" cy="100" rx="12" ry="14" fill="#dbeef8"/><ellipse cx="290" cy="138" rx="3" ry="6" fill="#a3d3f0"/><ellipse cx="220" cy="82" rx="55" ry="8" fill="#feedb8"/><ellipse cx="330" cy="82" rx="25" ry="7" fill="#fdd985"/><ellipse cx="285" cy="55" rx="4" ry="6" fill="#fcc04a"/><ellipse cx="275" cy="32" rx="6" ry="3" fill="#fdd985"/><ellipse cx="220" cy="8" rx="40" ry="3" fill="#feedb8"/><ellipse cx="240" cy="115" rx="35" ry="8" fill="#feedb8"/><use href="#coast"/></svg><rect x="330.20" y="250.50" width="127.90" height="65.40" fill="none" stroke="#000" stroke-width="1"/><path d="M330.20 250.50v-2.50M330.20 315.90v2.50M333.75 250.50v-1.20M333.75 315.90v1.20M337.31 250.50v-1.20M337.31 315.90v1.20M340.86 250.50v-1.20M340.86 315.90v1.20M344.41 250.50v-1.20M344.41 315.90v1.20M347.96 250.50v-1.20M347.96 315.90v1.20M351.52 250.50v-2.50M351.52 315.90v2.50M355.07 250.50v-1.20M355.07 315.90v1.20M358.62 250.50v-1.20M358.62 315.90v1.20M362.18 250.50v-1.20M362.18 315.90v1.20M365.73 250.50v-1.20M365.73 315.90v1.20M369.28 250.50v-1.20M369.28 315.90v1.20M372.83 250.50v-2.50M372.83 315.90v2.50M376.39 250.50v-1.20M376.39 315.90v1.20M379.94 250.50v-1.20M379.94 315.90v1.20M383.49 250.50v-1.20M383.49 315.90v1.20M387.04 250.50v-1.20M387.04 315.90v1.20M390.60 250.50v-1.20M390.60 315.90v1.20M394.15 250.50v-2.50M394.15 315.90v2.50M397.70 250.50v-1.20M397.70 315.90v1.20M401.26 250.50v-1.20M401.26 315.90v1.20M404.81 250.50v-1.20M404.81 315.90v1.20M408.36 250.50v-1.20M408.36 315.90v1.20M411.91 250.50v-1.20M411.91 315.90v1.20M415.47 250.50v-2.50M415.47 315.90v2.50M419.02 250.50v-1.20M419.02 315.90v1.20M422.57 250.50v-1.20M422.57 315.90v1.20M426.12 250.50v-1.20M426.12 315.90v1.20M429.68 250.50v-1.20M429.68 315.90v1.20M433.23 250.50v-1.20M433.23 315.90v1.20M436.78 250.50v-2.50M436.78 315.90v2.50M440.34 250.50v-1.20M440.34 315.90v1.20M443.89 250.50v-1.20M443.89 315.90v1.20M447.44 250.50v-1.20M447.44 315.90v1.20M450.99 250.50v-1.20M450.99 315.90v1.20M454.55 250.50v-1.20M454.55 315.90v1.20M458.10 250.50v-2.50M458.10 315.90v2.50M330.20 250.50h-2.50M458.10 250.50h2.50M330.20 254.13h-1.20M458.10 254.13h1.20M330.20 257.77h-1.20M458.10 257.77h1.20M330.20 261.40h-2.50M458.10 261.40h2.50M330.20 265.03h-1.20M458.10 265.03h1.20M330.20 268.67h-1.20M458.10 268.67h1.20M330.20 272.30h-2.50M458.10 272.30h2.50M330.20 275.93h-1.20M458.10 275.93h1.20M330.20 279.57h-1.20M458.10 279.57h1.20M330.20 283.20h-2.50M458.10 283.20h2.50M330.20 286.83h-1.20M458.10 286.83h1.20M330.20 290.47h-1.20M458.10 290.47h1.20M330.20 294.10h-2.50M458.10 294.10h2.50M330.20 297.73h-1.20M458.10 297.73h1.20M330.20 301.37h-1.20M458.10 301.37h1.20M330.20 305.00h-2.50M458.10 305.00h2.50M330.20 308.63h-1.20M458.10 308.63h1.20M330.20 312.27h-1.20M458.10 312.27h1.20M330.20 315.90h-2.50M458.10 315.90h2.50" stroke="#000" stroke-width="0.8" fill="none"/><svg x="61.00" y="329.00" width="127.90" height="65.40" viewBox="0 0 360 180" preserveAspectRatio="none"><rect x="0" y="0" width="360" height="180" fill="#e0f800"/><path d="M0 0L360 0L360 28L320 32L300 40L270 45L240 35L200 28L150 28L100 25L60 22L30 24L0 28Z" fill="#ace600"/><ellipse cx="275" cy="28" rx="20" ry="6" fill="#74d40a"/><ellipse cx="150" cy="12" rx="40" ry="5" fill="#74d40a"/><ellipse cx="300" cy="10" rx="20" ry="5" fill="#74d40a"/><ellipse cx="60" cy="32" rx="30" ry="6" fill="#e0f800"/><path d="M0 52L15 48L40 45L60 42L90 42L115 45L125 55L110 65L100 70L80 80L60 85L45 90L42 100L38 115L32 123L18 125L12 108L10 95L5 87L0 85Z" fill="#ffe600"/><path d="M340 62L360 55L360 87L345 85L320 82L305 75L320 65Z" fill="#ffe600"/><ellipse cx="75" cy="95" rx="20" ry="6" fill="#ffe600"/><path d="M235 40L255 42L262 58L262 70L255 75L245 65L238 55Z" fill="#ffe600"/><path d="M113.5 112L114.2 116L113.5 116.5L115 119.5L115.7 123.3L115 124.3L117.8 125L121 123.8L124 123L126 122.3L129 121.6L131.5 121.5L134 122.8L135.6 124.8L137.5 123L137.8 125.5L139.5 125.7L140.5 128L143.5 128.8L146.3 129.1L148 127.8L150 127.5L151.2 124L152.5 122L153.6 118.5L153 115.3L150.8 112.5L149 110.5L146.3 109L145.5 106L145.3 104.8L143.6 104L142.5 100.7L141.6 102.8L141.5 105.5L140.5 107.6L139.3 107.4L137 105.8L135.5 105L136.8 102.2L135.5 102L132.5 101.5L131 102.2L129.5 104.8L127.5 104L125.5 104.5L124 106.5L122.2 108L121 109.5L118.5 110.3L116.5 110.8L114.6 111.8L113.5 112Z" fill="#ffe600"/><ellipse cx="125" cy="115" rx="18" ry="9" fill="#ffe600"/><ellipse cx="293" cy="130" rx="5" ry="10" fill="#ffe600"/><ellipse cx="315" cy="122" rx="10" ry="4" fill="#ffe600"/><path d="M150 95L200 92L240 100L245 115L220 120L190 118L165 110L150 105Z" fill="#ace600"/><ellipse cx="175" cy="85" rx="15" ry="3" fill="#ace600"/><ellipse cx="280" cy="130" rx="20" ry="4" fill="#ace600"/><ellipse cx="60" cy="135" rx="30" ry="4" fill="#ace600"/><ellipse cx="140" cy="142" rx="25" ry="4" fill="#ace600"/><ellipse cx="215" cy="140" rx="20" ry="4" fill="#ace600"/><ellipse cx="20" cy="145" rx="20" ry="4" fill="#ace600"/><ellipse cx="100" cy="120" rx="15" ry="4" fill="#ace600"/><ellipse cx="250" cy="125" rx="15" ry="4" fill="#ace600"/><ellipse cx="330" cy="145" rx="25" ry="4" fill="#ace600"/><ellipse cx="180" cy="130" rx="12" ry="3" fill="#ace600"/><ellipse cx="200" cy="60" rx="25" ry="4" fill="#ace600"/><ellipse cx="160" cy="50" rx="12" ry="3" fill="#ace600"/><ellipse cx="320" cy="45" rx="12" ry="4" fill="#ace600"/><rect x="0" y="152" width="360" height="28" fill="#ace600"/><use href="#antland" fill="#74d40a"/><ellipse cx="200" cy="162" rx="40" ry="3" fill="#ace600"/><ellipse cx="40" cy="170" rx="20" ry="2" fill="#ace600"/><ellipse cx="300" cy="174" rx="30" ry="2" fill="#ace600"/><ellipse cx="100" cy="152" rx="30" ry="2" fill="#74d40a"/><use href="#coast"/></svg><rect x="61.00" y="329.00" width="127.90" height="65.40" fill="none" stroke="#000" stroke-width="1"/><path d="M61.00 329.00v-2.50M61.00 394.40v2.50M64.55 329.00v-1.20M64.55 394.40v1.20M68.11 329.00v-1.20M68.11 394.40v1.20M71.66 329.00v-1.20M71.66 394.40v1.20M75.21 329.00v-1.20M75.21 394.40v1.20M78.76 329.00v-1.20M78.76 394.40v1.20M82.32 329.00v-2.50M82.32 394.40v2.50M85.87 329.00v-1.20M85.87 394.40v1.20M89.42 329.00v-1.20M89.42 394.40v1.20M92.98 329.00v-1.20M92.98 394.40v1.20M96.53 329.00v-1.20M96.53 394.40v1.20M100.08 329.00v-1.20M100.08 394.40v1.20M103.63 329.00v-2.50M103.63 394.40v2.50M107.19 329.00v-1.20M107.19 394.40v1.20M110.74 329.00v-1.20M110.74 394.40v1.20M114.29 329.00v-1.20M114.29 394.40v1.20M117.84 329.00v-1.20M117.84 394.40v1.20M121.40 329.00v-1.20M121.40 394.40v1.20M124.95 329.00v-2.50M124.95 394.40v2.50M128.50 329.00v-1.20M128.50 394.40v1.20M132.06 329.00v-1.20M132.06 394.40v1.20M135.61 329.00v-1.20M135.61 394.40v1.20M139.16 329.00v-1.20M139.16 394.40v1.20M142.71 329.00v-1.20M142.71 394.40v1.20M146.27 329.00v-2.50M146.27 394.40v2.50M149.82 329.00v-1.20M149.82 394.40v1.20M153.37 329.00v-1.20M153.37 394.40v1.20M156.93 329.00v-1.20M156.93 394.40v1.20M160.48 329.00v-1.20M160.48 394.40v1.20M164.03 329.00v-1.20M164.03 394.40v1.20M167.58 329.00v-2.50M167.58 394.40v2.50M171.14 329.00v-1.20M171.14 394.40v1.20M174.69 329.00v-1.20M174.69 394.40v1.20M178.24 329.00v-1.20M178.24 394.40v1.20M181.79 329.00v-1.20M181.79 394.40v1.20M185.35 329.00v-1.20M185.35 394.40v1.20M188.90 329.00v-2.50M188.90 394.40v2.50M61.00 329.00h-2.50M188.90 329.00h2.50M61.00 332.63h-1.20M188.90 332.63h1.20M61.00 336.27h-1.20M188.90 336.27h1.20M61.00 339.90h-2.50M188.90 339.90h2.50M61.00 343.53h-1.20M188.90 343.53h1.20M61.00 347.17h-1.20M188.90 347.17h1.20M61.00 350.80h-2.50M188.90 350.80h2.50M61.00 354.43h-1.20M188.90 354.43h1.20M61.00 358.07h-1.20M188.90 358.07h1.20M61.00 361.70h-2.50M188.90 361.70h2.50M61.00 365.33h-1.20M188.90 365.33h1.20M61.00 368.97h-1.20M188.90 368.97h1.20M61.00 372.60h-2.50M188.90 372.60h2.50M61.00 376.23h-1.20M188.90 376.23h1.20M61.00 379.87h-1.20M188.90 379.87h1.20M61.00 383.50h-2.50M188.90 383.50h2.50M61.00 387.13h-1.20M188.90 387.13h1.20M61.00 390.77h-1.20M188.90 390.77h1.20M61.00 394.40h-2.50M188.90 394.40h2.50" stroke="#000" stroke-width="0.8" fill="none"/><svg x="195.60" y="329.00" width="127.90" height="65.40" viewBox="0 0 360 180" preserveAspectRatio="none"><rect x="0" y="0" width="360" height="180" fill="#e0f800"/><path d="M0 0L360 0L360 28L320 32L300 40L270 45L240 35L200 28L150 28L100 25L60 22L30 24L0 28Z" fill="#ace600"/><ellipse cx="275" cy="28" rx="20" ry="6" fill="#74d40a"/><ellipse cx="150" cy="12" rx="40" ry="5" fill="#74d40a"/><ellipse cx="300" cy="10" rx="20" ry="5" fill="#74d40a"/><ellipse cx="60" cy="32" rx="30" ry="6" fill="#e0f800"/><path d="M0 52L15 48L40 45L60 42L90 42L115 45L125 55L110 65L100 70L80 80L60 85L45 90L42 100L38 115L32 123L18 125L12 108L10 95L5 87L0 85Z" fill="#ffe600"/><path d="M340 62L360 55L360 87L345 85L320 82L305 75L320 65Z" fill="#ffe600"/><ellipse cx="75" cy="95" rx="20" ry="6" fill="#ffe600"/><path d="M235 40L255 42L262 58L262 70L255 75L245 65L238 55Z" fill="#ffe600"/><path d="M113.5 112L114.2 116L113.5 116.5L115 119.5L115.7 123.3L115 124.3L117.8 125L121 123.8L124 123L126 122.3L129 121.6L131.5 121.5L134 122.8L135.6 124.8L137.5 123L137.8 125.5L139.5 125.7L140.5 128L143.5 128.8L146.3 129.1L148 127.8L150 127.5L151.2 124L152.5 122L153.6 118.5L153 115.3L150.8 112.5L149 110.5L146.3 109L145.5 106L145.3 104.8L143.6 104L142.5 100.7L141.6 102.8L141.5 105.5L140.5 107.6L139.3 107.4L137 105.8L135.5 105L136.8 102.2L135.5 102L132.5 101.5L131 102.2L129.5 104.8L127.5 104L125.5 104.5L124 106.5L122.2 108L121 109.5L118.5 110.3L116.5 110.8L114.6 111.8L113.5 112Z" fill="#ffe600"/><ellipse cx="125" cy="115" rx="18" ry="9" fill="#ffe600"/><ellipse cx="293" cy="130" rx="5" ry="10" fill="#ffe600"/><ellipse cx="315" cy="122" rx="10" ry="4" fill="#ffe600"/><path d="M150 95L200 92L240 100L245 115L220 120L190 118L165 110L150 105Z" fill="#ace600"/><ellipse cx="175" cy="85" rx="15" ry="3" fill="#ace600"/><path d="M140 85L200 82L250 95L258 120L220 128L180 124L150 112Z" fill="#ace600"/><ellipse cx="200" cy="105" rx="20" ry="6" fill="#74d40a"/><ellipse cx="60" cy="120" rx="25" ry="6" fill="#ace600"/><ellipse cx="280" cy="130" rx="20" ry="4" fill="#ace600"/><ellipse cx="60" cy="135" rx="30" ry="4" fill="#ace600"/><ellipse cx="140" cy="142" rx="25" ry="4" fill="#ace600"/><ellipse cx="215" cy="140" rx="20" ry="4" fill="#ace600"/><ellipse cx="20" cy="145" rx="20" ry="4" fill="#ace600"/><ellipse cx="100" cy="120" rx="15" ry="4" fill="#ace600"/><ellipse cx="250" cy="125" rx="15" ry="4" fill="#ace600"/><ellipse cx="330" cy="145" rx="25" ry="4" fill="#ace600"/><ellipse cx="180" cy="130" rx="12" ry="3" fill="#ace600"/><ellipse cx="200" cy="60" rx="25" ry="4" fill="#ace600"/><ellipse cx="160" cy="50" rx="12" ry="3" fill="#ace600"/><ellipse cx="320" cy="45" rx="12" ry="4" fill="#ace600"/><rect x="0" y="152" width="360" height="28" fill="#ace600"/><use href="#antland" fill="#74d40a"/><ellipse cx="200" cy="162" rx="40" ry="3" fill="#ace600"/><ellipse cx="40" cy="170" rx="20" ry="2" fill="#ace600"/><ellipse cx="300" cy="174" rx="30" ry="2" fill="#ace600"/><ellipse cx="100" cy="152" rx="30" ry="2" fill="#74d40a"/><use href="#coast"/></svg><rect x="195.60" y="329.00" width="127.90" height="65.40" fill="none" stroke="#000" stroke-width="1"/><path d="M195.60 329.00v-2.50M195.60 394.40v2.50M199.15 329.00v-1.20M199.15 394.40v1.20M202.71 329.00v-1.20M202.71 394.40v1.20M206.26 329.00v-1.20M206.26 394.40v1.20M209.81 329.00v-1.20M209.81 394.40v1.20M213.36 329.00v-1.20M213.36 394.40v1.20M216.92 329.00v-2.50M216.92 394.40v2.50M220.47 329.00v-1.20M220.47 394.40v1.20M224.02 329.00v-1.20M224.02 394.40v1.20M227.57 329.00v-1.20M227.57 394.40v1.20M231.13 329.00v-1.20M231.13 394.40v1.20M234.68 329.00v-1.20M234.68 394.40v1.20M238.23 329.00v-2.50M238.23 394.40v2.50M241.79 329.00v-1.20M241.79 394.40v1.20M245.34 329.00v-1.20M245.34 394.40v1.20M248.89 329.00v-1.20M248.89 394.40v1.20M252.44 329.00v-1.20M252.44 394.40v1.20M256.00 329.00v-1.20M256.00 394.40v1.20M259.55 329.00v-2.50M259.55 394.40v2.50M263.10 329.00v-1.20M263.10 394.40v1.20M266.66 329.00v-1.20M266.66 394.40v1.20M270.21 329.00v-1.20M270.21 394.40v1.20M273.76 329.00v-1.20M273.76 394.40v1.20M277.31 329.00v-1.20M277.31 394.40v1.20M280.87 329.00v-2.50M280.87 394.40v2.50M284.42 329.00v-1.20M284.42 394.40v1.20M287.97 329.00v-1.20M287.97 394.40v1.20M291.52 329.00v-1.20M291.52 394.40v1.20M295.08 329.00v-1.20M295.08 394.40v1.20M298.63 329.00v-1.20M298.63 394.40v1.20M302.18 329.00v-2.50M302.18 394.40v2.50M305.74 329.00v-1.20M305.74 394.40v1.20M309.29 329.00v-1.20M309.29 394.40v1.20M312.84 329.00v-1.20M312.84 394.40v1.20M316.39 329.00v-1.20M316.39 394.40v1.20M319.95 329.00v-1.20M319.95 394.40v1.20M323.50 329.00v-2.50M323.50 394.40v2.50M195.60 329.00h-2.50M323.50 329.00h2.50M195.60 332.63h-1.20M323.50 332.63h1.20M195.60 336.27h-1.20M323.50 336.27h1.20M195.60 339.90h-2.50M323.50 339.90h2.50M195.60 343.53h-1.20M323.50 343.53h1.20M195.60 347.17h-1.20M323.50 347.17h1.20M195.60 350.80h-2.50M323.50 350.80h2.50M195.60 354.43h-1.20M323.50 354.43h1.20M195.60 358.07h-1.20M323.50 358.07h1.20M195.60 361.70h-2.50M323.50 361.70h2.50M195.60 365.33h-1.20M323.50 365.33h1.20M195.60 368.97h-1.20M323.50 368.97h1.20M195.60 372.60h-2.50M323.50 372.60h2.50M195.60 376.23h-1.20M323.50 376.23h1.20M195.60 379.87h-1.20M323.50 379.87h1.20M195.60 383.50h-2.50M323.50 383.50h2.50M195.60 387.13h-1.20M323.50 387.13h1.20M195.60 390.77h-1.20M323.50 390.77h1.20M195.60 394.40h-2.50M323.50 394.40h2.50" stroke="#000" stroke-width="0.8" fill="none"/><svg x="330.20" y="329.00" width="127.90" height="65.40" viewBox="0 0 360 180" preserveAspectRatio="none"><rect x="0" y="0" width="360" height="180" fill="#ffffff"/><rect x="0" y="0" width="360" height="14" fill="#dbeef8"/><ellipse cx="20" cy="18" rx="22" ry="6" fill="#a3d3f0"/><ellipse cx="70" cy="18" rx="12" ry="3" fill="#c2e3f5"/><ellipse cx="210" cy="25" rx="20" ry="5" fill="#dbeef8"/><path d="M0 110L40 100L100 98L150 100L200 105L260 102L290 130L300 152L360 152L360 180L0 180Z" fill="#dbeef8"/><ellipse cx="200" cy="50" rx="40" ry="12" fill="#eef7fc"/><ellipse cx="320" cy="130" rx="25" ry="10" fill="#eef7fc"/><ellipse cx="130" cy="125" rx="25" ry="8" fill="#c2e3f5"/><ellipse cx="125" cy="87" rx="22" ry="10" fill="#7bbde6"/><ellipse cx="115" cy="92" rx="8" ry="5" fill="#5aa5da"/><ellipse cx="130" cy="85" rx="5" ry="3" fill="#3d87c6"/><ellipse cx="200" cy="65" rx="18" ry="8" fill="#7bbde6"/><ellipse cx="195" cy="70" rx="8" ry="4" fill="#3d87c6"/><ellipse cx="60" cy="108" rx="22" ry="12" fill="#5aa5da"/><ellipse cx="55" cy="110" rx="10" ry="6" fill="#2a65ae"/><ellipse cx="70" cy="102" rx="6" ry="4" fill="#3d87c6"/><path d="M0 140L60 138L120 135L180 138L200 145L200 156L120 156L60 158L0 155Z" fill="#7bbde6"/><ellipse cx="40" cy="148" rx="30" ry="5" fill="#3d87c6"/><ellipse cx="140" cy="145" rx="22" ry="7" fill="#2a65ae"/><ellipse cx="110" cy="140" rx="15" ry="4" fill="#3d87c6"/><path d="M50 154L110 152L120 160L100 170L60 172L45 162Z" fill="#2a65ae"/><ellipse cx="80" cy="162" rx="28" ry="7" fill="#1f4a8e"/><ellipse cx="150" cy="168" rx="30" ry="4" fill="#3d87c6"/><ellipse cx="260" cy="168" rx="40" ry="4" fill="#3d87c6"/><ellipse cx="330" cy="165" rx="25" ry="4" fill="#5aa5da"/><ellipse cx="200" cy="165" rx="25" ry="4" fill="#7bbde6"/><ellipse cx="200" cy="90" rx="38" ry="15" fill="#3d87c6" transform="rotate(20 200 90)"/><ellipse cx="203" cy="91" rx="30" ry="9" fill="#1f4a8e" transform="rotate(20 203 91)"/><ellipse cx="185" cy="125" rx="12" ry="6" fill="#2a65ae"/><path d="M232 102L258 103L288 128L288 150L212 150L210 134L262 132L240 114Z" fill="#3d87c6"/><path d="M238 105L254 106L284 130L284 146L220 146L218 138L272 136L244 114Z" fill="#1f4a8e"/><ellipse cx="258" cy="122" rx="6" ry="4" fill="#fcc04a"/><path d="M0 123L20 124L40 130L68 135L60 140L30 137L10 137L0 135Z" fill="#faa032"/><path d="M0 124L15 125L35 130L45 134L30 134L10 133L0 132Z" fill="#ea5027"/><ellipse cx="110" cy="138" rx="7" ry="3" fill="#faa032"/><ellipse cx="260" cy="100" rx="12" ry="5" fill="#faa032"/><ellipse cx="267" cy="112" rx="7" ry="5" fill="#ea5027"/><ellipse cx="223" cy="125" rx="10" ry="3" fill="#faa032"/><ellipse cx="200" cy="125" rx="4" ry="3" fill="#fcc04a"/><ellipse cx="167" cy="105" rx="10" ry="7" fill="#fdd985"/><ellipse cx="155" cy="28" rx="15" ry="3" fill="#fdd985"/><ellipse cx="300" cy="18" rx="5" ry="3" fill="#fcc04a"/><ellipse cx="340" cy="110" rx="12" ry="4" fill="#fdd985"/><ellipse cx="130" cy="108" rx="4" ry="3" fill="#fcc04a"/><ellipse cx="320" cy="105" rx="8" ry="3" fill="#fdd985"/><use href="#coast"/></svg><rect x="330.20" y="329.00" width="127.90" height="65.40" fill="none" stroke="#000" stroke-width="1"/><path d="M330.20 329.00v-2.50M330.20 394.40v2.50M333.75 329.00v-1.20M333.75 394.40v1.20M337.31 329.00v-1.20M337.31 394.40v1.20M340.86 329.00v-1.20M340.86 394.40v1.20M344.41 329.00v-1.20M344.41 394.40v1.20M347.96 329.00v-1.20M347.96 394.40v1.20M351.52 329.00v-2.50M351.52 394.40v2.50M355.07 329.00v-1.20M355.07 394.40v1.20M358.62 329.00v-1.20M358.62 394.40v1.20M362.18 329.00v-1.20M362.18 394.40v1.20M365.73 329.00v-1.20M365.73 394.40v1.20M369.28 329.00v-1.20M369.28 394.40v1.20M372.83 329.00v-2.50M372.83 394.40v2.50M376.39 329.00v-1.20M376.39 394.40v1.20M379.94 329.00v-1.20M379.94 394.40v1.20M383.49 329.00v-1.20M383.49 394.40v1.20M387.04 329.00v-1.20M387.04 394.40v1.20M390.60 329.00v-1.20M390.60 394.40v1.20M394.15 329.00v-2.50M394.15 394.40v2.50M397.70 329.00v-1.20M397.70 394.40v1.20M401.26 329.00v-1.20M401.26 394.40v1.20M404.81 329.00v-1.20M404.81 394.40v1.20M408.36 329.00v-1.20M408.36 394.40v1.20M411.91 329.00v-1.20M411.91 394.40v1.20M415.47 329.00v-2.50M415.47 394.40v2.50M419.02 329.00v-1.20M419.02 394.40v1.20M422.57 329.00v-1.20M422.57 394.40v1.20M426.12 329.00v-1.20M426.12 394.40v1.20M429.68 329.00v-1.20M429.68 394.40v1.20M433.23 329.00v-1.20M433.23 394.40v1.20M436.78 329.00v-2.50M436.78 394.40v2.50M440.34 329.00v-1.20M440.34 394.40v1.20M443.89 329.00v-1.20M443.89 394.40v1.20M447.44 329.00v-1.20M447.44 394.40v1.20M450.99 329.00v-1.20M450.99 394.40v1.20M454.55 329.00v-1.20M454.55 394.40v1.20M458.10 329.00v-2.50M458.10 394.40v2.50M330.20 329.00h-2.50M458.10 329.00h2.50M330.20 332.63h-1.20M458.10 332.63h1.20M330.20 336.27h-1.20M458.10 336.27h1.20M330.20 339.90h-2.50M458.10 339.90h2.50M330.20 343.53h-1.20M458.10 343.53h1.20M330.20 347.17h-1.20M458.10 347.17h1.20M330.20 350.80h-2.50M458.10 350.80h2.50M330.20 354.43h-1.20M458.10 354.43h1.20M330.20 358.07h-1.20M458.10 358.07h1.20M330.20 361.70h-2.50M458.10 361.70h2.50M330.20 365.33h-1.20M458.10 365.33h1.20M330.20 368.97h-1.20M458.10 368.97h1.20M330.20 372.60h-2.50M458.10 372.60h2.50M330.20 376.23h-1.20M458.10 376.23h1.20M330.20 379.87h-1.20M458.10 379.87h1.20M330.20 383.50h-2.50M458.10 383.50h2.50M330.20 387.13h-1.20M458.10 387.13h1.20M330.20 390.77h-1.20M458.10 390.77h1.20M330.20 394.40h-2.50M458.10 394.40h2.50" stroke="#000" stroke-width="0.8" fill="none"/><svg x="61.00" y="407.50" width="127.90" height="65.40" viewBox="0 0 360 180" preserveAspectRatio="none"><rect x="0" y="0" width="360" height="180" fill="#ace600"/><path d="M0 0L360 0L360 16L330 18L300 20L270 16L240 18L200 20L150 16L100 14L60 16L30 15L0 16Z" fill="#74d40a"/><path d="M0 75L20 72L40 78L55 70L75 68L95 70L110 65L130 62L160 60L190 62L220 68L250 75L270 72L285 62L300 55L330 60L360 75L360 95L340 105L325 115L310 120L295 115L285 105L270 95L250 95L230 105L210 112L180 115L160 110L140 108L120 110L100 115L80 118L60 115L45 120L35 122L20 120L10 105L0 95Z" fill="#74d40a"/><ellipse cx="280" cy="45" rx="12" ry="6" fill="#74d40a"/><ellipse cx="315" cy="30" rx="10" ry="8" fill="#74d40a"/><ellipse cx="255" cy="50" rx="10" ry="8" fill="#ace600"/><ellipse cx="20" cy="90" rx="8" ry="5" fill="#ace600"/><rect x="0" y="152" width="360" height="28" fill="#ace600"/><use href="#antland" fill="#74d40a"/><ellipse cx="150" cy="164" rx="60" ry="3" fill="#ace600"/><ellipse cx="215" cy="170" rx="25" ry="4" fill="#e0f800"/><ellipse cx="95" cy="159" rx="15" ry="1.5" fill="#e0f800"/><ellipse cx="20" cy="172" rx="30" ry="3" fill="#ace600"/><use href="#coast"/></svg><rect x="61.00" y="407.50" width="127.90" height="65.40" fill="none" stroke="#000" stroke-width="1"/><path d="M61.00 407.50v-2.50M61.00 472.90v2.50M64.55 407.50v-1.20M64.55 472.90v1.20M68.11 407.50v-1.20M68.11 472.90v1.20M71.66 407.50v-1.20M71.66 472.90v1.20M75.21 407.50v-1.20M75.21 472.90v1.20M78.76 407.50v-1.20M78.76 472.90v1.20M82.32 407.50v-2.50M82.32 472.90v2.50M85.87 407.50v-1.20M85.87 472.90v1.20M89.42 407.50v-1.20M89.42 472.90v1.20M92.98 407.50v-1.20M92.98 472.90v1.20M96.53 407.50v-1.20M96.53 472.90v1.20M100.08 407.50v-1.20M100.08 472.90v1.20M103.63 407.50v-2.50M103.63 472.90v2.50M107.19 407.50v-1.20M107.19 472.90v1.20M110.74 407.50v-1.20M110.74 472.90v1.20M114.29 407.50v-1.20M114.29 472.90v1.20M117.84 407.50v-1.20M117.84 472.90v1.20M121.40 407.50v-1.20M121.40 472.90v1.20M124.95 407.50v-2.50M124.95 472.90v2.50M128.50 407.50v-1.20M128.50 472.90v1.20M132.06 407.50v-1.20M132.06 472.90v1.20M135.61 407.50v-1.20M135.61 472.90v1.20M139.16 407.50v-1.20M139.16 472.90v1.20M142.71 407.50v-1.20M142.71 472.90v1.20M146.27 407.50v-2.50M146.27 472.90v2.50M149.82 407.50v-1.20M149.82 472.90v1.20M153.37 407.50v-1.20M153.37 472.90v1.20M156.93 407.50v-1.20M156.93 472.90v1.20M160.48 407.50v-1.20M160.48 472.90v1.20M164.03 407.50v-1.20M164.03 472.90v1.20M167.58 407.50v-2.50M167.58 472.90v2.50M171.14 407.50v-1.20M171.14 472.90v1.20M174.69 407.50v-1.20M174.69 472.90v1.20M178.24 407.50v-1.20M178.24 472.90v1.20M181.79 407.50v-1.20M181.79 472.90v1.20M185.35 407.50v-1.20M185.35 472.90v1.20M188.90 407.50v-2.50M188.90 472.90v2.50M61.00 407.50h-2.50M188.90 407.50h2.50M61.00 411.13h-1.20M188.90 411.13h1.20M61.00 414.77h-1.20M188.90 414.77h1.20M61.00 418.40h-2.50M188.90 418.40h2.50M61.00 422.03h-1.20M188.90 422.03h1.20M61.00 425.67h-1.20M188.90 425.67h1.20M61.00 429.30h-2.50M188.90 429.30h2.50M61.00 432.93h-1.20M188.90 432.93h1.20M61.00 436.57h-1.20M188.90 436.57h1.20M61.00 440.20h-2.50M188.90 440.20h2.50M61.00 443.83h-1.20M188.90 443.83h1.20M61.00 447.47h-1.20M188.90 447.47h1.20M61.00 451.10h-2.50M188.90 451.10h2.50M61.00 454.73h-1.20M188.90 454.73h1.20M61.00 458.37h-1.20M188.90 458.37h1.20M61.00 462.00h-2.50M188.90 462.00h2.50M61.00 465.63h-1.20M188.90 465.63h1.20M61.00 469.27h-1.20M188.90 469.27h1.20M61.00 472.90h-2.50M188.90 472.90h2.50" stroke="#000" stroke-width="0.8" fill="none"/><svg x="195.60" y="407.50" width="127.90" height="65.40" viewBox="0 0 360 180" preserveAspectRatio="none"><rect x="0" y="0" width="360" height="180" fill="#ace600"/><path d="M0 0L360 0L360 16L330 18L300 20L270 16L240 18L200 20L150 16L100 14L60 16L30 15L0 16Z" fill="#74d40a"/><path d="M0 75L20 72L40 78L55 70L75 68L95 70L110 65L130 62L160 60L190 62L220 68L250 75L270 72L285 62L300 55L330 60L360 75L360 95L340 105L325 115L310 120L295 115L285 105L270 95L250 95L230 105L210 112L180 115L160 110L140 108L120 110L100 115L80 118L60 115L45 120L35 122L20 120L10 105L0 95Z" fill="#74d40a"/><ellipse cx="280" cy="45" rx="12" ry="6" fill="#74d40a"/><ellipse cx="315" cy="30" rx="10" ry="8" fill="#74d40a"/><rect x="0" y="16" width="360" height="54" fill="#74d40a"/><ellipse cx="210" cy="50" rx="25" ry="9" fill="#ace600"/><ellipse cx="160" cy="45" rx="10" ry="5" fill="#ace600"/><ellipse cx="70" cy="52" rx="18" ry="6" fill="#ace600"/><ellipse cx="20" cy="60" rx="10" ry="5" fill="#ace600"/><ellipse cx="255" cy="50" rx="10" ry="8" fill="#ace600"/><ellipse cx="20" cy="90" rx="8" ry="5" fill="#ace600"/><rect x="0" y="152" width="360" height="28" fill="#ace600"/><use href="#antland" fill="#74d40a"/><ellipse cx="150" cy="164" rx="60" ry="3" fill="#ace600"/><ellipse cx="215" cy="170" rx="25" ry="4" fill="#e0f800"/><ellipse cx="95" cy="159" rx="15" ry="1.5" fill="#e0f800"/><ellipse cx="20" cy="172" rx="30" ry="3" fill="#ace600"/><use href="#coast"/></svg><rect x="195.60" y="407.50" width="127.90" height="65.40" fill="none" stroke="#000" stroke-width="1"/><path d="M195.60 407.50v-2.50M195.60 472.90v2.50M199.15 407.50v-1.20M199.15 472.90v1.20M202.71 407.50v-1.20M202.71 472.90v1.20M206.26 407.50v-1.20M206.26 472.90v1.20M209.81 407.50v-1.20M209.81 472.90v1.20M213.36 407.50v-1.20M213.36 472.90v1.20M216.92 407.50v-2.50M216.92 472.90v2.50M220.47 407.50v-1.20M220.47 472.90v1.20M224.02 407.50v-1.20M224.02 472.90v1.20M227.57 407.50v-1.20M227.57 472.90v1.20M231.13 407.50v-1.20M231.13 472.90v1.20M234.68 407.50v-1.20M234.68 472.90v1.20M238.23 407.50v-2.50M238.23 472.90v2.50M241.79 407.50v-1.20M241.79 472.90v1.20M245.34 407.50v-1.20M245.34 472.90v1.20M248.89 407.50v-1.20M248.89 472.90v1.20M252.44 407.50v-1.20M252.44 472.90v1.20M256.00 407.50v-1.20M256.00 472.90v1.20M259.55 407.50v-2.50M259.55 472.90v2.50M263.10 407.50v-1.20M263.10 472.90v1.20M266.66 407.50v-1.20M266.66 472.90v1.20M270.21 407.50v-1.20M270.21 472.90v1.20M273.76 407.50v-1.20M273.76 472.90v1.20M277.31 407.50v-1.20M277.31 472.90v1.20M280.87 407.50v-2.50M280.87 472.90v2.50M284.42 407.50v-1.20M284.42 472.90v1.20M287.97 407.50v-1.20M287.97 472.90v1.20M291.52 407.50v-1.20M291.52 472.90v1.20M295.08 407.50v-1.20M295.08 472.90v1.20M298.63 407.50v-1.20M298.63 472.90v1.20M302.18 407.50v-2.50M302.18 472.90v2.50M305.74 407.50v-1.20M305.74 472.90v1.20M309.29 407.50v-1.20M309.29 472.90v1.20M312.84 407.50v-1.20M312.84 472.90v1.20M316.39 407.50v-1.20M316.39 472.90v1.20M319.95 407.50v-1.20M319.95 472.90v1.20M323.50 407.50v-2.50M323.50 472.90v2.50M195.60 407.50h-2.50M323.50 407.50h2.50M195.60 411.13h-1.20M323.50 411.13h1.20M195.60 414.77h-1.20M323.50 414.77h1.20M195.60 418.40h-2.50M323.50 418.40h2.50M195.60 422.03h-1.20M323.50 422.03h1.20M195.60 425.67h-1.20M323.50 425.67h1.20M195.60 429.30h-2.50M323.50 429.30h2.50M195.60 432.93h-1.20M323.50 432.93h1.20M195.60 436.57h-1.20M323.50 436.57h1.20M195.60 440.20h-2.50M323.50 440.20h2.50M195.60 443.83h-1.20M323.50 443.83h1.20M195.60 447.47h-1.20M323.50 447.47h1.20M195.60 451.10h-2.50M323.50 451.10h2.50M195.60 454.73h-1.20M323.50 454.73h1.20M195.60 458.37h-1.20M323.50 458.37h1.20M195.60 462.00h-2.50M323.50 462.00h2.50M195.60 465.63h-1.20M323.50 465.63h1.20M195.60 469.27h-1.20M323.50 469.27h1.20M195.60 472.90h-2.50M323.50 472.90h2.50" stroke="#000" stroke-width="0.8" fill="none"/><svg x="330.20" y="407.50" width="127.90" height="65.40" viewBox="0 0 360 180" preserveAspectRatio="none"><rect x="0" y="0" width="360" height="180" fill="#ffffff"/><ellipse cx="60" cy="35" rx="60" ry="15" fill="#eef7fc"/><ellipse cx="80" cy="28" rx="25" ry="6" fill="#dbeef8"/><ellipse cx="93" cy="47" rx="6" ry="4" fill="#fcc04a"/><ellipse cx="95" cy="47" rx="3" ry="2" fill="#faa032"/><ellipse cx="140" cy="25" rx="40" ry="8" fill="#eef7fc"/><ellipse cx="60" cy="22" rx="20" ry="5" fill="#dbeef8"/><ellipse cx="265" cy="35" rx="30" ry="14" fill="#eef7fc"/><ellipse cx="300" cy="20" rx="12" ry="6" fill="#dbeef8"/><ellipse cx="120" cy="168" rx="100" ry="6" fill="#dbeef8"/><ellipse cx="300" cy="100" rx="10" ry="12" fill="#eef7fc"/><ellipse cx="280" cy="168" rx="40" ry="5" fill="#eef7fc"/><use href="#coast"/></svg><rect x="330.20" y="407.50" width="127.90" height="65.40" fill="none" stroke="#000" stroke-width="1"/><path d="M330.20 407.50v-2.50M330.20 472.90v2.50M333.75 407.50v-1.20M333.75 472.90v1.20M337.31 407.50v-1.20M337.31 472.90v1.20M340.86 407.50v-1.20M340.86 472.90v1.20M344.41 407.50v-1.20M344.41 472.90v1.20M347.96 407.50v-1.20M347.96 472.90v1.20M351.52 407.50v-2.50M351.52 472.90v2.50M355.07 407.50v-1.20M355.07 472.90v1.20M358.62 407.50v-1.20M358.62 472.90v1.20M362.18 407.50v-1.20M362.18 472.90v1.20M365.73 407.50v-1.20M365.73 472.90v1.20M369.28 407.50v-1.20M369.28 472.90v1.20M372.83 407.50v-2.50M372.83 472.90v2.50M376.39 407.50v-1.20M376.39 472.90v1.20M379.94 407.50v-1.20M379.94 472.90v1.20M383.49 407.50v-1.20M383.49 472.90v1.20M387.04 407.50v-1.20M387.04 472.90v1.20M390.60 407.50v-1.20M390.60 472.90v1.20M394.15 407.50v-2.50M394.15 472.90v2.50M397.70 407.50v-1.20M397.70 472.90v1.20M401.26 407.50v-1.20M401.26 472.90v1.20M404.81 407.50v-1.20M404.81 472.90v1.20M408.36 407.50v-1.20M408.36 472.90v1.20M411.91 407.50v-1.20M411.91 472.90v1.20M415.47 407.50v-2.50M415.47 472.90v2.50M419.02 407.50v-1.20M419.02 472.90v1.20M422.57 407.50v-1.20M422.57 472.90v1.20M426.12 407.50v-1.20M426.12 472.90v1.20M429.68 407.50v-1.20M429.68 472.90v1.20M433.23 407.50v-1.20M433.23 472.90v1.20M436.78 407.50v-2.50M436.78 472.90v2.50M440.34 407.50v-1.20M440.34 472.90v1.20M443.89 407.50v-1.20M443.89 472.90v1.20M447.44 407.50v-1.20M447.44 472.90v1.20M450.99 407.50v-1.20M450.99 472.90v1.20M454.55 407.50v-1.20M454.55 472.90v1.20M458.10 407.50v-2.50M458.10 472.90v2.50M330.20 407.50h-2.50M458.10 407.50h2.50M330.20 411.13h-1.20M458.10 411.13h1.20M330.20 414.77h-1.20M458.10 414.77h1.20M330.20 418.40h-2.50M458.10 418.40h2.50M330.20 422.03h-1.20M458.10 422.03h1.20M330.20 425.67h-1.20M458.10 425.67h1.20M330.20 429.30h-2.50M458.10 429.30h2.50M330.20 432.93h-1.20M458.10 432.93h1.20M330.20 436.57h-1.20M458.10 436.57h1.20M330.20 440.20h-2.50M458.10 440.20h2.50M330.20 443.83h-1.20M458.10 443.83h1.20M330.20 447.47h-1.20M458.10 447.47h1.20M330.20 451.10h-2.50M458.10 451.10h2.50M330.20 454.73h-1.20M458.10 454.73h1.20M330.20 458.37h-1.20M458.10 458.37h1.20M330.20 462.00h-2.50M458.10 462.00h2.50M330.20 465.63h-1.20M458.10 465.63h1.20M330.20 469.27h-1.20M458.10 469.27h1.20M330.20 472.90h-2.50M458.10 472.90h2.50" stroke="#000" stroke-width="0.8" fill="none"/><svg x="61.00" y="486.00" width="127.90" height="65.40" viewBox="0 0 360 180" preserveAspectRatio="none"><rect x="0" y="0" width="360" height="180" fill="#0ab414"/><path d="M0 30L30 25L60 28L100 30L130 32L145 40L140 55L125 68L110 80L100 90L80 85L60 78L50 82L45 95L40 110L36 122L18 125L10 105L5 87L0 85Z" fill="#40c40e"/><ellipse cx="90" cy="48" rx="10" ry="5" fill="#0ab414"/><ellipse cx="25" cy="112" rx="9" ry="12" fill="#74d40a"/><ellipse cx="30" cy="82" rx="8" ry="5" fill="#74d40a"/><ellipse cx="75" cy="68" rx="8" ry="8" fill="#40c40e"/><path d="M235 22L290 22L300 35L285 50L278 62L262 72L252 65L240 48Z" fill="#40c40e"/><ellipse cx="320" cy="15" rx="15" ry="6" fill="#40c40e"/><path d="M282.7 82L284 80.5L284.5 79.5L286 78.7L288 78L288.7 79L288.5 79.5L290 78.5L292 79.5L295 79.9L298 79.3L299 81L301 82L303 84L306 84.2L308 85.5L309 86.5L310 88.3L310 90L312 91L315 91.5L318 92.8L321 93.5L323 94.8L324.8 95.5L325.2 97.5L324.7 99.5L323 101L321.3 103L321 106L320.5 108L319.5 111L318 113L315.5 113.3L313 114.5L311.5 116.5L311.3 118.5L309.5 121L307.5 123.5L306 124.7L303 125.5L302.7 127L302.2 128.5L298 129L297.5 130.5L295 131L295.5 132.5L294.5 135L292.5 136.5L294 138L291.5 140.5L291.5 142.3L290 143L288.5 144L286 142.5L284.5 140L285.5 136L286.5 133L286.3 130L286.6 127L288.3 123L288.5 120L289.4 115L289.8 110L289.6 108.4L288 107L284.5 105L283.5 103L282 100L280.5 97L279 95.5L278.8 94.2L280 93L279.5 91L280 89.2L281.2 88.5L282.5 86.5L282.7 84L282.2 82.8L282.7 82Z" fill="#74d40a"/><ellipse cx="290" cy="135" rx="4" ry="8" fill="#40c40e"/><path d="M113.5 112L114.2 116L113.5 116.5L115 119.5L115.7 123.3L115 124.3L117.8 125L121 123.8L124 123L126 122.3L129 121.6L131.5 121.5L134 122.8L135.6 124.8L137.5 123L137.8 125.5L139.5 125.7L140.5 128L143.5 128.8L146.3 129.1L148 127.8L150 127.5L151.2 124L152.5 122L153.6 118.5L153 115.3L150.8 112.5L149 110.5L146.3 109L145.5 106L145.3 104.8L143.6 104L142.5 100.7L141.6 102.8L141.5 105.5L140.5 107.6L139.3 107.4L137 105.8L135.5 105L136.8 102.2L135.5 102L132.5 101.5L131 102.2L129.5 104.8L127.5 104L125.5 104.5L124 106.5L122.2 108L121 109.5L118.5 110.3L116.5 110.8L114.6 111.8L113.5 112Z" fill="#40c40e"/><path d="M210 95L280 105L285 115L265 118L230 110L200 102Z" fill="#40c40e"/><ellipse cx="250" cy="80" rx="25" ry="3" fill="#40c40e" transform="rotate(-10 250 80)"/><ellipse cx="330" cy="110" rx="15" ry="5" fill="#40c40e"/><path d="M20 138L80 135L140 140L180 145L180 154L60 154L0 150L0 142Z" fill="#0a8c50"/><ellipse cx="200" cy="152" rx="30" ry="4" fill="#0a8c50"/><ellipse cx="300" cy="152" rx="40" ry="5" fill="#0a8c50"/><ellipse cx="100" cy="130" rx="20" ry="2" fill="#0a8c50"/><use href="#antland" fill="#066478"/><rect x="0" y="162" width="360" height="18" fill="#066478"/><ellipse cx="330" cy="160" rx="30" ry="3" fill="#0a8c50"/><ellipse cx="250" cy="162" rx="30" ry="3" fill="#0a8c50"/><ellipse cx="60" cy="170" rx="8" ry="2" fill="#0a3cb0"/><ellipse cx="120" cy="174" rx="8" ry="2" fill="#0a3cb0"/><ellipse cx="240" cy="176" rx="10" ry="2" fill="#0a3cb0"/><use href="#coast"/></svg><rect x="61.00" y="486.00" width="127.90" height="65.40" fill="none" stroke="#000" stroke-width="1"/><path d="M61.00 486.00v-2.50M61.00 551.40v2.50M64.55 486.00v-1.20M64.55 551.40v1.20M68.11 486.00v-1.20M68.11 551.40v1.20M71.66 486.00v-1.20M71.66 551.40v1.20M75.21 486.00v-1.20M75.21 551.40v1.20M78.76 486.00v-1.20M78.76 551.40v1.20M82.32 486.00v-2.50M82.32 551.40v2.50M85.87 486.00v-1.20M85.87 551.40v1.20M89.42 486.00v-1.20M89.42 551.40v1.20M92.98 486.00v-1.20M92.98 551.40v1.20M96.53 486.00v-1.20M96.53 551.40v1.20M100.08 486.00v-1.20M100.08 551.40v1.20M103.63 486.00v-2.50M103.63 551.40v2.50M107.19 486.00v-1.20M107.19 551.40v1.20M110.74 486.00v-1.20M110.74 551.40v1.20M114.29 486.00v-1.20M114.29 551.40v1.20M117.84 486.00v-1.20M117.84 551.40v1.20M121.40 486.00v-1.20M121.40 551.40v1.20M124.95 486.00v-2.50M124.95 551.40v2.50M128.50 486.00v-1.20M128.50 551.40v1.20M132.06 486.00v-1.20M132.06 551.40v1.20M135.61 486.00v-1.20M135.61 551.40v1.20M139.16 486.00v-1.20M139.16 551.40v1.20M142.71 486.00v-1.20M142.71 551.40v1.20M146.27 486.00v-2.50M146.27 551.40v2.50M149.82 486.00v-1.20M149.82 551.40v1.20M153.37 486.00v-1.20M153.37 551.40v1.20M156.93 486.00v-1.20M156.93 551.40v1.20M160.48 486.00v-1.20M160.48 551.40v1.20M164.03 486.00v-1.20M164.03 551.40v1.20M167.58 486.00v-2.50M167.58 551.40v2.50M171.14 486.00v-1.20M171.14 551.40v1.20M174.69 486.00v-1.20M174.69 551.40v1.20M178.24 486.00v-1.20M178.24 551.40v1.20M181.79 486.00v-1.20M181.79 551.40v1.20M185.35 486.00v-1.20M185.35 551.40v1.20M188.90 486.00v-2.50M188.90 551.40v2.50M61.00 486.00h-2.50M188.90 486.00h2.50M61.00 489.63h-1.20M188.90 489.63h1.20M61.00 493.27h-1.20M188.90 493.27h1.20M61.00 496.90h-2.50M188.90 496.90h2.50M61.00 500.53h-1.20M188.90 500.53h1.20M61.00 504.17h-1.20M188.90 504.17h1.20M61.00 507.80h-2.50M188.90 507.80h2.50M61.00 511.43h-1.20M188.90 511.43h1.20M61.00 515.07h-1.20M188.90 515.07h1.20M61.00 518.70h-2.50M188.90 518.70h2.50M61.00 522.33h-1.20M188.90 522.33h1.20M61.00 525.97h-1.20M188.90 525.97h1.20M61.00 529.60h-2.50M188.90 529.60h2.50M61.00 533.23h-1.20M188.90 533.23h1.20M61.00 536.87h-1.20M188.90 536.87h1.20M61.00 540.50h-2.50M188.90 540.50h2.50M61.00 544.13h-1.20M188.90 544.13h1.20M61.00 547.77h-1.20M188.90 547.77h1.20M61.00 551.40h-2.50M188.90 551.40h2.50" stroke="#000" stroke-width="0.8" fill="none"/><svg x="195.60" y="486.00" width="127.90" height="65.40" viewBox="0 0 360 180" preserveAspectRatio="none"><rect x="0" y="0" width="360" height="180" fill="#0ab414"/><path d="M0 32L60 30L130 32L150 42L200 45L250 45L262 60L255 80L220 85L180 82L140 78L120 70L100 65L60 70L40 80L20 85L0 80Z" fill="#40c40e"/><path d="M280 45L300 40L350 40L360 50L360 75L330 80L300 75Z" fill="#40c40e"/><path d="M200 95L270 98L285 115L260 122L220 115L195 105Z" fill="#40c40e"/><ellipse cx="330" cy="108" rx="20" ry="8" fill="#40c40e"/><path d="M282.7 82L284 80.5L284.5 79.5L286 78.7L288 78L288.7 79L288.5 79.5L290 78.5L292 79.5L295 79.9L298 79.3L299 81L301 82L303 84L306 84.2L308 85.5L309 86.5L310 88.3L310 90L312 91L315 91.5L318 92.8L321 93.5L323 94.8L324.8 95.5L325.2 97.5L324.7 99.5L323 101L321.3 103L321 106L320.5 108L319.5 111L318 113L315.5 113.3L313 114.5L311.5 116.5L311.3 118.5L309.5 121L307.5 123.5L306 124.7L303 125.5L302.7 127L302.2 128.5L298 129L297.5 130.5L295 131L295.5 132.5L294.5 135L292.5 136.5L294 138L291.5 140.5L291.5 142.3L290 143L288.5 144L286 142.5L284.5 140L285.5 136L286.5 133L286.3 130L286.6 127L288.3 123L288.5 120L289.4 115L289.8 110L289.6 108.4L288 107L284.5 105L283.5 103L282 100L280.5 97L279 95.5L278.8 94.2L280 93L279.5 91L280 89.2L281.2 88.5L282.5 86.5L282.7 84L282.2 82.8L282.7 82Z" fill="#40c40e"/><ellipse cx="300" cy="102" rx="8" ry="8" fill="#74d40a"/><ellipse cx="25" cy="110" rx="8" ry="10" fill="#40c40e"/><ellipse cx="90" cy="45" rx="12" ry="6" fill="#0ab414"/><path d="M20 142L80 138L140 142L180 146L180 154L60 154L0 152L0 145Z" fill="#0a8c50"/><ellipse cx="200" cy="152" rx="30" ry="4" fill="#0a8c50"/><ellipse cx="300" cy="152" rx="40" ry="5" fill="#0a8c50"/><use href="#antland" fill="#066478"/><rect x="0" y="162" width="360" height="18" fill="#066478"/><ellipse cx="330" cy="160" rx="30" ry="3" fill="#0a8c50"/><ellipse cx="60" cy="170" rx="8" ry="2" fill="#0a3cb0"/><ellipse cx="240" cy="176" rx="10" ry="2" fill="#0a3cb0"/><use href="#coast"/></svg><rect x="195.60" y="486.00" width="127.90" height="65.40" fill="none" stroke="#000" stroke-width="1"/><path d="M195.60 486.00v-2.50M195.60 551.40v2.50M199.15 486.00v-1.20M199.15 551.40v1.20M202.71 486.00v-1.20M202.71 551.40v1.20M206.26 486.00v-1.20M206.26 551.40v1.20M209.81 486.00v-1.20M209.81 551.40v1.20M213.36 486.00v-1.20M213.36 551.40v1.20M216.92 486.00v-2.50M216.92 551.40v2.50M220.47 486.00v-1.20M220.47 551.40v1.20M224.02 486.00v-1.20M224.02 551.40v1.20M227.57 486.00v-1.20M227.57 551.40v1.20M231.13 486.00v-1.20M231.13 551.40v1.20M234.68 486.00v-1.20M234.68 551.40v1.20M238.23 486.00v-2.50M238.23 551.40v2.50M241.79 486.00v-1.20M241.79 551.40v1.20M245.34 486.00v-1.20M245.34 551.40v1.20M248.89 486.00v-1.20M248.89 551.40v1.20M252.44 486.00v-1.20M252.44 551.40v1.20M256.00 486.00v-1.20M256.00 551.40v1.20M259.55 486.00v-2.50M259.55 551.40v2.50M263.10 486.00v-1.20M263.10 551.40v1.20M266.66 486.00v-1.20M266.66 551.40v1.20M270.21 486.00v-1.20M270.21 551.40v1.20M273.76 486.00v-1.20M273.76 551.40v1.20M277.31 486.00v-1.20M277.31 551.40v1.20M280.87 486.00v-2.50M280.87 551.40v2.50M284.42 486.00v-1.20M284.42 551.40v1.20M287.97 486.00v-1.20M287.97 551.40v1.20M291.52 486.00v-1.20M291.52 551.40v1.20M295.08 486.00v-1.20M295.08 551.40v1.20M298.63 486.00v-1.20M298.63 551.40v1.20M302.18 486.00v-2.50M302.18 551.40v2.50M305.74 486.00v-1.20M305.74 551.40v1.20M309.29 486.00v-1.20M309.29 551.40v1.20M312.84 486.00v-1.20M312.84 551.40v1.20M316.39 486.00v-1.20M316.39 551.40v1.20M319.95 486.00v-1.20M319.95 551.40v1.20M323.50 486.00v-2.50M323.50 551.40v2.50M195.60 486.00h-2.50M323.50 486.00h2.50M195.60 489.63h-1.20M323.50 489.63h1.20M195.60 493.27h-1.20M323.50 493.27h1.20M195.60 496.90h-2.50M323.50 496.90h2.50M195.60 500.53h-1.20M323.50 500.53h1.20M195.60 504.17h-1.20M323.50 504.17h1.20M195.60 507.80h-2.50M323.50 507.80h2.50M195.60 511.43h-1.20M323.50 511.43h1.20M195.60 515.07h-1.20M323.50 515.07h1.20M195.60 518.70h-2.50M323.50 518.70h2.50M195.60 522.33h-1.20M323.50 522.33h1.20M195.60 525.97h-1.20M323.50 525.97h1.20M195.60 529.60h-2.50M323.50 529.60h2.50M195.60 533.23h-1.20M323.50 533.23h1.20M195.60 536.87h-1.20M323.50 536.87h1.20M195.60 540.50h-2.50M323.50 540.50h2.50M195.60 544.13h-1.20M323.50 544.13h1.20M195.60 547.77h-1.20M323.50 547.77h1.20M195.60 551.40h-2.50M323.50 551.40h2.50" stroke="#000" stroke-width="0.8" fill="none"/><svg x="330.20" y="486.00" width="127.90" height="65.40" viewBox="0 0 360 180" preserveAspectRatio="none"><rect x="0" y="0" width="360" height="180" fill="#ffffff"/><ellipse cx="22" cy="90" rx="14" ry="25" fill="#c2e3f5"/><ellipse cx="25" cy="105" rx="6" ry="8" fill="#a3d3f0"/><ellipse cx="70" cy="45" rx="50" ry="15" fill="#dbeef8"/><ellipse cx="100" cy="60" rx="15" ry="10" fill="#dbeef8"/><ellipse cx="245" cy="45" rx="10" ry="15" fill="#c2e3f5"/><ellipse cx="260" cy="35" rx="15" ry="8" fill="#dbeef8"/><ellipse cx="302" cy="102" rx="12" ry="15" fill="#a3d3f0"/><ellipse cx="295" cy="125" rx="6" ry="10" fill="#c2e3f5"/><ellipse cx="135" cy="115" rx="12" ry="8" fill="#dbeef8"/><ellipse cx="180" cy="145" rx="60" ry="5" fill="#eef7fc"/><ellipse cx="100" cy="165" rx="60" ry="5" fill="#feedb8"/><ellipse cx="200" cy="60" rx="30" ry="10" fill="#fef8e4"/><ellipse cx="350" cy="50" rx="10" ry="8" fill="#feedb8"/><ellipse cx="250" cy="160" rx="30" ry="4" fill="#feedb8"/><ellipse cx="300" cy="130" rx="30" ry="6" fill="#fef8e4"/><use href="#coast"/></svg><rect x="330.20" y="486.00" width="127.90" height="65.40" fill="none" stroke="#000" stroke-width="1"/><path d="M330.20 486.00v-2.50M330.20 551.40v2.50M333.75 486.00v-1.20M333.75 551.40v1.20M337.31 486.00v-1.20M337.31 551.40v1.20M340.86 486.00v-1.20M340.86 551.40v1.20M344.41 486.00v-1.20M344.41 551.40v1.20M347.96 486.00v-1.20M347.96 551.40v1.20M351.52 486.00v-2.50M351.52 551.40v2.50M355.07 486.00v-1.20M355.07 551.40v1.20M358.62 486.00v-1.20M358.62 551.40v1.20M362.18 486.00v-1.20M362.18 551.40v1.20M365.73 486.00v-1.20M365.73 551.40v1.20M369.28 486.00v-1.20M369.28 551.40v1.20M372.83 486.00v-2.50M372.83 551.40v2.50M376.39 486.00v-1.20M376.39 551.40v1.20M379.94 486.00v-1.20M379.94 551.40v1.20M383.49 486.00v-1.20M383.49 551.40v1.20M387.04 486.00v-1.20M387.04 551.40v1.20M390.60 486.00v-1.20M390.60 551.40v1.20M394.15 486.00v-2.50M394.15 551.40v2.50M397.70 486.00v-1.20M397.70 551.40v1.20M401.26 486.00v-1.20M401.26 551.40v1.20M404.81 486.00v-1.20M404.81 551.40v1.20M408.36 486.00v-1.20M408.36 551.40v1.20M411.91 486.00v-1.20M411.91 551.40v1.20M415.47 486.00v-2.50M415.47 551.40v2.50M419.02 486.00v-1.20M419.02 551.40v1.20M422.57 486.00v-1.20M422.57 551.40v1.20M426.12 486.00v-1.20M426.12 551.40v1.20M429.68 486.00v-1.20M429.68 551.40v1.20M433.23 486.00v-1.20M433.23 551.40v1.20M436.78 486.00v-2.50M436.78 551.40v2.50M440.34 486.00v-1.20M440.34 551.40v1.20M443.89 486.00v-1.20M443.89 551.40v1.20M447.44 486.00v-1.20M447.44 551.40v1.20M450.99 486.00v-1.20M450.99 551.40v1.20M454.55 486.00v-1.20M454.55 551.40v1.20M458.10 486.00v-2.50M458.10 551.40v2.50M330.20 486.00h-2.50M458.10 486.00h2.50M330.20 489.63h-1.20M458.10 489.63h1.20M330.20 493.27h-1.20M458.10 493.27h1.20M330.20 496.90h-2.50M458.10 496.90h2.50M330.20 500.53h-1.20M458.10 500.53h1.20M330.20 504.17h-1.20M458.10 504.17h1.20M330.20 507.80h-2.50M458.10 507.80h2.50M330.20 511.43h-1.20M458.10 511.43h1.20M330.20 515.07h-1.20M458.10 515.07h1.20M330.20 518.70h-2.50M458.10 518.70h2.50M330.20 522.33h-1.20M458.10 522.33h1.20M330.20 525.97h-1.20M458.10 525.97h1.20M330.20 529.60h-2.50M458.10 529.60h2.50M330.20 533.23h-1.20M458.10 533.23h1.20M330.20 536.87h-1.20M458.10 536.87h1.20M330.20 540.50h-2.50M458.10 540.50h2.50M330.20 544.13h-1.20M458.10 544.13h1.20M330.20 547.77h-1.20M458.10 547.77h1.20M330.20 551.40h-2.50M458.10 551.40h2.50" stroke="#000" stroke-width="0.8" fill="none"/><g fill="#111" stroke="#111" stroke-width="0.12"><text x="13.6" y="50.65" font-size="8.4" text-anchor="middle">ACC</text><text x="53.5" y="18.10" font-size="8.5" text-anchor="end">90N</text><text x="53.5" y="29.00" font-size="8.5" text-anchor="end">60N</text><text x="53.5" y="39.90" font-size="8.5" text-anchor="end">30N</text><text x="53.5" y="50.80" font-size="8.5" text-anchor="end">0</text><text x="53.5" y="61.70" font-size="8.5" text-anchor="end">30S</text><text x="53.5" y="72.60" font-size="8.5" text-anchor="end">60S</text><text x="53.5" y="83.50" font-size="8.5" text-anchor="end">90S</text><text x="189.20" y="11.90" font-size="8.9" text-anchor="end">mean = 0.222</text><text x="323.80" y="11.90" font-size="8.9" text-anchor="end">mean = 0.220</text><text x="458.40" y="11.90" font-size="8.9" text-anchor="end">mean = 0.001</text><text x="13.6" y="131.05" font-size="8.4" text-anchor="middle">AIT</text><text x="53.5" y="96.60" font-size="8.5" text-anchor="end">90N</text><text x="53.5" y="107.50" font-size="8.5" text-anchor="end">60N</text><text x="53.5" y="118.40" font-size="8.5" text-anchor="end">30N</text><text x="53.5" y="129.30" font-size="8.5" text-anchor="end">0</text><text x="53.5" y="140.20" font-size="8.5" text-anchor="end">30S</text><text x="53.5" y="151.10" font-size="8.5" text-anchor="end">60S</text><text x="53.5" y="162.00" font-size="8.5" text-anchor="end">90S</text><text x="189.20" y="90.40" font-size="8.9" text-anchor="end">mean = 0.022</text><text x="323.80" y="90.40" font-size="8.9" text-anchor="end">mean = 0.020</text><text x="458.40" y="90.40" font-size="8.9" text-anchor="end">mean = -0.004</text><text x="13.6" y="211.65" font-size="8.4" text-anchor="middle">CDU</text><text x="53.5" y="175.10" font-size="8.5" text-anchor="end">90N</text><text x="53.5" y="186.00" font-size="8.5" text-anchor="end">60N</text><text x="53.5" y="196.90" font-size="8.5" text-anchor="end">30N</text><text x="53.5" y="207.80" font-size="8.5" text-anchor="end">0</text><text x="53.5" y="218.70" font-size="8.5" text-anchor="end">30S</text><text x="53.5" y="229.60" font-size="8.5" text-anchor="end">60S</text><text x="53.5" y="240.50" font-size="8.5" text-anchor="end">90S</text><text x="189.20" y="168.90" font-size="8.9" text-anchor="end">mean = 1.089</text><text x="323.80" y="168.90" font-size="8.9" text-anchor="end">mean = 1.062</text><text x="458.40" y="168.90" font-size="8.9" text-anchor="end">mean = -0.006</text><text x="13.6" y="285.65" font-size="8.4" text-anchor="middle">CSS</text><text x="53.5" y="253.60" font-size="8.5" text-anchor="end">90N</text><text x="53.5" y="264.50" font-size="8.5" text-anchor="end">60N</text><text x="53.5" y="275.40" font-size="8.5" text-anchor="end">30N</text><text x="53.5" y="286.30" font-size="8.5" text-anchor="end">0</text><text x="53.5" y="297.20" font-size="8.5" text-anchor="end">30S</text><text x="53.5" y="308.10" font-size="8.5" text-anchor="end">60S</text><text x="53.5" y="319.00" font-size="8.5" text-anchor="end">90S</text><text x="189.20" y="247.40" font-size="8.9" text-anchor="end">mean = 0.147</text><text x="323.80" y="247.40" font-size="8.9" text-anchor="end">mean = 0.143</text><text x="458.40" y="247.40" font-size="8.9" text-anchor="end">mean = 0.005</text><text x="13.6" y="366.05" font-size="8.4" text-anchor="middle">FDU</text><text x="53.5" y="332.10" font-size="8.5" text-anchor="end">90N</text><text x="53.5" y="343.00" font-size="8.5" text-anchor="end">60N</text><text x="53.5" y="353.90" font-size="8.5" text-anchor="end">30N</text><text x="53.5" y="364.80" font-size="8.5" text-anchor="end">0</text><text x="53.5" y="375.70" font-size="8.5" text-anchor="end">30S</text><text x="53.5" y="386.60" font-size="8.5" text-anchor="end">60S</text><text x="53.5" y="397.50" font-size="8.5" text-anchor="end">90S</text><text x="189.20" y="325.90" font-size="8.9" text-anchor="end">mean = 0.439</text><text x="323.80" y="325.90" font-size="8.9" text-anchor="end">mean = 0.403</text><text x="458.40" y="325.90" font-size="8.9" text-anchor="end">mean = -0.083</text><text x="13.6" y="446.35" font-size="8.4" text-anchor="middle">FSS</text><text x="53.5" y="410.60" font-size="8.5" text-anchor="end">90N</text><text x="53.5" y="421.50" font-size="8.5" text-anchor="end">60N</text><text x="53.5" y="432.40" font-size="8.5" text-anchor="end">30N</text><text x="53.5" y="443.30" font-size="8.5" text-anchor="end">0</text><text x="53.5" y="454.20" font-size="8.5" text-anchor="end">30S</text><text x="53.5" y="465.10" font-size="8.5" text-anchor="end">60S</text><text x="53.5" y="476.00" font-size="8.5" text-anchor="end">90S</text><text x="189.20" y="404.40" font-size="8.9" text-anchor="end">mean = 0.293</text><text x="323.80" y="404.40" font-size="8.9" text-anchor="end">mean = 0.287</text><text x="458.40" y="404.40" font-size="8.9" text-anchor="end">mean = -0.008</text><text x="13.6" y="520.45" font-size="8.4" text-anchor="middle">PCM</text><text x="53.5" y="489.10" font-size="8.5" text-anchor="end">90N</text><text x="53.5" y="500.00" font-size="8.5" text-anchor="end">60N</text><text x="53.5" y="510.90" font-size="8.5" text-anchor="end">30N</text><text x="53.5" y="521.80" font-size="8.5" text-anchor="end">0</text><text x="53.5" y="532.70" font-size="8.5" text-anchor="end">30S</text><text x="53.5" y="543.60" font-size="8.5" text-anchor="end">60S</text><text x="53.5" y="554.50" font-size="8.5" text-anchor="end">90S</text><text x="189.20" y="482.90" font-size="8.9" text-anchor="end">mean = 0.142</text><text x="323.80" y="482.90" font-size="8.9" text-anchor="end">mean = 0.133</text><text x="458.40" y="482.90" font-size="8.9" text-anchor="end">mean = -0.015</text><text x="61.00" y="11.90" font-size="8.8">GEOS+MAM7</text><text x="195.60" y="11.90" font-size="8.8">MAMnet</text><text x="330.20" y="11.90" font-size="8.8">MLB</text><text x="61.00" y="566.6" font-size="8.5" text-anchor="middle">0</text><text x="82.32" y="566.6" font-size="8.5" text-anchor="middle">60E</text><text x="103.63" y="566.6" font-size="8.5" text-anchor="middle">120E</text><text x="124.95" y="566.6" font-size="8.5" text-anchor="middle">180</text><text x="146.27" y="566.6" font-size="8.5" text-anchor="middle">120W</text><text x="167.58" y="566.6" font-size="8.5" text-anchor="middle">60W</text><text x="188.90" y="566.6" font-size="8.5" text-anchor="middle">0</text><text x="195.60" y="566.6" font-size="8.5" text-anchor="middle">0</text><text x="216.92" y="566.6" font-size="8.5" text-anchor="middle">60E</text><text x="238.23" y="566.6" font-size="8.5" text-anchor="middle">120E</text><text x="259.55" y="566.6" font-size="8.5" text-anchor="middle">180</text><text x="280.87" y="566.6" font-size="8.5" text-anchor="middle">120W</text><text x="302.18" y="566.6" font-size="8.5" text-anchor="middle">60W</text><text x="323.50" y="566.6" font-size="8.5" text-anchor="middle">0</text><text x="330.20" y="566.6" font-size="8.5" text-anchor="middle">0</text><text x="351.52" y="566.6" font-size="8.5" text-anchor="middle">60E</text><text x="372.83" y="566.6" font-size="8.5" text-anchor="middle">120E</text><text x="394.15" y="566.6" font-size="8.5" text-anchor="middle">180</text><text x="415.47" y="566.6" font-size="8.5" text-anchor="middle">120W</text><text x="436.78" y="566.6" font-size="8.5" text-anchor="middle">60W</text><text x="458.10" y="566.6" font-size="8.5" text-anchor="middle">0</text></g><path d="M472.80 89.00L477.25 68.1L481.70 89.00Z" fill="#9b1520" stroke="#555" stroke-width="0.4"/><rect x="472.80" y="89.00" width="8.90" height="20.91" fill="#b21a28" stroke="#333" stroke-width="0.6"/><rect x="472.80" y="109.91" width="8.90" height="20.91" fill="#d8232e" stroke="#333" stroke-width="0.6"/><rect x="472.80" y="130.82" width="8.90" height="20.91" fill="#ea5027" stroke="#333" stroke-width="0.6"/><rect x="472.80" y="151.73" width="8.90" height="20.91" fill="#f5822a" stroke="#333" stroke-width="0.6"/><rect x="472.80" y="172.64" width="8.90" height="20.91" fill="#faa032" stroke="#333" stroke-width="0.6"/><rect x="472.80" y="193.55" width="8.90" height="20.91" fill="#fcc04a" stroke="#333" stroke-width="0.6"/><rect x="472.80" y="214.46" width="8.90" height="20.91" fill="#fdd985" stroke="#333" stroke-width="0.6"/><rect x="472.80" y="235.37" width="8.90" height="20.91" fill="#feedb8" stroke="#333" stroke-width="0.6"/><rect x="472.80" y="256.28" width="8.90" height="20.91" fill="#fef8e4" stroke="#333" stroke-width="0.6"/><rect x="472.80" y="277.19" width="8.90" height="20.91" fill="#ffffff" stroke="#333" stroke-width="0.6"/><rect x="472.80" y="298.10" width="8.90" height="20.91" fill="#ffffff" stroke="#333" stroke-width="0.6"/><rect x="472.80" y="319.01" width="8.90" height="20.91" fill="#eef7fc" stroke="#333" stroke-width="0.6"/><rect x="472.80" y="339.92" width="8.90" height="20.91" fill="#dbeef8" stroke="#333" stroke-width="0.6"/><rect x="472.80" y="360.83" width="8.90" height="20.91" fill="#c2e3f5" stroke="#333" stroke-width="0.6"/><rect x="472.80" y="381.74" width="8.90" height="20.91" fill="#a3d3f0" stroke="#333" stroke-width="0.6"/><rect x="472.80" y="402.65" width="8.90" height="20.91" fill="#7bbde6" stroke="#333" stroke-width="0.6"/><rect x="472.80" y="423.56" width="8.90" height="20.91" fill="#5aa5da" stroke="#333" stroke-width="0.6"/><rect x="472.80" y="444.47" width="8.90" height="20.91" fill="#3d87c6" stroke="#333" stroke-width="0.6"/><rect x="472.80" y="465.38" width="8.90" height="20.91" fill="#2a65ae" stroke="#333" stroke-width="0.6"/><rect x="472.80" y="486.29" width="8.90" height="20.91" fill="#1f4a8e" stroke="#333" stroke-width="0.6"/><path d="M472.80 507.20L477.25 527.6L481.70 507.20Z" fill="#1a2e6e" stroke="#555" stroke-width="0.4"/><text x="490.3" y="91.40" font-size="6.8" text-anchor="middle" fill="#222">.5</text><text x="490.3" y="112.31" font-size="6.8" text-anchor="middle" fill="#222">.45</text><text x="490.3" y="133.22" font-size="6.8" text-anchor="middle" fill="#222">.4</text><text x="490.3" y="154.13" font-size="6.8" text-anchor="middle" fill="#222">.35</text><text x="490.3" y="175.04" font-size="6.8" text-anchor="middle" fill="#222">.3</text><text x="490.3" y="195.95" font-size="6.8" text-anchor="middle" fill="#222">.25</text><text x="490.3" y="216.86" font-size="6.8" text-anchor="middle" fill="#222">.2</text><text x="490.3" y="237.77" font-size="6.8" text-anchor="middle" fill="#222">.15</text><text x="490.3" y="258.68" font-size="6.8" text-anchor="middle" fill="#222">.1</text><text x="490.3" y="279.59" font-size="6.8" text-anchor="middle" fill="#222">.05</text><text x="490.3" y="300.50" font-size="6.8" text-anchor="middle" fill="#222">.0</text><text x="490.3" y="321.41" font-size="6.8" text-anchor="middle" fill="#222">-.05</text><text x="490.3" y="342.32" font-size="6.8" text-anchor="middle" fill="#222">-.1</text><text x="490.3" y="363.23" font-size="6.8" text-anchor="middle" fill="#222">-.15</text><text x="490.3" y="384.14" font-size="6.8" text-anchor="middle" fill="#222">-.2</text><text x="490.3" y="405.05" font-size="6.8" text-anchor="middle" fill="#222">-.25</text><text x="490.3" y="425.96" font-size="6.8" text-anchor="middle" fill="#222">-.3</text><text x="490.3" y="446.87" font-size="6.8" text-anchor="middle" fill="#222">-.35</text><text x="490.3" y="467.78" font-size="6.8" text-anchor="middle" fill="#222">-.4</text><text x="490.3" y="488.69" font-size="6.8" text-anchor="middle" fill="#222">-.45</text><text x="490.3" y="509.60" font-size="6.8" text-anchor="middle" fill="#222">-.5</text><path d="M103.00 571.60L93.6 576.10L103.00 580.60Z" fill="#fff" stroke="#666" stroke-width="0.5"/><rect x="103.00" y="571.60" width="9.41" height="9.00" fill="#c8c8ff" stroke="#333" stroke-width="0.5"/><rect x="112.41" y="571.60" width="9.41" height="9.00" fill="#9696ff" stroke="#333" stroke-width="0.5"/><rect x="121.82" y="571.60" width="9.41" height="9.00" fill="#5a5aff" stroke="#333" stroke-width="0.5"/><rect x="131.24" y="571.60" width="9.41" height="9.00" fill="#2020ff" stroke="#333" stroke-width="0.5"/><rect x="140.65" y="571.60" width="9.41" height="9.00" fill="#0000e0" stroke="#333" stroke-width="0.5"/><rect x="150.06" y="571.60" width="9.41" height="9.00" fill="#0a3cb0" stroke="#333" stroke-width="0.5"/><rect x="159.47" y="571.60" width="9.41" height="9.00" fill="#066478" stroke="#333" stroke-width="0.5"/><rect x="168.88" y="571.60" width="9.41" height="9.00" fill="#0a8c50" stroke="#333" stroke-width="0.5"/><rect x="178.29" y="571.60" width="9.41" height="9.00" fill="#0ab414" stroke="#333" stroke-width="0.5"/><rect x="187.71" y="571.60" width="9.41" height="9.00" fill="#40c40e" stroke="#333" stroke-width="0.5"/><rect x="197.12" y="571.60" width="9.41" height="9.00" fill="#74d40a" stroke="#333" stroke-width="0.5"/><rect x="206.53" y="571.60" width="9.41" height="9.00" fill="#ace600" stroke="#333" stroke-width="0.5"/><rect x="215.94" y="571.60" width="9.41" height="9.00" fill="#e0f800" stroke="#333" stroke-width="0.5"/><rect x="225.35" y="571.60" width="9.41" height="9.00" fill="#ffe600" stroke="#333" stroke-width="0.5"/><rect x="234.76" y="571.60" width="9.41" height="9.00" fill="#ffb400" stroke="#333" stroke-width="0.5"/><rect x="244.18" y="571.60" width="9.41" height="9.00" fill="#ff7800" stroke="#333" stroke-width="0.5"/><rect x="253.59" y="571.60" width="9.41" height="9.00" fill="#ff4600" stroke="#333" stroke-width="0.5"/><path d="M263.00 571.60L273.2 576.10L263.00 580.60Z" fill="#ff0000" stroke="#444" stroke-width="0.4"/><text x="121.82" y="589.0" font-size="6.7" text-anchor="middle" fill="#222">.0126</text><text x="150.06" y="589.0" font-size="6.7" text-anchor="middle" fill="#222">.0355</text><text x="178.29" y="589.0" font-size="6.7" text-anchor="middle" fill="#222">.1</text><text x="206.53" y="589.0" font-size="6.7" text-anchor="middle" fill="#222">.2818</text><text x="234.76" y="589.0" font-size="6.7" text-anchor="middle" fill="#222">.7943</text><text x="263.00" y="589.0" font-size="6.7" text-anchor="middle" fill="#222">2.2387</text><text x="183.7" y="600.2" font-size="10.2" text-anchor="middle" fill="#111">Dpg (microns)</text></svg></body></html>
